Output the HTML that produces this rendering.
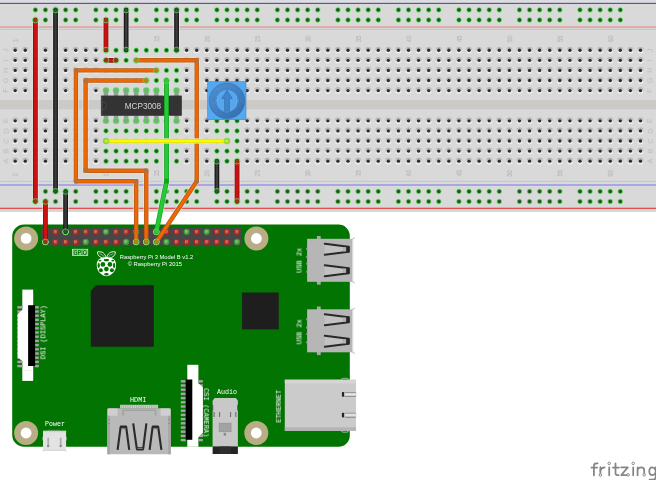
<!DOCTYPE html>
<html><head><meta charset="utf-8"><title>Fritzing - MCP3008 on Raspberry Pi 3</title>
<style>
html,body{margin:0;padding:0;background:#ffffff;overflow:hidden;}
body{width:656px;height:480px;font-family:"Liberation Sans",sans-serif;}
svg{display:block;}
</style></head><body>
<svg width="656" height="480" viewBox="0 0 656 480">
<rect x="0" y="0" width="656" height="480" fill="#ffffff"/>
<defs><filter id="gs" x="-20%" y="-20%" width="140%" height="140%"><feOffset dx="0" dy="0"/></filter></defs>
<rect x="-2" y="-2" width="660" height="213.6" fill="#d9d9d9"/>
<rect x="-2" y="-2" width="660" height="4.2" fill="#dcdcdc"/>
<rect x="-2" y="1.9" width="660" height="0.8" fill="#e6e4d2"/>
<rect x="-2" y="2.8" width="660" height="1.3" fill="#4e4ef0"/>
<rect x="-2" y="4.15" width="660" height="0.6" fill="#e2e1d8"/>
<rect x="-2" y="26.4" width="660" height="1.3" fill="#e89393"/>
<rect x="-2" y="28.9" width="660" height="0.9" fill="#c4c4c4"/>
<rect x="-2" y="100" width="660" height="9.4" fill="#cccac7"/>
<rect x="-2" y="180.9" width="660" height="0.9" fill="#c4c4c4"/>
<rect x="-2" y="184.2" width="660" height="1.6" fill="#9b9be6"/>
<rect x="-2" y="207.7" width="660" height="1.4" fill="#e45050"/>
<rect x="-2" y="209.4" width="660" height="0.9" fill="#d6dede"/>
<rect x="-2" y="210.6" width="660" height="1.0" fill="#d0d0d0"/>
<defs><linearGradient id="hh" x1="0" y1="0" x2="0" y2="1"><stop offset="0" stop-color="#aeaeae"/><stop offset="0.45" stop-color="#cecece"/><stop offset="0.7" stop-color="#e6e6e6"/><stop offset="1" stop-color="#f2f2f2"/></linearGradient><radialGradient id="gh" cx="0.5" cy="0.5" r="0.5"><stop offset="0" stop-color="#1e541e"/><stop offset="0.4" stop-color="#255e25"/><stop offset="0.52" stop-color="#3a8e3a"/><stop offset="0.66" stop-color="#6cc86c"/><stop offset="0.8" stop-color="#94e494"/><stop offset="0.9" stop-color="#b6eab6"/><stop offset="1" stop-color="#d9d9d9" stop-opacity="0"/></radialGradient><filter id="bl" x="-50%" y="-50%" width="200%" height="200%"><feGaussianBlur stdDeviation="0.5"/></filter><g id="dh"><circle r="3.3" fill="url(#hh)" filter="url(#bl)"/><circle r="1.68" fill="#2d2d2d"/></g><g id="gh0"><circle r="3.35" fill="url(#gh)"/></g></defs>
<circle cx="35.37" cy="9.88" r="3.35" fill="url(#gh)"/>
<circle cx="45.45" cy="9.88" r="3.35" fill="url(#gh)"/>
<circle cx="55.54" cy="9.88" r="3.35" fill="url(#gh)"/>
<circle cx="65.62" cy="9.88" r="3.35" fill="url(#gh)"/>
<circle cx="75.71" cy="9.88" r="3.35" fill="url(#gh)"/>
<circle cx="95.88" cy="9.88" r="3.35" fill="url(#gh)"/>
<circle cx="105.97" cy="9.88" r="3.35" fill="url(#gh)"/>
<circle cx="116.05" cy="9.88" r="3.35" fill="url(#gh)"/>
<circle cx="126.14" cy="9.88" r="3.35" fill="url(#gh)"/>
<circle cx="136.22" cy="9.88" r="3.35" fill="url(#gh)"/>
<circle cx="156.39" cy="9.88" r="3.35" fill="url(#gh)"/>
<circle cx="166.47" cy="9.88" r="3.35" fill="url(#gh)"/>
<circle cx="176.56" cy="9.88" r="3.35" fill="url(#gh)"/>
<circle cx="186.65" cy="9.88" r="3.35" fill="url(#gh)"/>
<circle cx="196.73" cy="9.88" r="3.35" fill="url(#gh)"/>
<circle cx="216.9" cy="9.88" r="3.35" fill="url(#gh)"/>
<circle cx="226.99" cy="9.88" r="3.35" fill="url(#gh)"/>
<circle cx="237.07" cy="9.88" r="3.35" fill="url(#gh)"/>
<circle cx="247.16" cy="9.88" r="3.35" fill="url(#gh)"/>
<circle cx="257.24" cy="9.88" r="3.35" fill="url(#gh)"/>
<circle cx="277.41" cy="9.88" r="3.35" fill="url(#gh)"/>
<circle cx="287.5" cy="9.88" r="3.35" fill="url(#gh)"/>
<circle cx="297.58" cy="9.88" r="3.35" fill="url(#gh)"/>
<circle cx="307.67" cy="9.88" r="3.35" fill="url(#gh)"/>
<circle cx="317.75" cy="9.88" r="3.35" fill="url(#gh)"/>
<circle cx="337.92" cy="9.88" r="3.35" fill="url(#gh)"/>
<circle cx="348" cy="9.88" r="3.35" fill="url(#gh)"/>
<circle cx="358.09" cy="9.88" r="3.35" fill="url(#gh)"/>
<circle cx="368.18" cy="9.88" r="3.35" fill="url(#gh)"/>
<circle cx="378.26" cy="9.88" r="3.35" fill="url(#gh)"/>
<circle cx="398.43" cy="9.88" r="3.35" fill="url(#gh)"/>
<circle cx="408.52" cy="9.88" r="3.35" fill="url(#gh)"/>
<circle cx="418.6" cy="9.88" r="3.35" fill="url(#gh)"/>
<circle cx="428.69" cy="9.88" r="3.35" fill="url(#gh)"/>
<circle cx="438.77" cy="9.88" r="3.35" fill="url(#gh)"/>
<circle cx="458.94" cy="9.88" r="3.35" fill="url(#gh)"/>
<circle cx="469.03" cy="9.88" r="3.35" fill="url(#gh)"/>
<circle cx="479.11" cy="9.88" r="3.35" fill="url(#gh)"/>
<circle cx="489.2" cy="9.88" r="3.35" fill="url(#gh)"/>
<circle cx="499.28" cy="9.88" r="3.35" fill="url(#gh)"/>
<circle cx="519.45" cy="9.88" r="3.35" fill="url(#gh)"/>
<circle cx="529.54" cy="9.88" r="3.35" fill="url(#gh)"/>
<circle cx="539.62" cy="9.88" r="3.35" fill="url(#gh)"/>
<circle cx="549.71" cy="9.88" r="3.35" fill="url(#gh)"/>
<circle cx="559.79" cy="9.88" r="3.35" fill="url(#gh)"/>
<circle cx="579.96" cy="9.88" r="3.35" fill="url(#gh)"/>
<circle cx="590.05" cy="9.88" r="3.35" fill="url(#gh)"/>
<circle cx="600.13" cy="9.88" r="3.35" fill="url(#gh)"/>
<circle cx="610.22" cy="9.88" r="3.35" fill="url(#gh)"/>
<circle cx="620.3" cy="9.88" r="3.35" fill="url(#gh)"/>
<circle cx="35.37" cy="19.97" r="3.35" fill="url(#gh)"/>
<circle cx="45.45" cy="19.97" r="3.35" fill="url(#gh)"/>
<circle cx="55.54" cy="19.97" r="3.35" fill="url(#gh)"/>
<circle cx="65.62" cy="19.97" r="3.35" fill="url(#gh)"/>
<circle cx="75.71" cy="19.97" r="3.35" fill="url(#gh)"/>
<circle cx="95.88" cy="19.97" r="3.35" fill="url(#gh)"/>
<circle cx="105.97" cy="19.97" r="3.35" fill="url(#gh)"/>
<circle cx="116.05" cy="19.97" r="3.35" fill="url(#gh)"/>
<circle cx="126.14" cy="19.97" r="3.35" fill="url(#gh)"/>
<circle cx="136.22" cy="19.97" r="3.35" fill="url(#gh)"/>
<circle cx="156.39" cy="19.97" r="3.35" fill="url(#gh)"/>
<circle cx="166.47" cy="19.97" r="3.35" fill="url(#gh)"/>
<circle cx="176.56" cy="19.97" r="3.35" fill="url(#gh)"/>
<circle cx="186.65" cy="19.97" r="3.35" fill="url(#gh)"/>
<circle cx="196.73" cy="19.97" r="3.35" fill="url(#gh)"/>
<circle cx="216.9" cy="19.97" r="3.35" fill="url(#gh)"/>
<circle cx="226.99" cy="19.97" r="3.35" fill="url(#gh)"/>
<circle cx="237.07" cy="19.97" r="3.35" fill="url(#gh)"/>
<circle cx="247.16" cy="19.97" r="3.35" fill="url(#gh)"/>
<circle cx="257.24" cy="19.97" r="3.35" fill="url(#gh)"/>
<circle cx="277.41" cy="19.97" r="3.35" fill="url(#gh)"/>
<circle cx="287.5" cy="19.97" r="3.35" fill="url(#gh)"/>
<circle cx="297.58" cy="19.97" r="3.35" fill="url(#gh)"/>
<circle cx="307.67" cy="19.97" r="3.35" fill="url(#gh)"/>
<circle cx="317.75" cy="19.97" r="3.35" fill="url(#gh)"/>
<circle cx="337.92" cy="19.97" r="3.35" fill="url(#gh)"/>
<circle cx="348" cy="19.97" r="3.35" fill="url(#gh)"/>
<circle cx="358.09" cy="19.97" r="3.35" fill="url(#gh)"/>
<circle cx="368.18" cy="19.97" r="3.35" fill="url(#gh)"/>
<circle cx="378.26" cy="19.97" r="3.35" fill="url(#gh)"/>
<circle cx="398.43" cy="19.97" r="3.35" fill="url(#gh)"/>
<circle cx="408.52" cy="19.97" r="3.35" fill="url(#gh)"/>
<circle cx="418.6" cy="19.97" r="3.35" fill="url(#gh)"/>
<circle cx="428.69" cy="19.97" r="3.35" fill="url(#gh)"/>
<circle cx="438.77" cy="19.97" r="3.35" fill="url(#gh)"/>
<circle cx="458.94" cy="19.97" r="3.35" fill="url(#gh)"/>
<circle cx="469.03" cy="19.97" r="3.35" fill="url(#gh)"/>
<circle cx="479.11" cy="19.97" r="3.35" fill="url(#gh)"/>
<circle cx="489.2" cy="19.97" r="3.35" fill="url(#gh)"/>
<circle cx="499.28" cy="19.97" r="3.35" fill="url(#gh)"/>
<circle cx="519.45" cy="19.97" r="3.35" fill="url(#gh)"/>
<circle cx="529.54" cy="19.97" r="3.35" fill="url(#gh)"/>
<circle cx="539.62" cy="19.97" r="3.35" fill="url(#gh)"/>
<circle cx="549.71" cy="19.97" r="3.35" fill="url(#gh)"/>
<circle cx="559.79" cy="19.97" r="3.35" fill="url(#gh)"/>
<circle cx="579.96" cy="19.97" r="3.35" fill="url(#gh)"/>
<circle cx="590.05" cy="19.97" r="3.35" fill="url(#gh)"/>
<circle cx="600.13" cy="19.97" r="3.35" fill="url(#gh)"/>
<circle cx="610.22" cy="19.97" r="3.35" fill="url(#gh)"/>
<circle cx="620.3" cy="19.97" r="3.35" fill="url(#gh)"/>
<circle cx="35.37" cy="191.41" r="3.35" fill="url(#gh)"/>
<circle cx="45.45" cy="191.41" r="3.35" fill="url(#gh)"/>
<circle cx="55.54" cy="191.41" r="3.35" fill="url(#gh)"/>
<circle cx="65.62" cy="191.41" r="3.35" fill="url(#gh)"/>
<circle cx="75.71" cy="191.41" r="3.35" fill="url(#gh)"/>
<circle cx="95.88" cy="191.41" r="3.35" fill="url(#gh)"/>
<circle cx="105.97" cy="191.41" r="3.35" fill="url(#gh)"/>
<circle cx="116.05" cy="191.41" r="3.35" fill="url(#gh)"/>
<circle cx="126.14" cy="191.41" r="3.35" fill="url(#gh)"/>
<circle cx="136.22" cy="191.41" r="3.35" fill="url(#gh)"/>
<circle cx="156.39" cy="191.41" r="3.35" fill="url(#gh)"/>
<circle cx="166.47" cy="191.41" r="3.35" fill="url(#gh)"/>
<circle cx="176.56" cy="191.41" r="3.35" fill="url(#gh)"/>
<circle cx="186.65" cy="191.41" r="3.35" fill="url(#gh)"/>
<circle cx="196.73" cy="191.41" r="3.35" fill="url(#gh)"/>
<circle cx="216.9" cy="191.41" r="3.35" fill="url(#gh)"/>
<circle cx="226.99" cy="191.41" r="3.35" fill="url(#gh)"/>
<circle cx="237.07" cy="191.41" r="3.35" fill="url(#gh)"/>
<circle cx="247.16" cy="191.41" r="3.35" fill="url(#gh)"/>
<circle cx="257.24" cy="191.41" r="3.35" fill="url(#gh)"/>
<circle cx="277.41" cy="191.41" r="3.35" fill="url(#gh)"/>
<circle cx="287.5" cy="191.41" r="3.35" fill="url(#gh)"/>
<circle cx="297.58" cy="191.41" r="3.35" fill="url(#gh)"/>
<circle cx="307.67" cy="191.41" r="3.35" fill="url(#gh)"/>
<circle cx="317.75" cy="191.41" r="3.35" fill="url(#gh)"/>
<circle cx="337.92" cy="191.41" r="3.35" fill="url(#gh)"/>
<circle cx="348" cy="191.41" r="3.35" fill="url(#gh)"/>
<circle cx="358.09" cy="191.41" r="3.35" fill="url(#gh)"/>
<circle cx="368.18" cy="191.41" r="3.35" fill="url(#gh)"/>
<circle cx="378.26" cy="191.41" r="3.35" fill="url(#gh)"/>
<circle cx="398.43" cy="191.41" r="3.35" fill="url(#gh)"/>
<circle cx="408.52" cy="191.41" r="3.35" fill="url(#gh)"/>
<circle cx="418.6" cy="191.41" r="3.35" fill="url(#gh)"/>
<circle cx="428.69" cy="191.41" r="3.35" fill="url(#gh)"/>
<circle cx="438.77" cy="191.41" r="3.35" fill="url(#gh)"/>
<circle cx="458.94" cy="191.41" r="3.35" fill="url(#gh)"/>
<circle cx="469.03" cy="191.41" r="3.35" fill="url(#gh)"/>
<circle cx="479.11" cy="191.41" r="3.35" fill="url(#gh)"/>
<circle cx="489.2" cy="191.41" r="3.35" fill="url(#gh)"/>
<circle cx="499.28" cy="191.41" r="3.35" fill="url(#gh)"/>
<circle cx="519.45" cy="191.41" r="3.35" fill="url(#gh)"/>
<circle cx="529.54" cy="191.41" r="3.35" fill="url(#gh)"/>
<circle cx="539.62" cy="191.41" r="3.35" fill="url(#gh)"/>
<circle cx="549.71" cy="191.41" r="3.35" fill="url(#gh)"/>
<circle cx="559.79" cy="191.41" r="3.35" fill="url(#gh)"/>
<circle cx="579.96" cy="191.41" r="3.35" fill="url(#gh)"/>
<circle cx="590.05" cy="191.41" r="3.35" fill="url(#gh)"/>
<circle cx="600.13" cy="191.41" r="3.35" fill="url(#gh)"/>
<circle cx="610.22" cy="191.41" r="3.35" fill="url(#gh)"/>
<circle cx="620.3" cy="191.41" r="3.35" fill="url(#gh)"/>
<circle cx="35.37" cy="201.5" r="3.35" fill="url(#gh)"/>
<circle cx="45.45" cy="201.5" r="3.35" fill="url(#gh)"/>
<circle cx="55.54" cy="201.5" r="3.35" fill="url(#gh)"/>
<circle cx="65.62" cy="201.5" r="3.35" fill="url(#gh)"/>
<circle cx="75.71" cy="201.5" r="3.35" fill="url(#gh)"/>
<circle cx="95.88" cy="201.5" r="3.35" fill="url(#gh)"/>
<circle cx="105.97" cy="201.5" r="3.35" fill="url(#gh)"/>
<circle cx="116.05" cy="201.5" r="3.35" fill="url(#gh)"/>
<circle cx="126.14" cy="201.5" r="3.35" fill="url(#gh)"/>
<circle cx="136.22" cy="201.5" r="3.35" fill="url(#gh)"/>
<circle cx="156.39" cy="201.5" r="3.35" fill="url(#gh)"/>
<circle cx="166.47" cy="201.5" r="3.35" fill="url(#gh)"/>
<circle cx="176.56" cy="201.5" r="3.35" fill="url(#gh)"/>
<circle cx="186.65" cy="201.5" r="3.35" fill="url(#gh)"/>
<circle cx="196.73" cy="201.5" r="3.35" fill="url(#gh)"/>
<circle cx="216.9" cy="201.5" r="3.35" fill="url(#gh)"/>
<circle cx="226.99" cy="201.5" r="3.35" fill="url(#gh)"/>
<circle cx="237.07" cy="201.5" r="3.35" fill="url(#gh)"/>
<circle cx="247.16" cy="201.5" r="3.35" fill="url(#gh)"/>
<circle cx="257.24" cy="201.5" r="3.35" fill="url(#gh)"/>
<circle cx="277.41" cy="201.5" r="3.35" fill="url(#gh)"/>
<circle cx="287.5" cy="201.5" r="3.35" fill="url(#gh)"/>
<circle cx="297.58" cy="201.5" r="3.35" fill="url(#gh)"/>
<circle cx="307.67" cy="201.5" r="3.35" fill="url(#gh)"/>
<circle cx="317.75" cy="201.5" r="3.35" fill="url(#gh)"/>
<circle cx="337.92" cy="201.5" r="3.35" fill="url(#gh)"/>
<circle cx="348" cy="201.5" r="3.35" fill="url(#gh)"/>
<circle cx="358.09" cy="201.5" r="3.35" fill="url(#gh)"/>
<circle cx="368.18" cy="201.5" r="3.35" fill="url(#gh)"/>
<circle cx="378.26" cy="201.5" r="3.35" fill="url(#gh)"/>
<circle cx="398.43" cy="201.5" r="3.35" fill="url(#gh)"/>
<circle cx="408.52" cy="201.5" r="3.35" fill="url(#gh)"/>
<circle cx="418.6" cy="201.5" r="3.35" fill="url(#gh)"/>
<circle cx="428.69" cy="201.5" r="3.35" fill="url(#gh)"/>
<circle cx="438.77" cy="201.5" r="3.35" fill="url(#gh)"/>
<circle cx="458.94" cy="201.5" r="3.35" fill="url(#gh)"/>
<circle cx="469.03" cy="201.5" r="3.35" fill="url(#gh)"/>
<circle cx="479.11" cy="201.5" r="3.35" fill="url(#gh)"/>
<circle cx="489.2" cy="201.5" r="3.35" fill="url(#gh)"/>
<circle cx="499.28" cy="201.5" r="3.35" fill="url(#gh)"/>
<circle cx="519.45" cy="201.5" r="3.35" fill="url(#gh)"/>
<circle cx="529.54" cy="201.5" r="3.35" fill="url(#gh)"/>
<circle cx="539.62" cy="201.5" r="3.35" fill="url(#gh)"/>
<circle cx="549.71" cy="201.5" r="3.35" fill="url(#gh)"/>
<circle cx="559.79" cy="201.5" r="3.35" fill="url(#gh)"/>
<circle cx="579.96" cy="201.5" r="3.35" fill="url(#gh)"/>
<circle cx="590.05" cy="201.5" r="3.35" fill="url(#gh)"/>
<circle cx="600.13" cy="201.5" r="3.35" fill="url(#gh)"/>
<circle cx="610.22" cy="201.5" r="3.35" fill="url(#gh)"/>
<circle cx="620.3" cy="201.5" r="3.35" fill="url(#gh)"/>
<circle cx="15.2" cy="50.22" r="3.3" fill="url(#hh)" filter="url(#bl)"/><circle cx="15.2" cy="50.22" r="1.68" fill="#2d2d2d"/>
<circle cx="15.2" cy="60.31" r="3.3" fill="url(#hh)" filter="url(#bl)"/><circle cx="15.2" cy="60.31" r="1.68" fill="#2d2d2d"/>
<circle cx="15.2" cy="70.39" r="3.3" fill="url(#hh)" filter="url(#bl)"/><circle cx="15.2" cy="70.39" r="1.68" fill="#2d2d2d"/>
<circle cx="15.2" cy="80.47" r="3.3" fill="url(#hh)" filter="url(#bl)"/><circle cx="15.2" cy="80.47" r="1.68" fill="#2d2d2d"/>
<circle cx="15.2" cy="90.56" r="3.3" fill="url(#hh)" filter="url(#bl)"/><circle cx="15.2" cy="90.56" r="1.68" fill="#2d2d2d"/>
<circle cx="15.2" cy="120.81" r="3.3" fill="url(#hh)" filter="url(#bl)"/><circle cx="15.2" cy="120.81" r="1.68" fill="#2d2d2d"/>
<circle cx="15.2" cy="130.9" r="3.3" fill="url(#hh)" filter="url(#bl)"/><circle cx="15.2" cy="130.9" r="1.68" fill="#2d2d2d"/>
<circle cx="15.2" cy="140.99" r="3.3" fill="url(#hh)" filter="url(#bl)"/><circle cx="15.2" cy="140.99" r="1.68" fill="#2d2d2d"/>
<circle cx="15.2" cy="151.07" r="3.3" fill="url(#hh)" filter="url(#bl)"/><circle cx="15.2" cy="151.07" r="1.68" fill="#2d2d2d"/>
<circle cx="15.2" cy="161.16" r="3.3" fill="url(#hh)" filter="url(#bl)"/><circle cx="15.2" cy="161.16" r="1.68" fill="#2d2d2d"/>
<circle cx="25.29" cy="50.22" r="3.3" fill="url(#hh)" filter="url(#bl)"/><circle cx="25.29" cy="50.22" r="1.68" fill="#2d2d2d"/>
<circle cx="25.29" cy="60.31" r="3.3" fill="url(#hh)" filter="url(#bl)"/><circle cx="25.29" cy="60.31" r="1.68" fill="#2d2d2d"/>
<circle cx="25.29" cy="70.39" r="3.3" fill="url(#hh)" filter="url(#bl)"/><circle cx="25.29" cy="70.39" r="1.68" fill="#2d2d2d"/>
<circle cx="25.29" cy="80.47" r="3.3" fill="url(#hh)" filter="url(#bl)"/><circle cx="25.29" cy="80.47" r="1.68" fill="#2d2d2d"/>
<circle cx="25.29" cy="90.56" r="3.3" fill="url(#hh)" filter="url(#bl)"/><circle cx="25.29" cy="90.56" r="1.68" fill="#2d2d2d"/>
<circle cx="25.29" cy="120.81" r="3.3" fill="url(#hh)" filter="url(#bl)"/><circle cx="25.29" cy="120.81" r="1.68" fill="#2d2d2d"/>
<circle cx="25.29" cy="130.9" r="3.3" fill="url(#hh)" filter="url(#bl)"/><circle cx="25.29" cy="130.9" r="1.68" fill="#2d2d2d"/>
<circle cx="25.29" cy="140.99" r="3.3" fill="url(#hh)" filter="url(#bl)"/><circle cx="25.29" cy="140.99" r="1.68" fill="#2d2d2d"/>
<circle cx="25.29" cy="151.07" r="3.3" fill="url(#hh)" filter="url(#bl)"/><circle cx="25.29" cy="151.07" r="1.68" fill="#2d2d2d"/>
<circle cx="25.29" cy="161.16" r="3.3" fill="url(#hh)" filter="url(#bl)"/><circle cx="25.29" cy="161.16" r="1.68" fill="#2d2d2d"/>
<circle cx="35.37" cy="50.22" r="3.3" fill="url(#hh)" filter="url(#bl)"/><circle cx="35.37" cy="50.22" r="1.68" fill="#2d2d2d"/>
<circle cx="35.37" cy="60.31" r="3.3" fill="url(#hh)" filter="url(#bl)"/><circle cx="35.37" cy="60.31" r="1.68" fill="#2d2d2d"/>
<circle cx="35.37" cy="70.39" r="3.3" fill="url(#hh)" filter="url(#bl)"/><circle cx="35.37" cy="70.39" r="1.68" fill="#2d2d2d"/>
<circle cx="35.37" cy="80.47" r="3.3" fill="url(#hh)" filter="url(#bl)"/><circle cx="35.37" cy="80.47" r="1.68" fill="#2d2d2d"/>
<circle cx="35.37" cy="90.56" r="3.3" fill="url(#hh)" filter="url(#bl)"/><circle cx="35.37" cy="90.56" r="1.68" fill="#2d2d2d"/>
<circle cx="35.37" cy="120.81" r="3.3" fill="url(#hh)" filter="url(#bl)"/><circle cx="35.37" cy="120.81" r="1.68" fill="#2d2d2d"/>
<circle cx="35.37" cy="130.9" r="3.3" fill="url(#hh)" filter="url(#bl)"/><circle cx="35.37" cy="130.9" r="1.68" fill="#2d2d2d"/>
<circle cx="35.37" cy="140.99" r="3.3" fill="url(#hh)" filter="url(#bl)"/><circle cx="35.37" cy="140.99" r="1.68" fill="#2d2d2d"/>
<circle cx="35.37" cy="151.07" r="3.3" fill="url(#hh)" filter="url(#bl)"/><circle cx="35.37" cy="151.07" r="1.68" fill="#2d2d2d"/>
<circle cx="35.37" cy="161.16" r="3.3" fill="url(#hh)" filter="url(#bl)"/><circle cx="35.37" cy="161.16" r="1.68" fill="#2d2d2d"/>
<circle cx="45.45" cy="50.22" r="3.3" fill="url(#hh)" filter="url(#bl)"/><circle cx="45.45" cy="50.22" r="1.68" fill="#2d2d2d"/>
<circle cx="45.45" cy="60.31" r="3.3" fill="url(#hh)" filter="url(#bl)"/><circle cx="45.45" cy="60.31" r="1.68" fill="#2d2d2d"/>
<circle cx="45.45" cy="70.39" r="3.3" fill="url(#hh)" filter="url(#bl)"/><circle cx="45.45" cy="70.39" r="1.68" fill="#2d2d2d"/>
<circle cx="45.45" cy="80.47" r="3.3" fill="url(#hh)" filter="url(#bl)"/><circle cx="45.45" cy="80.47" r="1.68" fill="#2d2d2d"/>
<circle cx="45.45" cy="90.56" r="3.3" fill="url(#hh)" filter="url(#bl)"/><circle cx="45.45" cy="90.56" r="1.68" fill="#2d2d2d"/>
<circle cx="45.45" cy="120.81" r="3.3" fill="url(#hh)" filter="url(#bl)"/><circle cx="45.45" cy="120.81" r="1.68" fill="#2d2d2d"/>
<circle cx="45.45" cy="130.9" r="3.3" fill="url(#hh)" filter="url(#bl)"/><circle cx="45.45" cy="130.9" r="1.68" fill="#2d2d2d"/>
<circle cx="45.45" cy="140.99" r="3.3" fill="url(#hh)" filter="url(#bl)"/><circle cx="45.45" cy="140.99" r="1.68" fill="#2d2d2d"/>
<circle cx="45.45" cy="151.07" r="3.3" fill="url(#hh)" filter="url(#bl)"/><circle cx="45.45" cy="151.07" r="1.68" fill="#2d2d2d"/>
<circle cx="45.45" cy="161.16" r="3.3" fill="url(#hh)" filter="url(#bl)"/><circle cx="45.45" cy="161.16" r="1.68" fill="#2d2d2d"/>
<circle cx="55.54" cy="50.22" r="3.3" fill="url(#hh)" filter="url(#bl)"/><circle cx="55.54" cy="50.22" r="1.68" fill="#2d2d2d"/>
<circle cx="55.54" cy="60.31" r="3.3" fill="url(#hh)" filter="url(#bl)"/><circle cx="55.54" cy="60.31" r="1.68" fill="#2d2d2d"/>
<circle cx="55.54" cy="70.39" r="3.3" fill="url(#hh)" filter="url(#bl)"/><circle cx="55.54" cy="70.39" r="1.68" fill="#2d2d2d"/>
<circle cx="55.54" cy="80.47" r="3.3" fill="url(#hh)" filter="url(#bl)"/><circle cx="55.54" cy="80.47" r="1.68" fill="#2d2d2d"/>
<circle cx="55.54" cy="90.56" r="3.3" fill="url(#hh)" filter="url(#bl)"/><circle cx="55.54" cy="90.56" r="1.68" fill="#2d2d2d"/>
<circle cx="55.54" cy="120.81" r="3.3" fill="url(#hh)" filter="url(#bl)"/><circle cx="55.54" cy="120.81" r="1.68" fill="#2d2d2d"/>
<circle cx="55.54" cy="130.9" r="3.3" fill="url(#hh)" filter="url(#bl)"/><circle cx="55.54" cy="130.9" r="1.68" fill="#2d2d2d"/>
<circle cx="55.54" cy="140.99" r="3.3" fill="url(#hh)" filter="url(#bl)"/><circle cx="55.54" cy="140.99" r="1.68" fill="#2d2d2d"/>
<circle cx="55.54" cy="151.07" r="3.3" fill="url(#hh)" filter="url(#bl)"/><circle cx="55.54" cy="151.07" r="1.68" fill="#2d2d2d"/>
<circle cx="55.54" cy="161.16" r="3.3" fill="url(#hh)" filter="url(#bl)"/><circle cx="55.54" cy="161.16" r="1.68" fill="#2d2d2d"/>
<circle cx="65.62" cy="50.22" r="3.3" fill="url(#hh)" filter="url(#bl)"/><circle cx="65.62" cy="50.22" r="1.68" fill="#2d2d2d"/>
<circle cx="65.62" cy="60.31" r="3.3" fill="url(#hh)" filter="url(#bl)"/><circle cx="65.62" cy="60.31" r="1.68" fill="#2d2d2d"/>
<circle cx="65.62" cy="70.39" r="3.3" fill="url(#hh)" filter="url(#bl)"/><circle cx="65.62" cy="70.39" r="1.68" fill="#2d2d2d"/>
<circle cx="65.62" cy="80.47" r="3.3" fill="url(#hh)" filter="url(#bl)"/><circle cx="65.62" cy="80.47" r="1.68" fill="#2d2d2d"/>
<circle cx="65.62" cy="90.56" r="3.3" fill="url(#hh)" filter="url(#bl)"/><circle cx="65.62" cy="90.56" r="1.68" fill="#2d2d2d"/>
<circle cx="65.62" cy="120.81" r="3.3" fill="url(#hh)" filter="url(#bl)"/><circle cx="65.62" cy="120.81" r="1.68" fill="#2d2d2d"/>
<circle cx="65.62" cy="130.9" r="3.3" fill="url(#hh)" filter="url(#bl)"/><circle cx="65.62" cy="130.9" r="1.68" fill="#2d2d2d"/>
<circle cx="65.62" cy="140.99" r="3.3" fill="url(#hh)" filter="url(#bl)"/><circle cx="65.62" cy="140.99" r="1.68" fill="#2d2d2d"/>
<circle cx="65.62" cy="151.07" r="3.3" fill="url(#hh)" filter="url(#bl)"/><circle cx="65.62" cy="151.07" r="1.68" fill="#2d2d2d"/>
<circle cx="65.62" cy="161.16" r="3.3" fill="url(#hh)" filter="url(#bl)"/><circle cx="65.62" cy="161.16" r="1.68" fill="#2d2d2d"/>
<circle cx="75.71" cy="50.22" r="3.3" fill="url(#hh)" filter="url(#bl)"/><circle cx="75.71" cy="50.22" r="1.68" fill="#2d2d2d"/>
<circle cx="75.71" cy="60.31" r="3.3" fill="url(#hh)" filter="url(#bl)"/><circle cx="75.71" cy="60.31" r="1.68" fill="#2d2d2d"/>
<circle cx="75.71" cy="70.39" r="3.3" fill="url(#hh)" filter="url(#bl)"/><circle cx="75.71" cy="70.39" r="1.68" fill="#2d2d2d"/>
<circle cx="75.71" cy="80.47" r="3.3" fill="url(#hh)" filter="url(#bl)"/><circle cx="75.71" cy="80.47" r="1.68" fill="#2d2d2d"/>
<circle cx="75.71" cy="90.56" r="3.3" fill="url(#hh)" filter="url(#bl)"/><circle cx="75.71" cy="90.56" r="1.68" fill="#2d2d2d"/>
<circle cx="75.71" cy="120.81" r="3.3" fill="url(#hh)" filter="url(#bl)"/><circle cx="75.71" cy="120.81" r="1.68" fill="#2d2d2d"/>
<circle cx="75.71" cy="130.9" r="3.3" fill="url(#hh)" filter="url(#bl)"/><circle cx="75.71" cy="130.9" r="1.68" fill="#2d2d2d"/>
<circle cx="75.71" cy="140.99" r="3.3" fill="url(#hh)" filter="url(#bl)"/><circle cx="75.71" cy="140.99" r="1.68" fill="#2d2d2d"/>
<circle cx="75.71" cy="151.07" r="3.3" fill="url(#hh)" filter="url(#bl)"/><circle cx="75.71" cy="151.07" r="1.68" fill="#2d2d2d"/>
<circle cx="75.71" cy="161.16" r="3.3" fill="url(#hh)" filter="url(#bl)"/><circle cx="75.71" cy="161.16" r="1.68" fill="#2d2d2d"/>
<circle cx="85.8" cy="50.22" r="3.3" fill="url(#hh)" filter="url(#bl)"/><circle cx="85.8" cy="50.22" r="1.68" fill="#2d2d2d"/>
<circle cx="85.8" cy="60.31" r="3.3" fill="url(#hh)" filter="url(#bl)"/><circle cx="85.8" cy="60.31" r="1.68" fill="#2d2d2d"/>
<circle cx="85.8" cy="70.39" r="3.3" fill="url(#hh)" filter="url(#bl)"/><circle cx="85.8" cy="70.39" r="1.68" fill="#2d2d2d"/>
<circle cx="85.8" cy="80.47" r="3.3" fill="url(#hh)" filter="url(#bl)"/><circle cx="85.8" cy="80.47" r="1.68" fill="#2d2d2d"/>
<circle cx="85.8" cy="90.56" r="3.3" fill="url(#hh)" filter="url(#bl)"/><circle cx="85.8" cy="90.56" r="1.68" fill="#2d2d2d"/>
<circle cx="85.8" cy="120.81" r="3.3" fill="url(#hh)" filter="url(#bl)"/><circle cx="85.8" cy="120.81" r="1.68" fill="#2d2d2d"/>
<circle cx="85.8" cy="130.9" r="3.3" fill="url(#hh)" filter="url(#bl)"/><circle cx="85.8" cy="130.9" r="1.68" fill="#2d2d2d"/>
<circle cx="85.8" cy="140.99" r="3.3" fill="url(#hh)" filter="url(#bl)"/><circle cx="85.8" cy="140.99" r="1.68" fill="#2d2d2d"/>
<circle cx="85.8" cy="151.07" r="3.3" fill="url(#hh)" filter="url(#bl)"/><circle cx="85.8" cy="151.07" r="1.68" fill="#2d2d2d"/>
<circle cx="85.8" cy="161.16" r="3.3" fill="url(#hh)" filter="url(#bl)"/><circle cx="85.8" cy="161.16" r="1.68" fill="#2d2d2d"/>
<circle cx="95.88" cy="50.22" r="3.3" fill="url(#hh)" filter="url(#bl)"/><circle cx="95.88" cy="50.22" r="1.68" fill="#2d2d2d"/>
<circle cx="95.88" cy="60.31" r="3.3" fill="url(#hh)" filter="url(#bl)"/><circle cx="95.88" cy="60.31" r="1.68" fill="#2d2d2d"/>
<circle cx="95.88" cy="70.39" r="3.3" fill="url(#hh)" filter="url(#bl)"/><circle cx="95.88" cy="70.39" r="1.68" fill="#2d2d2d"/>
<circle cx="95.88" cy="80.47" r="3.3" fill="url(#hh)" filter="url(#bl)"/><circle cx="95.88" cy="80.47" r="1.68" fill="#2d2d2d"/>
<circle cx="95.88" cy="90.56" r="3.3" fill="url(#hh)" filter="url(#bl)"/><circle cx="95.88" cy="90.56" r="1.68" fill="#2d2d2d"/>
<circle cx="95.88" cy="120.81" r="3.3" fill="url(#hh)" filter="url(#bl)"/><circle cx="95.88" cy="120.81" r="1.68" fill="#2d2d2d"/>
<circle cx="95.88" cy="130.9" r="3.3" fill="url(#hh)" filter="url(#bl)"/><circle cx="95.88" cy="130.9" r="1.68" fill="#2d2d2d"/>
<circle cx="95.88" cy="140.99" r="3.3" fill="url(#hh)" filter="url(#bl)"/><circle cx="95.88" cy="140.99" r="1.68" fill="#2d2d2d"/>
<circle cx="95.88" cy="151.07" r="3.3" fill="url(#hh)" filter="url(#bl)"/><circle cx="95.88" cy="151.07" r="1.68" fill="#2d2d2d"/>
<circle cx="95.88" cy="161.16" r="3.3" fill="url(#hh)" filter="url(#bl)"/><circle cx="95.88" cy="161.16" r="1.68" fill="#2d2d2d"/>
<circle cx="105.97" cy="50.22" r="3.35" fill="url(#gh)"/>
<circle cx="105.97" cy="60.31" r="3.35" fill="url(#gh)"/>
<circle cx="105.97" cy="70.39" r="3.35" fill="url(#gh)"/>
<circle cx="105.97" cy="80.47" r="3.35" fill="url(#gh)"/>
<circle cx="105.97" cy="90.56" r="3.35" fill="url(#gh)"/>
<circle cx="105.97" cy="120.81" r="3.35" fill="url(#gh)"/>
<circle cx="105.97" cy="130.9" r="3.35" fill="url(#gh)"/>
<circle cx="105.97" cy="140.99" r="3.35" fill="url(#gh)"/>
<circle cx="105.97" cy="151.07" r="3.35" fill="url(#gh)"/>
<circle cx="105.97" cy="161.16" r="3.35" fill="url(#gh)"/>
<circle cx="116.05" cy="50.22" r="3.35" fill="url(#gh)"/>
<circle cx="116.05" cy="60.31" r="3.35" fill="url(#gh)"/>
<circle cx="116.05" cy="70.39" r="3.35" fill="url(#gh)"/>
<circle cx="116.05" cy="80.47" r="3.35" fill="url(#gh)"/>
<circle cx="116.05" cy="90.56" r="3.35" fill="url(#gh)"/>
<circle cx="116.05" cy="120.81" r="3.35" fill="url(#gh)"/>
<circle cx="116.05" cy="130.9" r="3.35" fill="url(#gh)"/>
<circle cx="116.05" cy="140.99" r="3.35" fill="url(#gh)"/>
<circle cx="116.05" cy="151.07" r="3.35" fill="url(#gh)"/>
<circle cx="116.05" cy="161.16" r="3.35" fill="url(#gh)"/>
<circle cx="126.14" cy="50.22" r="3.35" fill="url(#gh)"/>
<circle cx="126.14" cy="60.31" r="3.35" fill="url(#gh)"/>
<circle cx="126.14" cy="70.39" r="3.35" fill="url(#gh)"/>
<circle cx="126.14" cy="80.47" r="3.35" fill="url(#gh)"/>
<circle cx="126.14" cy="90.56" r="3.35" fill="url(#gh)"/>
<circle cx="126.14" cy="120.81" r="3.35" fill="url(#gh)"/>
<circle cx="126.14" cy="130.9" r="3.35" fill="url(#gh)"/>
<circle cx="126.14" cy="140.99" r="3.35" fill="url(#gh)"/>
<circle cx="126.14" cy="151.07" r="3.35" fill="url(#gh)"/>
<circle cx="126.14" cy="161.16" r="3.35" fill="url(#gh)"/>
<circle cx="136.22" cy="50.22" r="3.35" fill="url(#gh)"/>
<circle cx="136.22" cy="60.31" r="3.35" fill="url(#gh)"/>
<circle cx="136.22" cy="70.39" r="3.35" fill="url(#gh)"/>
<circle cx="136.22" cy="80.47" r="3.35" fill="url(#gh)"/>
<circle cx="136.22" cy="90.56" r="3.35" fill="url(#gh)"/>
<circle cx="136.22" cy="120.81" r="3.35" fill="url(#gh)"/>
<circle cx="136.22" cy="130.9" r="3.35" fill="url(#gh)"/>
<circle cx="136.22" cy="140.99" r="3.35" fill="url(#gh)"/>
<circle cx="136.22" cy="151.07" r="3.35" fill="url(#gh)"/>
<circle cx="136.22" cy="161.16" r="3.35" fill="url(#gh)"/>
<circle cx="146.31" cy="50.22" r="3.35" fill="url(#gh)"/>
<circle cx="146.31" cy="60.31" r="3.35" fill="url(#gh)"/>
<circle cx="146.31" cy="70.39" r="3.35" fill="url(#gh)"/>
<circle cx="146.31" cy="80.47" r="3.35" fill="url(#gh)"/>
<circle cx="146.31" cy="90.56" r="3.35" fill="url(#gh)"/>
<circle cx="146.31" cy="120.81" r="3.35" fill="url(#gh)"/>
<circle cx="146.31" cy="130.9" r="3.35" fill="url(#gh)"/>
<circle cx="146.31" cy="140.99" r="3.35" fill="url(#gh)"/>
<circle cx="146.31" cy="151.07" r="3.35" fill="url(#gh)"/>
<circle cx="146.31" cy="161.16" r="3.35" fill="url(#gh)"/>
<circle cx="156.39" cy="50.22" r="3.35" fill="url(#gh)"/>
<circle cx="156.39" cy="60.31" r="3.35" fill="url(#gh)"/>
<circle cx="156.39" cy="70.39" r="3.35" fill="url(#gh)"/>
<circle cx="156.39" cy="80.47" r="3.35" fill="url(#gh)"/>
<circle cx="156.39" cy="90.56" r="3.35" fill="url(#gh)"/>
<circle cx="156.39" cy="120.81" r="3.35" fill="url(#gh)"/>
<circle cx="156.39" cy="130.9" r="3.35" fill="url(#gh)"/>
<circle cx="156.39" cy="140.99" r="3.35" fill="url(#gh)"/>
<circle cx="156.39" cy="151.07" r="3.35" fill="url(#gh)"/>
<circle cx="156.39" cy="161.16" r="3.35" fill="url(#gh)"/>
<circle cx="166.47" cy="50.22" r="3.35" fill="url(#gh)"/>
<circle cx="166.47" cy="60.31" r="3.35" fill="url(#gh)"/>
<circle cx="166.47" cy="70.39" r="3.35" fill="url(#gh)"/>
<circle cx="166.47" cy="80.47" r="3.35" fill="url(#gh)"/>
<circle cx="166.47" cy="90.56" r="3.35" fill="url(#gh)"/>
<circle cx="166.47" cy="120.81" r="3.35" fill="url(#gh)"/>
<circle cx="166.47" cy="130.9" r="3.35" fill="url(#gh)"/>
<circle cx="166.47" cy="140.99" r="3.35" fill="url(#gh)"/>
<circle cx="166.47" cy="151.07" r="3.35" fill="url(#gh)"/>
<circle cx="166.47" cy="161.16" r="3.35" fill="url(#gh)"/>
<circle cx="176.56" cy="50.22" r="3.35" fill="url(#gh)"/>
<circle cx="176.56" cy="60.31" r="3.35" fill="url(#gh)"/>
<circle cx="176.56" cy="70.39" r="3.35" fill="url(#gh)"/>
<circle cx="176.56" cy="80.47" r="3.35" fill="url(#gh)"/>
<circle cx="176.56" cy="90.56" r="3.35" fill="url(#gh)"/>
<circle cx="176.56" cy="120.81" r="3.35" fill="url(#gh)"/>
<circle cx="176.56" cy="130.9" r="3.35" fill="url(#gh)"/>
<circle cx="176.56" cy="140.99" r="3.35" fill="url(#gh)"/>
<circle cx="176.56" cy="151.07" r="3.35" fill="url(#gh)"/>
<circle cx="176.56" cy="161.16" r="3.35" fill="url(#gh)"/>
<circle cx="186.65" cy="50.22" r="3.3" fill="url(#hh)" filter="url(#bl)"/><circle cx="186.65" cy="50.22" r="1.68" fill="#2d2d2d"/>
<circle cx="186.65" cy="60.31" r="3.3" fill="url(#hh)" filter="url(#bl)"/><circle cx="186.65" cy="60.31" r="1.68" fill="#2d2d2d"/>
<circle cx="186.65" cy="70.39" r="3.3" fill="url(#hh)" filter="url(#bl)"/><circle cx="186.65" cy="70.39" r="1.68" fill="#2d2d2d"/>
<circle cx="186.65" cy="80.47" r="3.3" fill="url(#hh)" filter="url(#bl)"/><circle cx="186.65" cy="80.47" r="1.68" fill="#2d2d2d"/>
<circle cx="186.65" cy="90.56" r="3.3" fill="url(#hh)" filter="url(#bl)"/><circle cx="186.65" cy="90.56" r="1.68" fill="#2d2d2d"/>
<circle cx="186.65" cy="120.81" r="3.3" fill="url(#hh)" filter="url(#bl)"/><circle cx="186.65" cy="120.81" r="1.68" fill="#2d2d2d"/>
<circle cx="186.65" cy="130.9" r="3.3" fill="url(#hh)" filter="url(#bl)"/><circle cx="186.65" cy="130.9" r="1.68" fill="#2d2d2d"/>
<circle cx="186.65" cy="140.99" r="3.3" fill="url(#hh)" filter="url(#bl)"/><circle cx="186.65" cy="140.99" r="1.68" fill="#2d2d2d"/>
<circle cx="186.65" cy="151.07" r="3.3" fill="url(#hh)" filter="url(#bl)"/><circle cx="186.65" cy="151.07" r="1.68" fill="#2d2d2d"/>
<circle cx="186.65" cy="161.16" r="3.3" fill="url(#hh)" filter="url(#bl)"/><circle cx="186.65" cy="161.16" r="1.68" fill="#2d2d2d"/>
<circle cx="196.73" cy="50.22" r="3.3" fill="url(#hh)" filter="url(#bl)"/><circle cx="196.73" cy="50.22" r="1.68" fill="#2d2d2d"/>
<circle cx="196.73" cy="60.31" r="3.3" fill="url(#hh)" filter="url(#bl)"/><circle cx="196.73" cy="60.31" r="1.68" fill="#2d2d2d"/>
<circle cx="196.73" cy="70.39" r="3.3" fill="url(#hh)" filter="url(#bl)"/><circle cx="196.73" cy="70.39" r="1.68" fill="#2d2d2d"/>
<circle cx="196.73" cy="80.47" r="3.3" fill="url(#hh)" filter="url(#bl)"/><circle cx="196.73" cy="80.47" r="1.68" fill="#2d2d2d"/>
<circle cx="196.73" cy="90.56" r="3.3" fill="url(#hh)" filter="url(#bl)"/><circle cx="196.73" cy="90.56" r="1.68" fill="#2d2d2d"/>
<circle cx="196.73" cy="120.81" r="3.3" fill="url(#hh)" filter="url(#bl)"/><circle cx="196.73" cy="120.81" r="1.68" fill="#2d2d2d"/>
<circle cx="196.73" cy="130.9" r="3.3" fill="url(#hh)" filter="url(#bl)"/><circle cx="196.73" cy="130.9" r="1.68" fill="#2d2d2d"/>
<circle cx="196.73" cy="140.99" r="3.3" fill="url(#hh)" filter="url(#bl)"/><circle cx="196.73" cy="140.99" r="1.68" fill="#2d2d2d"/>
<circle cx="196.73" cy="151.07" r="3.3" fill="url(#hh)" filter="url(#bl)"/><circle cx="196.73" cy="151.07" r="1.68" fill="#2d2d2d"/>
<circle cx="196.73" cy="161.16" r="3.3" fill="url(#hh)" filter="url(#bl)"/><circle cx="196.73" cy="161.16" r="1.68" fill="#2d2d2d"/>
<circle cx="206.81" cy="50.22" r="3.3" fill="url(#hh)" filter="url(#bl)"/><circle cx="206.81" cy="50.22" r="1.68" fill="#2d2d2d"/>
<circle cx="206.81" cy="60.31" r="3.3" fill="url(#hh)" filter="url(#bl)"/><circle cx="206.81" cy="60.31" r="1.68" fill="#2d2d2d"/>
<circle cx="206.81" cy="70.39" r="3.3" fill="url(#hh)" filter="url(#bl)"/><circle cx="206.81" cy="70.39" r="1.68" fill="#2d2d2d"/>
<circle cx="206.81" cy="80.47" r="3.3" fill="url(#hh)" filter="url(#bl)"/><circle cx="206.81" cy="80.47" r="1.68" fill="#2d2d2d"/>
<circle cx="206.81" cy="90.56" r="3.3" fill="url(#hh)" filter="url(#bl)"/><circle cx="206.81" cy="90.56" r="1.68" fill="#2d2d2d"/>
<circle cx="206.81" cy="120.81" r="3.3" fill="url(#hh)" filter="url(#bl)"/><circle cx="206.81" cy="120.81" r="1.68" fill="#2d2d2d"/>
<circle cx="206.81" cy="130.9" r="3.3" fill="url(#hh)" filter="url(#bl)"/><circle cx="206.81" cy="130.9" r="1.68" fill="#2d2d2d"/>
<circle cx="206.81" cy="140.99" r="3.3" fill="url(#hh)" filter="url(#bl)"/><circle cx="206.81" cy="140.99" r="1.68" fill="#2d2d2d"/>
<circle cx="206.81" cy="151.07" r="3.3" fill="url(#hh)" filter="url(#bl)"/><circle cx="206.81" cy="151.07" r="1.68" fill="#2d2d2d"/>
<circle cx="206.81" cy="161.16" r="3.3" fill="url(#hh)" filter="url(#bl)"/><circle cx="206.81" cy="161.16" r="1.68" fill="#2d2d2d"/>
<circle cx="216.9" cy="50.22" r="3.3" fill="url(#hh)" filter="url(#bl)"/><circle cx="216.9" cy="50.22" r="1.68" fill="#2d2d2d"/>
<circle cx="216.9" cy="60.31" r="3.3" fill="url(#hh)" filter="url(#bl)"/><circle cx="216.9" cy="60.31" r="1.68" fill="#2d2d2d"/>
<circle cx="216.9" cy="70.39" r="3.3" fill="url(#hh)" filter="url(#bl)"/><circle cx="216.9" cy="70.39" r="1.68" fill="#2d2d2d"/>
<circle cx="216.9" cy="80.47" r="3.3" fill="url(#hh)" filter="url(#bl)"/><circle cx="216.9" cy="80.47" r="1.68" fill="#2d2d2d"/>
<circle cx="216.9" cy="90.56" r="3.3" fill="url(#hh)" filter="url(#bl)"/><circle cx="216.9" cy="90.56" r="1.68" fill="#2d2d2d"/>
<circle cx="216.9" cy="120.81" r="3.35" fill="url(#gh)"/>
<circle cx="216.9" cy="130.9" r="3.35" fill="url(#gh)"/>
<circle cx="216.9" cy="140.99" r="3.35" fill="url(#gh)"/>
<circle cx="216.9" cy="151.07" r="3.35" fill="url(#gh)"/>
<circle cx="216.9" cy="161.16" r="3.35" fill="url(#gh)"/>
<circle cx="226.99" cy="50.22" r="3.3" fill="url(#hh)" filter="url(#bl)"/><circle cx="226.99" cy="50.22" r="1.68" fill="#2d2d2d"/>
<circle cx="226.99" cy="60.31" r="3.3" fill="url(#hh)" filter="url(#bl)"/><circle cx="226.99" cy="60.31" r="1.68" fill="#2d2d2d"/>
<circle cx="226.99" cy="70.39" r="3.3" fill="url(#hh)" filter="url(#bl)"/><circle cx="226.99" cy="70.39" r="1.68" fill="#2d2d2d"/>
<circle cx="226.99" cy="80.47" r="3.3" fill="url(#hh)" filter="url(#bl)"/><circle cx="226.99" cy="80.47" r="1.68" fill="#2d2d2d"/>
<circle cx="226.99" cy="90.56" r="3.3" fill="url(#hh)" filter="url(#bl)"/><circle cx="226.99" cy="90.56" r="1.68" fill="#2d2d2d"/>
<circle cx="226.99" cy="120.81" r="3.35" fill="url(#gh)"/>
<circle cx="226.99" cy="130.9" r="3.35" fill="url(#gh)"/>
<circle cx="226.99" cy="140.99" r="3.35" fill="url(#gh)"/>
<circle cx="226.99" cy="151.07" r="3.35" fill="url(#gh)"/>
<circle cx="226.99" cy="161.16" r="3.35" fill="url(#gh)"/>
<circle cx="237.07" cy="50.22" r="3.3" fill="url(#hh)" filter="url(#bl)"/><circle cx="237.07" cy="50.22" r="1.68" fill="#2d2d2d"/>
<circle cx="237.07" cy="60.31" r="3.3" fill="url(#hh)" filter="url(#bl)"/><circle cx="237.07" cy="60.31" r="1.68" fill="#2d2d2d"/>
<circle cx="237.07" cy="70.39" r="3.3" fill="url(#hh)" filter="url(#bl)"/><circle cx="237.07" cy="70.39" r="1.68" fill="#2d2d2d"/>
<circle cx="237.07" cy="80.47" r="3.3" fill="url(#hh)" filter="url(#bl)"/><circle cx="237.07" cy="80.47" r="1.68" fill="#2d2d2d"/>
<circle cx="237.07" cy="90.56" r="3.3" fill="url(#hh)" filter="url(#bl)"/><circle cx="237.07" cy="90.56" r="1.68" fill="#2d2d2d"/>
<circle cx="237.07" cy="120.81" r="3.35" fill="url(#gh)"/>
<circle cx="237.07" cy="130.9" r="3.35" fill="url(#gh)"/>
<circle cx="237.07" cy="140.99" r="3.35" fill="url(#gh)"/>
<circle cx="237.07" cy="151.07" r="3.35" fill="url(#gh)"/>
<circle cx="237.07" cy="161.16" r="3.35" fill="url(#gh)"/>
<circle cx="247.16" cy="50.22" r="3.3" fill="url(#hh)" filter="url(#bl)"/><circle cx="247.16" cy="50.22" r="1.68" fill="#2d2d2d"/>
<circle cx="247.16" cy="60.31" r="3.3" fill="url(#hh)" filter="url(#bl)"/><circle cx="247.16" cy="60.31" r="1.68" fill="#2d2d2d"/>
<circle cx="247.16" cy="70.39" r="3.3" fill="url(#hh)" filter="url(#bl)"/><circle cx="247.16" cy="70.39" r="1.68" fill="#2d2d2d"/>
<circle cx="247.16" cy="80.47" r="3.3" fill="url(#hh)" filter="url(#bl)"/><circle cx="247.16" cy="80.47" r="1.68" fill="#2d2d2d"/>
<circle cx="247.16" cy="90.56" r="3.3" fill="url(#hh)" filter="url(#bl)"/><circle cx="247.16" cy="90.56" r="1.68" fill="#2d2d2d"/>
<circle cx="247.16" cy="120.81" r="3.3" fill="url(#hh)" filter="url(#bl)"/><circle cx="247.16" cy="120.81" r="1.68" fill="#2d2d2d"/>
<circle cx="247.16" cy="130.9" r="3.3" fill="url(#hh)" filter="url(#bl)"/><circle cx="247.16" cy="130.9" r="1.68" fill="#2d2d2d"/>
<circle cx="247.16" cy="140.99" r="3.3" fill="url(#hh)" filter="url(#bl)"/><circle cx="247.16" cy="140.99" r="1.68" fill="#2d2d2d"/>
<circle cx="247.16" cy="151.07" r="3.3" fill="url(#hh)" filter="url(#bl)"/><circle cx="247.16" cy="151.07" r="1.68" fill="#2d2d2d"/>
<circle cx="247.16" cy="161.16" r="3.3" fill="url(#hh)" filter="url(#bl)"/><circle cx="247.16" cy="161.16" r="1.68" fill="#2d2d2d"/>
<circle cx="257.24" cy="50.22" r="3.3" fill="url(#hh)" filter="url(#bl)"/><circle cx="257.24" cy="50.22" r="1.68" fill="#2d2d2d"/>
<circle cx="257.24" cy="60.31" r="3.3" fill="url(#hh)" filter="url(#bl)"/><circle cx="257.24" cy="60.31" r="1.68" fill="#2d2d2d"/>
<circle cx="257.24" cy="70.39" r="3.3" fill="url(#hh)" filter="url(#bl)"/><circle cx="257.24" cy="70.39" r="1.68" fill="#2d2d2d"/>
<circle cx="257.24" cy="80.47" r="3.3" fill="url(#hh)" filter="url(#bl)"/><circle cx="257.24" cy="80.47" r="1.68" fill="#2d2d2d"/>
<circle cx="257.24" cy="90.56" r="3.3" fill="url(#hh)" filter="url(#bl)"/><circle cx="257.24" cy="90.56" r="1.68" fill="#2d2d2d"/>
<circle cx="257.24" cy="120.81" r="3.3" fill="url(#hh)" filter="url(#bl)"/><circle cx="257.24" cy="120.81" r="1.68" fill="#2d2d2d"/>
<circle cx="257.24" cy="130.9" r="3.3" fill="url(#hh)" filter="url(#bl)"/><circle cx="257.24" cy="130.9" r="1.68" fill="#2d2d2d"/>
<circle cx="257.24" cy="140.99" r="3.3" fill="url(#hh)" filter="url(#bl)"/><circle cx="257.24" cy="140.99" r="1.68" fill="#2d2d2d"/>
<circle cx="257.24" cy="151.07" r="3.3" fill="url(#hh)" filter="url(#bl)"/><circle cx="257.24" cy="151.07" r="1.68" fill="#2d2d2d"/>
<circle cx="257.24" cy="161.16" r="3.3" fill="url(#hh)" filter="url(#bl)"/><circle cx="257.24" cy="161.16" r="1.68" fill="#2d2d2d"/>
<circle cx="267.33" cy="50.22" r="3.3" fill="url(#hh)" filter="url(#bl)"/><circle cx="267.33" cy="50.22" r="1.68" fill="#2d2d2d"/>
<circle cx="267.33" cy="60.31" r="3.3" fill="url(#hh)" filter="url(#bl)"/><circle cx="267.33" cy="60.31" r="1.68" fill="#2d2d2d"/>
<circle cx="267.33" cy="70.39" r="3.3" fill="url(#hh)" filter="url(#bl)"/><circle cx="267.33" cy="70.39" r="1.68" fill="#2d2d2d"/>
<circle cx="267.33" cy="80.47" r="3.3" fill="url(#hh)" filter="url(#bl)"/><circle cx="267.33" cy="80.47" r="1.68" fill="#2d2d2d"/>
<circle cx="267.33" cy="90.56" r="3.3" fill="url(#hh)" filter="url(#bl)"/><circle cx="267.33" cy="90.56" r="1.68" fill="#2d2d2d"/>
<circle cx="267.33" cy="120.81" r="3.3" fill="url(#hh)" filter="url(#bl)"/><circle cx="267.33" cy="120.81" r="1.68" fill="#2d2d2d"/>
<circle cx="267.33" cy="130.9" r="3.3" fill="url(#hh)" filter="url(#bl)"/><circle cx="267.33" cy="130.9" r="1.68" fill="#2d2d2d"/>
<circle cx="267.33" cy="140.99" r="3.3" fill="url(#hh)" filter="url(#bl)"/><circle cx="267.33" cy="140.99" r="1.68" fill="#2d2d2d"/>
<circle cx="267.33" cy="151.07" r="3.3" fill="url(#hh)" filter="url(#bl)"/><circle cx="267.33" cy="151.07" r="1.68" fill="#2d2d2d"/>
<circle cx="267.33" cy="161.16" r="3.3" fill="url(#hh)" filter="url(#bl)"/><circle cx="267.33" cy="161.16" r="1.68" fill="#2d2d2d"/>
<circle cx="277.41" cy="50.22" r="3.3" fill="url(#hh)" filter="url(#bl)"/><circle cx="277.41" cy="50.22" r="1.68" fill="#2d2d2d"/>
<circle cx="277.41" cy="60.31" r="3.3" fill="url(#hh)" filter="url(#bl)"/><circle cx="277.41" cy="60.31" r="1.68" fill="#2d2d2d"/>
<circle cx="277.41" cy="70.39" r="3.3" fill="url(#hh)" filter="url(#bl)"/><circle cx="277.41" cy="70.39" r="1.68" fill="#2d2d2d"/>
<circle cx="277.41" cy="80.47" r="3.3" fill="url(#hh)" filter="url(#bl)"/><circle cx="277.41" cy="80.47" r="1.68" fill="#2d2d2d"/>
<circle cx="277.41" cy="90.56" r="3.3" fill="url(#hh)" filter="url(#bl)"/><circle cx="277.41" cy="90.56" r="1.68" fill="#2d2d2d"/>
<circle cx="277.41" cy="120.81" r="3.3" fill="url(#hh)" filter="url(#bl)"/><circle cx="277.41" cy="120.81" r="1.68" fill="#2d2d2d"/>
<circle cx="277.41" cy="130.9" r="3.3" fill="url(#hh)" filter="url(#bl)"/><circle cx="277.41" cy="130.9" r="1.68" fill="#2d2d2d"/>
<circle cx="277.41" cy="140.99" r="3.3" fill="url(#hh)" filter="url(#bl)"/><circle cx="277.41" cy="140.99" r="1.68" fill="#2d2d2d"/>
<circle cx="277.41" cy="151.07" r="3.3" fill="url(#hh)" filter="url(#bl)"/><circle cx="277.41" cy="151.07" r="1.68" fill="#2d2d2d"/>
<circle cx="277.41" cy="161.16" r="3.3" fill="url(#hh)" filter="url(#bl)"/><circle cx="277.41" cy="161.16" r="1.68" fill="#2d2d2d"/>
<circle cx="287.5" cy="50.22" r="3.3" fill="url(#hh)" filter="url(#bl)"/><circle cx="287.5" cy="50.22" r="1.68" fill="#2d2d2d"/>
<circle cx="287.5" cy="60.31" r="3.3" fill="url(#hh)" filter="url(#bl)"/><circle cx="287.5" cy="60.31" r="1.68" fill="#2d2d2d"/>
<circle cx="287.5" cy="70.39" r="3.3" fill="url(#hh)" filter="url(#bl)"/><circle cx="287.5" cy="70.39" r="1.68" fill="#2d2d2d"/>
<circle cx="287.5" cy="80.47" r="3.3" fill="url(#hh)" filter="url(#bl)"/><circle cx="287.5" cy="80.47" r="1.68" fill="#2d2d2d"/>
<circle cx="287.5" cy="90.56" r="3.3" fill="url(#hh)" filter="url(#bl)"/><circle cx="287.5" cy="90.56" r="1.68" fill="#2d2d2d"/>
<circle cx="287.5" cy="120.81" r="3.3" fill="url(#hh)" filter="url(#bl)"/><circle cx="287.5" cy="120.81" r="1.68" fill="#2d2d2d"/>
<circle cx="287.5" cy="130.9" r="3.3" fill="url(#hh)" filter="url(#bl)"/><circle cx="287.5" cy="130.9" r="1.68" fill="#2d2d2d"/>
<circle cx="287.5" cy="140.99" r="3.3" fill="url(#hh)" filter="url(#bl)"/><circle cx="287.5" cy="140.99" r="1.68" fill="#2d2d2d"/>
<circle cx="287.5" cy="151.07" r="3.3" fill="url(#hh)" filter="url(#bl)"/><circle cx="287.5" cy="151.07" r="1.68" fill="#2d2d2d"/>
<circle cx="287.5" cy="161.16" r="3.3" fill="url(#hh)" filter="url(#bl)"/><circle cx="287.5" cy="161.16" r="1.68" fill="#2d2d2d"/>
<circle cx="297.58" cy="50.22" r="3.3" fill="url(#hh)" filter="url(#bl)"/><circle cx="297.58" cy="50.22" r="1.68" fill="#2d2d2d"/>
<circle cx="297.58" cy="60.31" r="3.3" fill="url(#hh)" filter="url(#bl)"/><circle cx="297.58" cy="60.31" r="1.68" fill="#2d2d2d"/>
<circle cx="297.58" cy="70.39" r="3.3" fill="url(#hh)" filter="url(#bl)"/><circle cx="297.58" cy="70.39" r="1.68" fill="#2d2d2d"/>
<circle cx="297.58" cy="80.47" r="3.3" fill="url(#hh)" filter="url(#bl)"/><circle cx="297.58" cy="80.47" r="1.68" fill="#2d2d2d"/>
<circle cx="297.58" cy="90.56" r="3.3" fill="url(#hh)" filter="url(#bl)"/><circle cx="297.58" cy="90.56" r="1.68" fill="#2d2d2d"/>
<circle cx="297.58" cy="120.81" r="3.3" fill="url(#hh)" filter="url(#bl)"/><circle cx="297.58" cy="120.81" r="1.68" fill="#2d2d2d"/>
<circle cx="297.58" cy="130.9" r="3.3" fill="url(#hh)" filter="url(#bl)"/><circle cx="297.58" cy="130.9" r="1.68" fill="#2d2d2d"/>
<circle cx="297.58" cy="140.99" r="3.3" fill="url(#hh)" filter="url(#bl)"/><circle cx="297.58" cy="140.99" r="1.68" fill="#2d2d2d"/>
<circle cx="297.58" cy="151.07" r="3.3" fill="url(#hh)" filter="url(#bl)"/><circle cx="297.58" cy="151.07" r="1.68" fill="#2d2d2d"/>
<circle cx="297.58" cy="161.16" r="3.3" fill="url(#hh)" filter="url(#bl)"/><circle cx="297.58" cy="161.16" r="1.68" fill="#2d2d2d"/>
<circle cx="307.67" cy="50.22" r="3.3" fill="url(#hh)" filter="url(#bl)"/><circle cx="307.67" cy="50.22" r="1.68" fill="#2d2d2d"/>
<circle cx="307.67" cy="60.31" r="3.3" fill="url(#hh)" filter="url(#bl)"/><circle cx="307.67" cy="60.31" r="1.68" fill="#2d2d2d"/>
<circle cx="307.67" cy="70.39" r="3.3" fill="url(#hh)" filter="url(#bl)"/><circle cx="307.67" cy="70.39" r="1.68" fill="#2d2d2d"/>
<circle cx="307.67" cy="80.47" r="3.3" fill="url(#hh)" filter="url(#bl)"/><circle cx="307.67" cy="80.47" r="1.68" fill="#2d2d2d"/>
<circle cx="307.67" cy="90.56" r="3.3" fill="url(#hh)" filter="url(#bl)"/><circle cx="307.67" cy="90.56" r="1.68" fill="#2d2d2d"/>
<circle cx="307.67" cy="120.81" r="3.3" fill="url(#hh)" filter="url(#bl)"/><circle cx="307.67" cy="120.81" r="1.68" fill="#2d2d2d"/>
<circle cx="307.67" cy="130.9" r="3.3" fill="url(#hh)" filter="url(#bl)"/><circle cx="307.67" cy="130.9" r="1.68" fill="#2d2d2d"/>
<circle cx="307.67" cy="140.99" r="3.3" fill="url(#hh)" filter="url(#bl)"/><circle cx="307.67" cy="140.99" r="1.68" fill="#2d2d2d"/>
<circle cx="307.67" cy="151.07" r="3.3" fill="url(#hh)" filter="url(#bl)"/><circle cx="307.67" cy="151.07" r="1.68" fill="#2d2d2d"/>
<circle cx="307.67" cy="161.16" r="3.3" fill="url(#hh)" filter="url(#bl)"/><circle cx="307.67" cy="161.16" r="1.68" fill="#2d2d2d"/>
<circle cx="317.75" cy="50.22" r="3.3" fill="url(#hh)" filter="url(#bl)"/><circle cx="317.75" cy="50.22" r="1.68" fill="#2d2d2d"/>
<circle cx="317.75" cy="60.31" r="3.3" fill="url(#hh)" filter="url(#bl)"/><circle cx="317.75" cy="60.31" r="1.68" fill="#2d2d2d"/>
<circle cx="317.75" cy="70.39" r="3.3" fill="url(#hh)" filter="url(#bl)"/><circle cx="317.75" cy="70.39" r="1.68" fill="#2d2d2d"/>
<circle cx="317.75" cy="80.47" r="3.3" fill="url(#hh)" filter="url(#bl)"/><circle cx="317.75" cy="80.47" r="1.68" fill="#2d2d2d"/>
<circle cx="317.75" cy="90.56" r="3.3" fill="url(#hh)" filter="url(#bl)"/><circle cx="317.75" cy="90.56" r="1.68" fill="#2d2d2d"/>
<circle cx="317.75" cy="120.81" r="3.3" fill="url(#hh)" filter="url(#bl)"/><circle cx="317.75" cy="120.81" r="1.68" fill="#2d2d2d"/>
<circle cx="317.75" cy="130.9" r="3.3" fill="url(#hh)" filter="url(#bl)"/><circle cx="317.75" cy="130.9" r="1.68" fill="#2d2d2d"/>
<circle cx="317.75" cy="140.99" r="3.3" fill="url(#hh)" filter="url(#bl)"/><circle cx="317.75" cy="140.99" r="1.68" fill="#2d2d2d"/>
<circle cx="317.75" cy="151.07" r="3.3" fill="url(#hh)" filter="url(#bl)"/><circle cx="317.75" cy="151.07" r="1.68" fill="#2d2d2d"/>
<circle cx="317.75" cy="161.16" r="3.3" fill="url(#hh)" filter="url(#bl)"/><circle cx="317.75" cy="161.16" r="1.68" fill="#2d2d2d"/>
<circle cx="327.84" cy="50.22" r="3.3" fill="url(#hh)" filter="url(#bl)"/><circle cx="327.84" cy="50.22" r="1.68" fill="#2d2d2d"/>
<circle cx="327.84" cy="60.31" r="3.3" fill="url(#hh)" filter="url(#bl)"/><circle cx="327.84" cy="60.31" r="1.68" fill="#2d2d2d"/>
<circle cx="327.84" cy="70.39" r="3.3" fill="url(#hh)" filter="url(#bl)"/><circle cx="327.84" cy="70.39" r="1.68" fill="#2d2d2d"/>
<circle cx="327.84" cy="80.47" r="3.3" fill="url(#hh)" filter="url(#bl)"/><circle cx="327.84" cy="80.47" r="1.68" fill="#2d2d2d"/>
<circle cx="327.84" cy="90.56" r="3.3" fill="url(#hh)" filter="url(#bl)"/><circle cx="327.84" cy="90.56" r="1.68" fill="#2d2d2d"/>
<circle cx="327.84" cy="120.81" r="3.3" fill="url(#hh)" filter="url(#bl)"/><circle cx="327.84" cy="120.81" r="1.68" fill="#2d2d2d"/>
<circle cx="327.84" cy="130.9" r="3.3" fill="url(#hh)" filter="url(#bl)"/><circle cx="327.84" cy="130.9" r="1.68" fill="#2d2d2d"/>
<circle cx="327.84" cy="140.99" r="3.3" fill="url(#hh)" filter="url(#bl)"/><circle cx="327.84" cy="140.99" r="1.68" fill="#2d2d2d"/>
<circle cx="327.84" cy="151.07" r="3.3" fill="url(#hh)" filter="url(#bl)"/><circle cx="327.84" cy="151.07" r="1.68" fill="#2d2d2d"/>
<circle cx="327.84" cy="161.16" r="3.3" fill="url(#hh)" filter="url(#bl)"/><circle cx="327.84" cy="161.16" r="1.68" fill="#2d2d2d"/>
<circle cx="337.92" cy="50.22" r="3.3" fill="url(#hh)" filter="url(#bl)"/><circle cx="337.92" cy="50.22" r="1.68" fill="#2d2d2d"/>
<circle cx="337.92" cy="60.31" r="3.3" fill="url(#hh)" filter="url(#bl)"/><circle cx="337.92" cy="60.31" r="1.68" fill="#2d2d2d"/>
<circle cx="337.92" cy="70.39" r="3.3" fill="url(#hh)" filter="url(#bl)"/><circle cx="337.92" cy="70.39" r="1.68" fill="#2d2d2d"/>
<circle cx="337.92" cy="80.47" r="3.3" fill="url(#hh)" filter="url(#bl)"/><circle cx="337.92" cy="80.47" r="1.68" fill="#2d2d2d"/>
<circle cx="337.92" cy="90.56" r="3.3" fill="url(#hh)" filter="url(#bl)"/><circle cx="337.92" cy="90.56" r="1.68" fill="#2d2d2d"/>
<circle cx="337.92" cy="120.81" r="3.3" fill="url(#hh)" filter="url(#bl)"/><circle cx="337.92" cy="120.81" r="1.68" fill="#2d2d2d"/>
<circle cx="337.92" cy="130.9" r="3.3" fill="url(#hh)" filter="url(#bl)"/><circle cx="337.92" cy="130.9" r="1.68" fill="#2d2d2d"/>
<circle cx="337.92" cy="140.99" r="3.3" fill="url(#hh)" filter="url(#bl)"/><circle cx="337.92" cy="140.99" r="1.68" fill="#2d2d2d"/>
<circle cx="337.92" cy="151.07" r="3.3" fill="url(#hh)" filter="url(#bl)"/><circle cx="337.92" cy="151.07" r="1.68" fill="#2d2d2d"/>
<circle cx="337.92" cy="161.16" r="3.3" fill="url(#hh)" filter="url(#bl)"/><circle cx="337.92" cy="161.16" r="1.68" fill="#2d2d2d"/>
<circle cx="348" cy="50.22" r="3.3" fill="url(#hh)" filter="url(#bl)"/><circle cx="348" cy="50.22" r="1.68" fill="#2d2d2d"/>
<circle cx="348" cy="60.31" r="3.3" fill="url(#hh)" filter="url(#bl)"/><circle cx="348" cy="60.31" r="1.68" fill="#2d2d2d"/>
<circle cx="348" cy="70.39" r="3.3" fill="url(#hh)" filter="url(#bl)"/><circle cx="348" cy="70.39" r="1.68" fill="#2d2d2d"/>
<circle cx="348" cy="80.47" r="3.3" fill="url(#hh)" filter="url(#bl)"/><circle cx="348" cy="80.47" r="1.68" fill="#2d2d2d"/>
<circle cx="348" cy="90.56" r="3.3" fill="url(#hh)" filter="url(#bl)"/><circle cx="348" cy="90.56" r="1.68" fill="#2d2d2d"/>
<circle cx="348" cy="120.81" r="3.3" fill="url(#hh)" filter="url(#bl)"/><circle cx="348" cy="120.81" r="1.68" fill="#2d2d2d"/>
<circle cx="348" cy="130.9" r="3.3" fill="url(#hh)" filter="url(#bl)"/><circle cx="348" cy="130.9" r="1.68" fill="#2d2d2d"/>
<circle cx="348" cy="140.99" r="3.3" fill="url(#hh)" filter="url(#bl)"/><circle cx="348" cy="140.99" r="1.68" fill="#2d2d2d"/>
<circle cx="348" cy="151.07" r="3.3" fill="url(#hh)" filter="url(#bl)"/><circle cx="348" cy="151.07" r="1.68" fill="#2d2d2d"/>
<circle cx="348" cy="161.16" r="3.3" fill="url(#hh)" filter="url(#bl)"/><circle cx="348" cy="161.16" r="1.68" fill="#2d2d2d"/>
<circle cx="358.09" cy="50.22" r="3.3" fill="url(#hh)" filter="url(#bl)"/><circle cx="358.09" cy="50.22" r="1.68" fill="#2d2d2d"/>
<circle cx="358.09" cy="60.31" r="3.3" fill="url(#hh)" filter="url(#bl)"/><circle cx="358.09" cy="60.31" r="1.68" fill="#2d2d2d"/>
<circle cx="358.09" cy="70.39" r="3.3" fill="url(#hh)" filter="url(#bl)"/><circle cx="358.09" cy="70.39" r="1.68" fill="#2d2d2d"/>
<circle cx="358.09" cy="80.47" r="3.3" fill="url(#hh)" filter="url(#bl)"/><circle cx="358.09" cy="80.47" r="1.68" fill="#2d2d2d"/>
<circle cx="358.09" cy="90.56" r="3.3" fill="url(#hh)" filter="url(#bl)"/><circle cx="358.09" cy="90.56" r="1.68" fill="#2d2d2d"/>
<circle cx="358.09" cy="120.81" r="3.3" fill="url(#hh)" filter="url(#bl)"/><circle cx="358.09" cy="120.81" r="1.68" fill="#2d2d2d"/>
<circle cx="358.09" cy="130.9" r="3.3" fill="url(#hh)" filter="url(#bl)"/><circle cx="358.09" cy="130.9" r="1.68" fill="#2d2d2d"/>
<circle cx="358.09" cy="140.99" r="3.3" fill="url(#hh)" filter="url(#bl)"/><circle cx="358.09" cy="140.99" r="1.68" fill="#2d2d2d"/>
<circle cx="358.09" cy="151.07" r="3.3" fill="url(#hh)" filter="url(#bl)"/><circle cx="358.09" cy="151.07" r="1.68" fill="#2d2d2d"/>
<circle cx="358.09" cy="161.16" r="3.3" fill="url(#hh)" filter="url(#bl)"/><circle cx="358.09" cy="161.16" r="1.68" fill="#2d2d2d"/>
<circle cx="368.18" cy="50.22" r="3.3" fill="url(#hh)" filter="url(#bl)"/><circle cx="368.18" cy="50.22" r="1.68" fill="#2d2d2d"/>
<circle cx="368.18" cy="60.31" r="3.3" fill="url(#hh)" filter="url(#bl)"/><circle cx="368.18" cy="60.31" r="1.68" fill="#2d2d2d"/>
<circle cx="368.18" cy="70.39" r="3.3" fill="url(#hh)" filter="url(#bl)"/><circle cx="368.18" cy="70.39" r="1.68" fill="#2d2d2d"/>
<circle cx="368.18" cy="80.47" r="3.3" fill="url(#hh)" filter="url(#bl)"/><circle cx="368.18" cy="80.47" r="1.68" fill="#2d2d2d"/>
<circle cx="368.18" cy="90.56" r="3.3" fill="url(#hh)" filter="url(#bl)"/><circle cx="368.18" cy="90.56" r="1.68" fill="#2d2d2d"/>
<circle cx="368.18" cy="120.81" r="3.3" fill="url(#hh)" filter="url(#bl)"/><circle cx="368.18" cy="120.81" r="1.68" fill="#2d2d2d"/>
<circle cx="368.18" cy="130.9" r="3.3" fill="url(#hh)" filter="url(#bl)"/><circle cx="368.18" cy="130.9" r="1.68" fill="#2d2d2d"/>
<circle cx="368.18" cy="140.99" r="3.3" fill="url(#hh)" filter="url(#bl)"/><circle cx="368.18" cy="140.99" r="1.68" fill="#2d2d2d"/>
<circle cx="368.18" cy="151.07" r="3.3" fill="url(#hh)" filter="url(#bl)"/><circle cx="368.18" cy="151.07" r="1.68" fill="#2d2d2d"/>
<circle cx="368.18" cy="161.16" r="3.3" fill="url(#hh)" filter="url(#bl)"/><circle cx="368.18" cy="161.16" r="1.68" fill="#2d2d2d"/>
<circle cx="378.26" cy="50.22" r="3.3" fill="url(#hh)" filter="url(#bl)"/><circle cx="378.26" cy="50.22" r="1.68" fill="#2d2d2d"/>
<circle cx="378.26" cy="60.31" r="3.3" fill="url(#hh)" filter="url(#bl)"/><circle cx="378.26" cy="60.31" r="1.68" fill="#2d2d2d"/>
<circle cx="378.26" cy="70.39" r="3.3" fill="url(#hh)" filter="url(#bl)"/><circle cx="378.26" cy="70.39" r="1.68" fill="#2d2d2d"/>
<circle cx="378.26" cy="80.47" r="3.3" fill="url(#hh)" filter="url(#bl)"/><circle cx="378.26" cy="80.47" r="1.68" fill="#2d2d2d"/>
<circle cx="378.26" cy="90.56" r="3.3" fill="url(#hh)" filter="url(#bl)"/><circle cx="378.26" cy="90.56" r="1.68" fill="#2d2d2d"/>
<circle cx="378.26" cy="120.81" r="3.3" fill="url(#hh)" filter="url(#bl)"/><circle cx="378.26" cy="120.81" r="1.68" fill="#2d2d2d"/>
<circle cx="378.26" cy="130.9" r="3.3" fill="url(#hh)" filter="url(#bl)"/><circle cx="378.26" cy="130.9" r="1.68" fill="#2d2d2d"/>
<circle cx="378.26" cy="140.99" r="3.3" fill="url(#hh)" filter="url(#bl)"/><circle cx="378.26" cy="140.99" r="1.68" fill="#2d2d2d"/>
<circle cx="378.26" cy="151.07" r="3.3" fill="url(#hh)" filter="url(#bl)"/><circle cx="378.26" cy="151.07" r="1.68" fill="#2d2d2d"/>
<circle cx="378.26" cy="161.16" r="3.3" fill="url(#hh)" filter="url(#bl)"/><circle cx="378.26" cy="161.16" r="1.68" fill="#2d2d2d"/>
<circle cx="388.35" cy="50.22" r="3.3" fill="url(#hh)" filter="url(#bl)"/><circle cx="388.35" cy="50.22" r="1.68" fill="#2d2d2d"/>
<circle cx="388.35" cy="60.31" r="3.3" fill="url(#hh)" filter="url(#bl)"/><circle cx="388.35" cy="60.31" r="1.68" fill="#2d2d2d"/>
<circle cx="388.35" cy="70.39" r="3.3" fill="url(#hh)" filter="url(#bl)"/><circle cx="388.35" cy="70.39" r="1.68" fill="#2d2d2d"/>
<circle cx="388.35" cy="80.47" r="3.3" fill="url(#hh)" filter="url(#bl)"/><circle cx="388.35" cy="80.47" r="1.68" fill="#2d2d2d"/>
<circle cx="388.35" cy="90.56" r="3.3" fill="url(#hh)" filter="url(#bl)"/><circle cx="388.35" cy="90.56" r="1.68" fill="#2d2d2d"/>
<circle cx="388.35" cy="120.81" r="3.3" fill="url(#hh)" filter="url(#bl)"/><circle cx="388.35" cy="120.81" r="1.68" fill="#2d2d2d"/>
<circle cx="388.35" cy="130.9" r="3.3" fill="url(#hh)" filter="url(#bl)"/><circle cx="388.35" cy="130.9" r="1.68" fill="#2d2d2d"/>
<circle cx="388.35" cy="140.99" r="3.3" fill="url(#hh)" filter="url(#bl)"/><circle cx="388.35" cy="140.99" r="1.68" fill="#2d2d2d"/>
<circle cx="388.35" cy="151.07" r="3.3" fill="url(#hh)" filter="url(#bl)"/><circle cx="388.35" cy="151.07" r="1.68" fill="#2d2d2d"/>
<circle cx="388.35" cy="161.16" r="3.3" fill="url(#hh)" filter="url(#bl)"/><circle cx="388.35" cy="161.16" r="1.68" fill="#2d2d2d"/>
<circle cx="398.43" cy="50.22" r="3.3" fill="url(#hh)" filter="url(#bl)"/><circle cx="398.43" cy="50.22" r="1.68" fill="#2d2d2d"/>
<circle cx="398.43" cy="60.31" r="3.3" fill="url(#hh)" filter="url(#bl)"/><circle cx="398.43" cy="60.31" r="1.68" fill="#2d2d2d"/>
<circle cx="398.43" cy="70.39" r="3.3" fill="url(#hh)" filter="url(#bl)"/><circle cx="398.43" cy="70.39" r="1.68" fill="#2d2d2d"/>
<circle cx="398.43" cy="80.47" r="3.3" fill="url(#hh)" filter="url(#bl)"/><circle cx="398.43" cy="80.47" r="1.68" fill="#2d2d2d"/>
<circle cx="398.43" cy="90.56" r="3.3" fill="url(#hh)" filter="url(#bl)"/><circle cx="398.43" cy="90.56" r="1.68" fill="#2d2d2d"/>
<circle cx="398.43" cy="120.81" r="3.3" fill="url(#hh)" filter="url(#bl)"/><circle cx="398.43" cy="120.81" r="1.68" fill="#2d2d2d"/>
<circle cx="398.43" cy="130.9" r="3.3" fill="url(#hh)" filter="url(#bl)"/><circle cx="398.43" cy="130.9" r="1.68" fill="#2d2d2d"/>
<circle cx="398.43" cy="140.99" r="3.3" fill="url(#hh)" filter="url(#bl)"/><circle cx="398.43" cy="140.99" r="1.68" fill="#2d2d2d"/>
<circle cx="398.43" cy="151.07" r="3.3" fill="url(#hh)" filter="url(#bl)"/><circle cx="398.43" cy="151.07" r="1.68" fill="#2d2d2d"/>
<circle cx="398.43" cy="161.16" r="3.3" fill="url(#hh)" filter="url(#bl)"/><circle cx="398.43" cy="161.16" r="1.68" fill="#2d2d2d"/>
<circle cx="408.52" cy="50.22" r="3.3" fill="url(#hh)" filter="url(#bl)"/><circle cx="408.52" cy="50.22" r="1.68" fill="#2d2d2d"/>
<circle cx="408.52" cy="60.31" r="3.3" fill="url(#hh)" filter="url(#bl)"/><circle cx="408.52" cy="60.31" r="1.68" fill="#2d2d2d"/>
<circle cx="408.52" cy="70.39" r="3.3" fill="url(#hh)" filter="url(#bl)"/><circle cx="408.52" cy="70.39" r="1.68" fill="#2d2d2d"/>
<circle cx="408.52" cy="80.47" r="3.3" fill="url(#hh)" filter="url(#bl)"/><circle cx="408.52" cy="80.47" r="1.68" fill="#2d2d2d"/>
<circle cx="408.52" cy="90.56" r="3.3" fill="url(#hh)" filter="url(#bl)"/><circle cx="408.52" cy="90.56" r="1.68" fill="#2d2d2d"/>
<circle cx="408.52" cy="120.81" r="3.3" fill="url(#hh)" filter="url(#bl)"/><circle cx="408.52" cy="120.81" r="1.68" fill="#2d2d2d"/>
<circle cx="408.52" cy="130.9" r="3.3" fill="url(#hh)" filter="url(#bl)"/><circle cx="408.52" cy="130.9" r="1.68" fill="#2d2d2d"/>
<circle cx="408.52" cy="140.99" r="3.3" fill="url(#hh)" filter="url(#bl)"/><circle cx="408.52" cy="140.99" r="1.68" fill="#2d2d2d"/>
<circle cx="408.52" cy="151.07" r="3.3" fill="url(#hh)" filter="url(#bl)"/><circle cx="408.52" cy="151.07" r="1.68" fill="#2d2d2d"/>
<circle cx="408.52" cy="161.16" r="3.3" fill="url(#hh)" filter="url(#bl)"/><circle cx="408.52" cy="161.16" r="1.68" fill="#2d2d2d"/>
<circle cx="418.6" cy="50.22" r="3.3" fill="url(#hh)" filter="url(#bl)"/><circle cx="418.6" cy="50.22" r="1.68" fill="#2d2d2d"/>
<circle cx="418.6" cy="60.31" r="3.3" fill="url(#hh)" filter="url(#bl)"/><circle cx="418.6" cy="60.31" r="1.68" fill="#2d2d2d"/>
<circle cx="418.6" cy="70.39" r="3.3" fill="url(#hh)" filter="url(#bl)"/><circle cx="418.6" cy="70.39" r="1.68" fill="#2d2d2d"/>
<circle cx="418.6" cy="80.47" r="3.3" fill="url(#hh)" filter="url(#bl)"/><circle cx="418.6" cy="80.47" r="1.68" fill="#2d2d2d"/>
<circle cx="418.6" cy="90.56" r="3.3" fill="url(#hh)" filter="url(#bl)"/><circle cx="418.6" cy="90.56" r="1.68" fill="#2d2d2d"/>
<circle cx="418.6" cy="120.81" r="3.3" fill="url(#hh)" filter="url(#bl)"/><circle cx="418.6" cy="120.81" r="1.68" fill="#2d2d2d"/>
<circle cx="418.6" cy="130.9" r="3.3" fill="url(#hh)" filter="url(#bl)"/><circle cx="418.6" cy="130.9" r="1.68" fill="#2d2d2d"/>
<circle cx="418.6" cy="140.99" r="3.3" fill="url(#hh)" filter="url(#bl)"/><circle cx="418.6" cy="140.99" r="1.68" fill="#2d2d2d"/>
<circle cx="418.6" cy="151.07" r="3.3" fill="url(#hh)" filter="url(#bl)"/><circle cx="418.6" cy="151.07" r="1.68" fill="#2d2d2d"/>
<circle cx="418.6" cy="161.16" r="3.3" fill="url(#hh)" filter="url(#bl)"/><circle cx="418.6" cy="161.16" r="1.68" fill="#2d2d2d"/>
<circle cx="428.69" cy="50.22" r="3.3" fill="url(#hh)" filter="url(#bl)"/><circle cx="428.69" cy="50.22" r="1.68" fill="#2d2d2d"/>
<circle cx="428.69" cy="60.31" r="3.3" fill="url(#hh)" filter="url(#bl)"/><circle cx="428.69" cy="60.31" r="1.68" fill="#2d2d2d"/>
<circle cx="428.69" cy="70.39" r="3.3" fill="url(#hh)" filter="url(#bl)"/><circle cx="428.69" cy="70.39" r="1.68" fill="#2d2d2d"/>
<circle cx="428.69" cy="80.47" r="3.3" fill="url(#hh)" filter="url(#bl)"/><circle cx="428.69" cy="80.47" r="1.68" fill="#2d2d2d"/>
<circle cx="428.69" cy="90.56" r="3.3" fill="url(#hh)" filter="url(#bl)"/><circle cx="428.69" cy="90.56" r="1.68" fill="#2d2d2d"/>
<circle cx="428.69" cy="120.81" r="3.3" fill="url(#hh)" filter="url(#bl)"/><circle cx="428.69" cy="120.81" r="1.68" fill="#2d2d2d"/>
<circle cx="428.69" cy="130.9" r="3.3" fill="url(#hh)" filter="url(#bl)"/><circle cx="428.69" cy="130.9" r="1.68" fill="#2d2d2d"/>
<circle cx="428.69" cy="140.99" r="3.3" fill="url(#hh)" filter="url(#bl)"/><circle cx="428.69" cy="140.99" r="1.68" fill="#2d2d2d"/>
<circle cx="428.69" cy="151.07" r="3.3" fill="url(#hh)" filter="url(#bl)"/><circle cx="428.69" cy="151.07" r="1.68" fill="#2d2d2d"/>
<circle cx="428.69" cy="161.16" r="3.3" fill="url(#hh)" filter="url(#bl)"/><circle cx="428.69" cy="161.16" r="1.68" fill="#2d2d2d"/>
<circle cx="438.77" cy="50.22" r="3.3" fill="url(#hh)" filter="url(#bl)"/><circle cx="438.77" cy="50.22" r="1.68" fill="#2d2d2d"/>
<circle cx="438.77" cy="60.31" r="3.3" fill="url(#hh)" filter="url(#bl)"/><circle cx="438.77" cy="60.31" r="1.68" fill="#2d2d2d"/>
<circle cx="438.77" cy="70.39" r="3.3" fill="url(#hh)" filter="url(#bl)"/><circle cx="438.77" cy="70.39" r="1.68" fill="#2d2d2d"/>
<circle cx="438.77" cy="80.47" r="3.3" fill="url(#hh)" filter="url(#bl)"/><circle cx="438.77" cy="80.47" r="1.68" fill="#2d2d2d"/>
<circle cx="438.77" cy="90.56" r="3.3" fill="url(#hh)" filter="url(#bl)"/><circle cx="438.77" cy="90.56" r="1.68" fill="#2d2d2d"/>
<circle cx="438.77" cy="120.81" r="3.3" fill="url(#hh)" filter="url(#bl)"/><circle cx="438.77" cy="120.81" r="1.68" fill="#2d2d2d"/>
<circle cx="438.77" cy="130.9" r="3.3" fill="url(#hh)" filter="url(#bl)"/><circle cx="438.77" cy="130.9" r="1.68" fill="#2d2d2d"/>
<circle cx="438.77" cy="140.99" r="3.3" fill="url(#hh)" filter="url(#bl)"/><circle cx="438.77" cy="140.99" r="1.68" fill="#2d2d2d"/>
<circle cx="438.77" cy="151.07" r="3.3" fill="url(#hh)" filter="url(#bl)"/><circle cx="438.77" cy="151.07" r="1.68" fill="#2d2d2d"/>
<circle cx="438.77" cy="161.16" r="3.3" fill="url(#hh)" filter="url(#bl)"/><circle cx="438.77" cy="161.16" r="1.68" fill="#2d2d2d"/>
<circle cx="448.86" cy="50.22" r="3.3" fill="url(#hh)" filter="url(#bl)"/><circle cx="448.86" cy="50.22" r="1.68" fill="#2d2d2d"/>
<circle cx="448.86" cy="60.31" r="3.3" fill="url(#hh)" filter="url(#bl)"/><circle cx="448.86" cy="60.31" r="1.68" fill="#2d2d2d"/>
<circle cx="448.86" cy="70.39" r="3.3" fill="url(#hh)" filter="url(#bl)"/><circle cx="448.86" cy="70.39" r="1.68" fill="#2d2d2d"/>
<circle cx="448.86" cy="80.47" r="3.3" fill="url(#hh)" filter="url(#bl)"/><circle cx="448.86" cy="80.47" r="1.68" fill="#2d2d2d"/>
<circle cx="448.86" cy="90.56" r="3.3" fill="url(#hh)" filter="url(#bl)"/><circle cx="448.86" cy="90.56" r="1.68" fill="#2d2d2d"/>
<circle cx="448.86" cy="120.81" r="3.3" fill="url(#hh)" filter="url(#bl)"/><circle cx="448.86" cy="120.81" r="1.68" fill="#2d2d2d"/>
<circle cx="448.86" cy="130.9" r="3.3" fill="url(#hh)" filter="url(#bl)"/><circle cx="448.86" cy="130.9" r="1.68" fill="#2d2d2d"/>
<circle cx="448.86" cy="140.99" r="3.3" fill="url(#hh)" filter="url(#bl)"/><circle cx="448.86" cy="140.99" r="1.68" fill="#2d2d2d"/>
<circle cx="448.86" cy="151.07" r="3.3" fill="url(#hh)" filter="url(#bl)"/><circle cx="448.86" cy="151.07" r="1.68" fill="#2d2d2d"/>
<circle cx="448.86" cy="161.16" r="3.3" fill="url(#hh)" filter="url(#bl)"/><circle cx="448.86" cy="161.16" r="1.68" fill="#2d2d2d"/>
<circle cx="458.94" cy="50.22" r="3.3" fill="url(#hh)" filter="url(#bl)"/><circle cx="458.94" cy="50.22" r="1.68" fill="#2d2d2d"/>
<circle cx="458.94" cy="60.31" r="3.3" fill="url(#hh)" filter="url(#bl)"/><circle cx="458.94" cy="60.31" r="1.68" fill="#2d2d2d"/>
<circle cx="458.94" cy="70.39" r="3.3" fill="url(#hh)" filter="url(#bl)"/><circle cx="458.94" cy="70.39" r="1.68" fill="#2d2d2d"/>
<circle cx="458.94" cy="80.47" r="3.3" fill="url(#hh)" filter="url(#bl)"/><circle cx="458.94" cy="80.47" r="1.68" fill="#2d2d2d"/>
<circle cx="458.94" cy="90.56" r="3.3" fill="url(#hh)" filter="url(#bl)"/><circle cx="458.94" cy="90.56" r="1.68" fill="#2d2d2d"/>
<circle cx="458.94" cy="120.81" r="3.3" fill="url(#hh)" filter="url(#bl)"/><circle cx="458.94" cy="120.81" r="1.68" fill="#2d2d2d"/>
<circle cx="458.94" cy="130.9" r="3.3" fill="url(#hh)" filter="url(#bl)"/><circle cx="458.94" cy="130.9" r="1.68" fill="#2d2d2d"/>
<circle cx="458.94" cy="140.99" r="3.3" fill="url(#hh)" filter="url(#bl)"/><circle cx="458.94" cy="140.99" r="1.68" fill="#2d2d2d"/>
<circle cx="458.94" cy="151.07" r="3.3" fill="url(#hh)" filter="url(#bl)"/><circle cx="458.94" cy="151.07" r="1.68" fill="#2d2d2d"/>
<circle cx="458.94" cy="161.16" r="3.3" fill="url(#hh)" filter="url(#bl)"/><circle cx="458.94" cy="161.16" r="1.68" fill="#2d2d2d"/>
<circle cx="469.03" cy="50.22" r="3.3" fill="url(#hh)" filter="url(#bl)"/><circle cx="469.03" cy="50.22" r="1.68" fill="#2d2d2d"/>
<circle cx="469.03" cy="60.31" r="3.3" fill="url(#hh)" filter="url(#bl)"/><circle cx="469.03" cy="60.31" r="1.68" fill="#2d2d2d"/>
<circle cx="469.03" cy="70.39" r="3.3" fill="url(#hh)" filter="url(#bl)"/><circle cx="469.03" cy="70.39" r="1.68" fill="#2d2d2d"/>
<circle cx="469.03" cy="80.47" r="3.3" fill="url(#hh)" filter="url(#bl)"/><circle cx="469.03" cy="80.47" r="1.68" fill="#2d2d2d"/>
<circle cx="469.03" cy="90.56" r="3.3" fill="url(#hh)" filter="url(#bl)"/><circle cx="469.03" cy="90.56" r="1.68" fill="#2d2d2d"/>
<circle cx="469.03" cy="120.81" r="3.3" fill="url(#hh)" filter="url(#bl)"/><circle cx="469.03" cy="120.81" r="1.68" fill="#2d2d2d"/>
<circle cx="469.03" cy="130.9" r="3.3" fill="url(#hh)" filter="url(#bl)"/><circle cx="469.03" cy="130.9" r="1.68" fill="#2d2d2d"/>
<circle cx="469.03" cy="140.99" r="3.3" fill="url(#hh)" filter="url(#bl)"/><circle cx="469.03" cy="140.99" r="1.68" fill="#2d2d2d"/>
<circle cx="469.03" cy="151.07" r="3.3" fill="url(#hh)" filter="url(#bl)"/><circle cx="469.03" cy="151.07" r="1.68" fill="#2d2d2d"/>
<circle cx="469.03" cy="161.16" r="3.3" fill="url(#hh)" filter="url(#bl)"/><circle cx="469.03" cy="161.16" r="1.68" fill="#2d2d2d"/>
<circle cx="479.11" cy="50.22" r="3.3" fill="url(#hh)" filter="url(#bl)"/><circle cx="479.11" cy="50.22" r="1.68" fill="#2d2d2d"/>
<circle cx="479.11" cy="60.31" r="3.3" fill="url(#hh)" filter="url(#bl)"/><circle cx="479.11" cy="60.31" r="1.68" fill="#2d2d2d"/>
<circle cx="479.11" cy="70.39" r="3.3" fill="url(#hh)" filter="url(#bl)"/><circle cx="479.11" cy="70.39" r="1.68" fill="#2d2d2d"/>
<circle cx="479.11" cy="80.47" r="3.3" fill="url(#hh)" filter="url(#bl)"/><circle cx="479.11" cy="80.47" r="1.68" fill="#2d2d2d"/>
<circle cx="479.11" cy="90.56" r="3.3" fill="url(#hh)" filter="url(#bl)"/><circle cx="479.11" cy="90.56" r="1.68" fill="#2d2d2d"/>
<circle cx="479.11" cy="120.81" r="3.3" fill="url(#hh)" filter="url(#bl)"/><circle cx="479.11" cy="120.81" r="1.68" fill="#2d2d2d"/>
<circle cx="479.11" cy="130.9" r="3.3" fill="url(#hh)" filter="url(#bl)"/><circle cx="479.11" cy="130.9" r="1.68" fill="#2d2d2d"/>
<circle cx="479.11" cy="140.99" r="3.3" fill="url(#hh)" filter="url(#bl)"/><circle cx="479.11" cy="140.99" r="1.68" fill="#2d2d2d"/>
<circle cx="479.11" cy="151.07" r="3.3" fill="url(#hh)" filter="url(#bl)"/><circle cx="479.11" cy="151.07" r="1.68" fill="#2d2d2d"/>
<circle cx="479.11" cy="161.16" r="3.3" fill="url(#hh)" filter="url(#bl)"/><circle cx="479.11" cy="161.16" r="1.68" fill="#2d2d2d"/>
<circle cx="489.2" cy="50.22" r="3.3" fill="url(#hh)" filter="url(#bl)"/><circle cx="489.2" cy="50.22" r="1.68" fill="#2d2d2d"/>
<circle cx="489.2" cy="60.31" r="3.3" fill="url(#hh)" filter="url(#bl)"/><circle cx="489.2" cy="60.31" r="1.68" fill="#2d2d2d"/>
<circle cx="489.2" cy="70.39" r="3.3" fill="url(#hh)" filter="url(#bl)"/><circle cx="489.2" cy="70.39" r="1.68" fill="#2d2d2d"/>
<circle cx="489.2" cy="80.47" r="3.3" fill="url(#hh)" filter="url(#bl)"/><circle cx="489.2" cy="80.47" r="1.68" fill="#2d2d2d"/>
<circle cx="489.2" cy="90.56" r="3.3" fill="url(#hh)" filter="url(#bl)"/><circle cx="489.2" cy="90.56" r="1.68" fill="#2d2d2d"/>
<circle cx="489.2" cy="120.81" r="3.3" fill="url(#hh)" filter="url(#bl)"/><circle cx="489.2" cy="120.81" r="1.68" fill="#2d2d2d"/>
<circle cx="489.2" cy="130.9" r="3.3" fill="url(#hh)" filter="url(#bl)"/><circle cx="489.2" cy="130.9" r="1.68" fill="#2d2d2d"/>
<circle cx="489.2" cy="140.99" r="3.3" fill="url(#hh)" filter="url(#bl)"/><circle cx="489.2" cy="140.99" r="1.68" fill="#2d2d2d"/>
<circle cx="489.2" cy="151.07" r="3.3" fill="url(#hh)" filter="url(#bl)"/><circle cx="489.2" cy="151.07" r="1.68" fill="#2d2d2d"/>
<circle cx="489.2" cy="161.16" r="3.3" fill="url(#hh)" filter="url(#bl)"/><circle cx="489.2" cy="161.16" r="1.68" fill="#2d2d2d"/>
<circle cx="499.28" cy="50.22" r="3.3" fill="url(#hh)" filter="url(#bl)"/><circle cx="499.28" cy="50.22" r="1.68" fill="#2d2d2d"/>
<circle cx="499.28" cy="60.31" r="3.3" fill="url(#hh)" filter="url(#bl)"/><circle cx="499.28" cy="60.31" r="1.68" fill="#2d2d2d"/>
<circle cx="499.28" cy="70.39" r="3.3" fill="url(#hh)" filter="url(#bl)"/><circle cx="499.28" cy="70.39" r="1.68" fill="#2d2d2d"/>
<circle cx="499.28" cy="80.47" r="3.3" fill="url(#hh)" filter="url(#bl)"/><circle cx="499.28" cy="80.47" r="1.68" fill="#2d2d2d"/>
<circle cx="499.28" cy="90.56" r="3.3" fill="url(#hh)" filter="url(#bl)"/><circle cx="499.28" cy="90.56" r="1.68" fill="#2d2d2d"/>
<circle cx="499.28" cy="120.81" r="3.3" fill="url(#hh)" filter="url(#bl)"/><circle cx="499.28" cy="120.81" r="1.68" fill="#2d2d2d"/>
<circle cx="499.28" cy="130.9" r="3.3" fill="url(#hh)" filter="url(#bl)"/><circle cx="499.28" cy="130.9" r="1.68" fill="#2d2d2d"/>
<circle cx="499.28" cy="140.99" r="3.3" fill="url(#hh)" filter="url(#bl)"/><circle cx="499.28" cy="140.99" r="1.68" fill="#2d2d2d"/>
<circle cx="499.28" cy="151.07" r="3.3" fill="url(#hh)" filter="url(#bl)"/><circle cx="499.28" cy="151.07" r="1.68" fill="#2d2d2d"/>
<circle cx="499.28" cy="161.16" r="3.3" fill="url(#hh)" filter="url(#bl)"/><circle cx="499.28" cy="161.16" r="1.68" fill="#2d2d2d"/>
<circle cx="509.37" cy="50.22" r="3.3" fill="url(#hh)" filter="url(#bl)"/><circle cx="509.37" cy="50.22" r="1.68" fill="#2d2d2d"/>
<circle cx="509.37" cy="60.31" r="3.3" fill="url(#hh)" filter="url(#bl)"/><circle cx="509.37" cy="60.31" r="1.68" fill="#2d2d2d"/>
<circle cx="509.37" cy="70.39" r="3.3" fill="url(#hh)" filter="url(#bl)"/><circle cx="509.37" cy="70.39" r="1.68" fill="#2d2d2d"/>
<circle cx="509.37" cy="80.47" r="3.3" fill="url(#hh)" filter="url(#bl)"/><circle cx="509.37" cy="80.47" r="1.68" fill="#2d2d2d"/>
<circle cx="509.37" cy="90.56" r="3.3" fill="url(#hh)" filter="url(#bl)"/><circle cx="509.37" cy="90.56" r="1.68" fill="#2d2d2d"/>
<circle cx="509.37" cy="120.81" r="3.3" fill="url(#hh)" filter="url(#bl)"/><circle cx="509.37" cy="120.81" r="1.68" fill="#2d2d2d"/>
<circle cx="509.37" cy="130.9" r="3.3" fill="url(#hh)" filter="url(#bl)"/><circle cx="509.37" cy="130.9" r="1.68" fill="#2d2d2d"/>
<circle cx="509.37" cy="140.99" r="3.3" fill="url(#hh)" filter="url(#bl)"/><circle cx="509.37" cy="140.99" r="1.68" fill="#2d2d2d"/>
<circle cx="509.37" cy="151.07" r="3.3" fill="url(#hh)" filter="url(#bl)"/><circle cx="509.37" cy="151.07" r="1.68" fill="#2d2d2d"/>
<circle cx="509.37" cy="161.16" r="3.3" fill="url(#hh)" filter="url(#bl)"/><circle cx="509.37" cy="161.16" r="1.68" fill="#2d2d2d"/>
<circle cx="519.45" cy="50.22" r="3.3" fill="url(#hh)" filter="url(#bl)"/><circle cx="519.45" cy="50.22" r="1.68" fill="#2d2d2d"/>
<circle cx="519.45" cy="60.31" r="3.3" fill="url(#hh)" filter="url(#bl)"/><circle cx="519.45" cy="60.31" r="1.68" fill="#2d2d2d"/>
<circle cx="519.45" cy="70.39" r="3.3" fill="url(#hh)" filter="url(#bl)"/><circle cx="519.45" cy="70.39" r="1.68" fill="#2d2d2d"/>
<circle cx="519.45" cy="80.47" r="3.3" fill="url(#hh)" filter="url(#bl)"/><circle cx="519.45" cy="80.47" r="1.68" fill="#2d2d2d"/>
<circle cx="519.45" cy="90.56" r="3.3" fill="url(#hh)" filter="url(#bl)"/><circle cx="519.45" cy="90.56" r="1.68" fill="#2d2d2d"/>
<circle cx="519.45" cy="120.81" r="3.3" fill="url(#hh)" filter="url(#bl)"/><circle cx="519.45" cy="120.81" r="1.68" fill="#2d2d2d"/>
<circle cx="519.45" cy="130.9" r="3.3" fill="url(#hh)" filter="url(#bl)"/><circle cx="519.45" cy="130.9" r="1.68" fill="#2d2d2d"/>
<circle cx="519.45" cy="140.99" r="3.3" fill="url(#hh)" filter="url(#bl)"/><circle cx="519.45" cy="140.99" r="1.68" fill="#2d2d2d"/>
<circle cx="519.45" cy="151.07" r="3.3" fill="url(#hh)" filter="url(#bl)"/><circle cx="519.45" cy="151.07" r="1.68" fill="#2d2d2d"/>
<circle cx="519.45" cy="161.16" r="3.3" fill="url(#hh)" filter="url(#bl)"/><circle cx="519.45" cy="161.16" r="1.68" fill="#2d2d2d"/>
<circle cx="529.54" cy="50.22" r="3.3" fill="url(#hh)" filter="url(#bl)"/><circle cx="529.54" cy="50.22" r="1.68" fill="#2d2d2d"/>
<circle cx="529.54" cy="60.31" r="3.3" fill="url(#hh)" filter="url(#bl)"/><circle cx="529.54" cy="60.31" r="1.68" fill="#2d2d2d"/>
<circle cx="529.54" cy="70.39" r="3.3" fill="url(#hh)" filter="url(#bl)"/><circle cx="529.54" cy="70.39" r="1.68" fill="#2d2d2d"/>
<circle cx="529.54" cy="80.47" r="3.3" fill="url(#hh)" filter="url(#bl)"/><circle cx="529.54" cy="80.47" r="1.68" fill="#2d2d2d"/>
<circle cx="529.54" cy="90.56" r="3.3" fill="url(#hh)" filter="url(#bl)"/><circle cx="529.54" cy="90.56" r="1.68" fill="#2d2d2d"/>
<circle cx="529.54" cy="120.81" r="3.3" fill="url(#hh)" filter="url(#bl)"/><circle cx="529.54" cy="120.81" r="1.68" fill="#2d2d2d"/>
<circle cx="529.54" cy="130.9" r="3.3" fill="url(#hh)" filter="url(#bl)"/><circle cx="529.54" cy="130.9" r="1.68" fill="#2d2d2d"/>
<circle cx="529.54" cy="140.99" r="3.3" fill="url(#hh)" filter="url(#bl)"/><circle cx="529.54" cy="140.99" r="1.68" fill="#2d2d2d"/>
<circle cx="529.54" cy="151.07" r="3.3" fill="url(#hh)" filter="url(#bl)"/><circle cx="529.54" cy="151.07" r="1.68" fill="#2d2d2d"/>
<circle cx="529.54" cy="161.16" r="3.3" fill="url(#hh)" filter="url(#bl)"/><circle cx="529.54" cy="161.16" r="1.68" fill="#2d2d2d"/>
<circle cx="539.62" cy="50.22" r="3.3" fill="url(#hh)" filter="url(#bl)"/><circle cx="539.62" cy="50.22" r="1.68" fill="#2d2d2d"/>
<circle cx="539.62" cy="60.31" r="3.3" fill="url(#hh)" filter="url(#bl)"/><circle cx="539.62" cy="60.31" r="1.68" fill="#2d2d2d"/>
<circle cx="539.62" cy="70.39" r="3.3" fill="url(#hh)" filter="url(#bl)"/><circle cx="539.62" cy="70.39" r="1.68" fill="#2d2d2d"/>
<circle cx="539.62" cy="80.47" r="3.3" fill="url(#hh)" filter="url(#bl)"/><circle cx="539.62" cy="80.47" r="1.68" fill="#2d2d2d"/>
<circle cx="539.62" cy="90.56" r="3.3" fill="url(#hh)" filter="url(#bl)"/><circle cx="539.62" cy="90.56" r="1.68" fill="#2d2d2d"/>
<circle cx="539.62" cy="120.81" r="3.3" fill="url(#hh)" filter="url(#bl)"/><circle cx="539.62" cy="120.81" r="1.68" fill="#2d2d2d"/>
<circle cx="539.62" cy="130.9" r="3.3" fill="url(#hh)" filter="url(#bl)"/><circle cx="539.62" cy="130.9" r="1.68" fill="#2d2d2d"/>
<circle cx="539.62" cy="140.99" r="3.3" fill="url(#hh)" filter="url(#bl)"/><circle cx="539.62" cy="140.99" r="1.68" fill="#2d2d2d"/>
<circle cx="539.62" cy="151.07" r="3.3" fill="url(#hh)" filter="url(#bl)"/><circle cx="539.62" cy="151.07" r="1.68" fill="#2d2d2d"/>
<circle cx="539.62" cy="161.16" r="3.3" fill="url(#hh)" filter="url(#bl)"/><circle cx="539.62" cy="161.16" r="1.68" fill="#2d2d2d"/>
<circle cx="549.71" cy="50.22" r="3.3" fill="url(#hh)" filter="url(#bl)"/><circle cx="549.71" cy="50.22" r="1.68" fill="#2d2d2d"/>
<circle cx="549.71" cy="60.31" r="3.3" fill="url(#hh)" filter="url(#bl)"/><circle cx="549.71" cy="60.31" r="1.68" fill="#2d2d2d"/>
<circle cx="549.71" cy="70.39" r="3.3" fill="url(#hh)" filter="url(#bl)"/><circle cx="549.71" cy="70.39" r="1.68" fill="#2d2d2d"/>
<circle cx="549.71" cy="80.47" r="3.3" fill="url(#hh)" filter="url(#bl)"/><circle cx="549.71" cy="80.47" r="1.68" fill="#2d2d2d"/>
<circle cx="549.71" cy="90.56" r="3.3" fill="url(#hh)" filter="url(#bl)"/><circle cx="549.71" cy="90.56" r="1.68" fill="#2d2d2d"/>
<circle cx="549.71" cy="120.81" r="3.3" fill="url(#hh)" filter="url(#bl)"/><circle cx="549.71" cy="120.81" r="1.68" fill="#2d2d2d"/>
<circle cx="549.71" cy="130.9" r="3.3" fill="url(#hh)" filter="url(#bl)"/><circle cx="549.71" cy="130.9" r="1.68" fill="#2d2d2d"/>
<circle cx="549.71" cy="140.99" r="3.3" fill="url(#hh)" filter="url(#bl)"/><circle cx="549.71" cy="140.99" r="1.68" fill="#2d2d2d"/>
<circle cx="549.71" cy="151.07" r="3.3" fill="url(#hh)" filter="url(#bl)"/><circle cx="549.71" cy="151.07" r="1.68" fill="#2d2d2d"/>
<circle cx="549.71" cy="161.16" r="3.3" fill="url(#hh)" filter="url(#bl)"/><circle cx="549.71" cy="161.16" r="1.68" fill="#2d2d2d"/>
<circle cx="559.79" cy="50.22" r="3.3" fill="url(#hh)" filter="url(#bl)"/><circle cx="559.79" cy="50.22" r="1.68" fill="#2d2d2d"/>
<circle cx="559.79" cy="60.31" r="3.3" fill="url(#hh)" filter="url(#bl)"/><circle cx="559.79" cy="60.31" r="1.68" fill="#2d2d2d"/>
<circle cx="559.79" cy="70.39" r="3.3" fill="url(#hh)" filter="url(#bl)"/><circle cx="559.79" cy="70.39" r="1.68" fill="#2d2d2d"/>
<circle cx="559.79" cy="80.47" r="3.3" fill="url(#hh)" filter="url(#bl)"/><circle cx="559.79" cy="80.47" r="1.68" fill="#2d2d2d"/>
<circle cx="559.79" cy="90.56" r="3.3" fill="url(#hh)" filter="url(#bl)"/><circle cx="559.79" cy="90.56" r="1.68" fill="#2d2d2d"/>
<circle cx="559.79" cy="120.81" r="3.3" fill="url(#hh)" filter="url(#bl)"/><circle cx="559.79" cy="120.81" r="1.68" fill="#2d2d2d"/>
<circle cx="559.79" cy="130.9" r="3.3" fill="url(#hh)" filter="url(#bl)"/><circle cx="559.79" cy="130.9" r="1.68" fill="#2d2d2d"/>
<circle cx="559.79" cy="140.99" r="3.3" fill="url(#hh)" filter="url(#bl)"/><circle cx="559.79" cy="140.99" r="1.68" fill="#2d2d2d"/>
<circle cx="559.79" cy="151.07" r="3.3" fill="url(#hh)" filter="url(#bl)"/><circle cx="559.79" cy="151.07" r="1.68" fill="#2d2d2d"/>
<circle cx="559.79" cy="161.16" r="3.3" fill="url(#hh)" filter="url(#bl)"/><circle cx="559.79" cy="161.16" r="1.68" fill="#2d2d2d"/>
<circle cx="569.88" cy="50.22" r="3.3" fill="url(#hh)" filter="url(#bl)"/><circle cx="569.88" cy="50.22" r="1.68" fill="#2d2d2d"/>
<circle cx="569.88" cy="60.31" r="3.3" fill="url(#hh)" filter="url(#bl)"/><circle cx="569.88" cy="60.31" r="1.68" fill="#2d2d2d"/>
<circle cx="569.88" cy="70.39" r="3.3" fill="url(#hh)" filter="url(#bl)"/><circle cx="569.88" cy="70.39" r="1.68" fill="#2d2d2d"/>
<circle cx="569.88" cy="80.47" r="3.3" fill="url(#hh)" filter="url(#bl)"/><circle cx="569.88" cy="80.47" r="1.68" fill="#2d2d2d"/>
<circle cx="569.88" cy="90.56" r="3.3" fill="url(#hh)" filter="url(#bl)"/><circle cx="569.88" cy="90.56" r="1.68" fill="#2d2d2d"/>
<circle cx="569.88" cy="120.81" r="3.3" fill="url(#hh)" filter="url(#bl)"/><circle cx="569.88" cy="120.81" r="1.68" fill="#2d2d2d"/>
<circle cx="569.88" cy="130.9" r="3.3" fill="url(#hh)" filter="url(#bl)"/><circle cx="569.88" cy="130.9" r="1.68" fill="#2d2d2d"/>
<circle cx="569.88" cy="140.99" r="3.3" fill="url(#hh)" filter="url(#bl)"/><circle cx="569.88" cy="140.99" r="1.68" fill="#2d2d2d"/>
<circle cx="569.88" cy="151.07" r="3.3" fill="url(#hh)" filter="url(#bl)"/><circle cx="569.88" cy="151.07" r="1.68" fill="#2d2d2d"/>
<circle cx="569.88" cy="161.16" r="3.3" fill="url(#hh)" filter="url(#bl)"/><circle cx="569.88" cy="161.16" r="1.68" fill="#2d2d2d"/>
<circle cx="579.96" cy="50.22" r="3.3" fill="url(#hh)" filter="url(#bl)"/><circle cx="579.96" cy="50.22" r="1.68" fill="#2d2d2d"/>
<circle cx="579.96" cy="60.31" r="3.3" fill="url(#hh)" filter="url(#bl)"/><circle cx="579.96" cy="60.31" r="1.68" fill="#2d2d2d"/>
<circle cx="579.96" cy="70.39" r="3.3" fill="url(#hh)" filter="url(#bl)"/><circle cx="579.96" cy="70.39" r="1.68" fill="#2d2d2d"/>
<circle cx="579.96" cy="80.47" r="3.3" fill="url(#hh)" filter="url(#bl)"/><circle cx="579.96" cy="80.47" r="1.68" fill="#2d2d2d"/>
<circle cx="579.96" cy="90.56" r="3.3" fill="url(#hh)" filter="url(#bl)"/><circle cx="579.96" cy="90.56" r="1.68" fill="#2d2d2d"/>
<circle cx="579.96" cy="120.81" r="3.3" fill="url(#hh)" filter="url(#bl)"/><circle cx="579.96" cy="120.81" r="1.68" fill="#2d2d2d"/>
<circle cx="579.96" cy="130.9" r="3.3" fill="url(#hh)" filter="url(#bl)"/><circle cx="579.96" cy="130.9" r="1.68" fill="#2d2d2d"/>
<circle cx="579.96" cy="140.99" r="3.3" fill="url(#hh)" filter="url(#bl)"/><circle cx="579.96" cy="140.99" r="1.68" fill="#2d2d2d"/>
<circle cx="579.96" cy="151.07" r="3.3" fill="url(#hh)" filter="url(#bl)"/><circle cx="579.96" cy="151.07" r="1.68" fill="#2d2d2d"/>
<circle cx="579.96" cy="161.16" r="3.3" fill="url(#hh)" filter="url(#bl)"/><circle cx="579.96" cy="161.16" r="1.68" fill="#2d2d2d"/>
<circle cx="590.05" cy="50.22" r="3.3" fill="url(#hh)" filter="url(#bl)"/><circle cx="590.05" cy="50.22" r="1.68" fill="#2d2d2d"/>
<circle cx="590.05" cy="60.31" r="3.3" fill="url(#hh)" filter="url(#bl)"/><circle cx="590.05" cy="60.31" r="1.68" fill="#2d2d2d"/>
<circle cx="590.05" cy="70.39" r="3.3" fill="url(#hh)" filter="url(#bl)"/><circle cx="590.05" cy="70.39" r="1.68" fill="#2d2d2d"/>
<circle cx="590.05" cy="80.47" r="3.3" fill="url(#hh)" filter="url(#bl)"/><circle cx="590.05" cy="80.47" r="1.68" fill="#2d2d2d"/>
<circle cx="590.05" cy="90.56" r="3.3" fill="url(#hh)" filter="url(#bl)"/><circle cx="590.05" cy="90.56" r="1.68" fill="#2d2d2d"/>
<circle cx="590.05" cy="120.81" r="3.3" fill="url(#hh)" filter="url(#bl)"/><circle cx="590.05" cy="120.81" r="1.68" fill="#2d2d2d"/>
<circle cx="590.05" cy="130.9" r="3.3" fill="url(#hh)" filter="url(#bl)"/><circle cx="590.05" cy="130.9" r="1.68" fill="#2d2d2d"/>
<circle cx="590.05" cy="140.99" r="3.3" fill="url(#hh)" filter="url(#bl)"/><circle cx="590.05" cy="140.99" r="1.68" fill="#2d2d2d"/>
<circle cx="590.05" cy="151.07" r="3.3" fill="url(#hh)" filter="url(#bl)"/><circle cx="590.05" cy="151.07" r="1.68" fill="#2d2d2d"/>
<circle cx="590.05" cy="161.16" r="3.3" fill="url(#hh)" filter="url(#bl)"/><circle cx="590.05" cy="161.16" r="1.68" fill="#2d2d2d"/>
<circle cx="600.13" cy="50.22" r="3.3" fill="url(#hh)" filter="url(#bl)"/><circle cx="600.13" cy="50.22" r="1.68" fill="#2d2d2d"/>
<circle cx="600.13" cy="60.31" r="3.3" fill="url(#hh)" filter="url(#bl)"/><circle cx="600.13" cy="60.31" r="1.68" fill="#2d2d2d"/>
<circle cx="600.13" cy="70.39" r="3.3" fill="url(#hh)" filter="url(#bl)"/><circle cx="600.13" cy="70.39" r="1.68" fill="#2d2d2d"/>
<circle cx="600.13" cy="80.47" r="3.3" fill="url(#hh)" filter="url(#bl)"/><circle cx="600.13" cy="80.47" r="1.68" fill="#2d2d2d"/>
<circle cx="600.13" cy="90.56" r="3.3" fill="url(#hh)" filter="url(#bl)"/><circle cx="600.13" cy="90.56" r="1.68" fill="#2d2d2d"/>
<circle cx="600.13" cy="120.81" r="3.3" fill="url(#hh)" filter="url(#bl)"/><circle cx="600.13" cy="120.81" r="1.68" fill="#2d2d2d"/>
<circle cx="600.13" cy="130.9" r="3.3" fill="url(#hh)" filter="url(#bl)"/><circle cx="600.13" cy="130.9" r="1.68" fill="#2d2d2d"/>
<circle cx="600.13" cy="140.99" r="3.3" fill="url(#hh)" filter="url(#bl)"/><circle cx="600.13" cy="140.99" r="1.68" fill="#2d2d2d"/>
<circle cx="600.13" cy="151.07" r="3.3" fill="url(#hh)" filter="url(#bl)"/><circle cx="600.13" cy="151.07" r="1.68" fill="#2d2d2d"/>
<circle cx="600.13" cy="161.16" r="3.3" fill="url(#hh)" filter="url(#bl)"/><circle cx="600.13" cy="161.16" r="1.68" fill="#2d2d2d"/>
<circle cx="610.22" cy="50.22" r="3.3" fill="url(#hh)" filter="url(#bl)"/><circle cx="610.22" cy="50.22" r="1.68" fill="#2d2d2d"/>
<circle cx="610.22" cy="60.31" r="3.3" fill="url(#hh)" filter="url(#bl)"/><circle cx="610.22" cy="60.31" r="1.68" fill="#2d2d2d"/>
<circle cx="610.22" cy="70.39" r="3.3" fill="url(#hh)" filter="url(#bl)"/><circle cx="610.22" cy="70.39" r="1.68" fill="#2d2d2d"/>
<circle cx="610.22" cy="80.47" r="3.3" fill="url(#hh)" filter="url(#bl)"/><circle cx="610.22" cy="80.47" r="1.68" fill="#2d2d2d"/>
<circle cx="610.22" cy="90.56" r="3.3" fill="url(#hh)" filter="url(#bl)"/><circle cx="610.22" cy="90.56" r="1.68" fill="#2d2d2d"/>
<circle cx="610.22" cy="120.81" r="3.3" fill="url(#hh)" filter="url(#bl)"/><circle cx="610.22" cy="120.81" r="1.68" fill="#2d2d2d"/>
<circle cx="610.22" cy="130.9" r="3.3" fill="url(#hh)" filter="url(#bl)"/><circle cx="610.22" cy="130.9" r="1.68" fill="#2d2d2d"/>
<circle cx="610.22" cy="140.99" r="3.3" fill="url(#hh)" filter="url(#bl)"/><circle cx="610.22" cy="140.99" r="1.68" fill="#2d2d2d"/>
<circle cx="610.22" cy="151.07" r="3.3" fill="url(#hh)" filter="url(#bl)"/><circle cx="610.22" cy="151.07" r="1.68" fill="#2d2d2d"/>
<circle cx="610.22" cy="161.16" r="3.3" fill="url(#hh)" filter="url(#bl)"/><circle cx="610.22" cy="161.16" r="1.68" fill="#2d2d2d"/>
<circle cx="620.3" cy="50.22" r="3.3" fill="url(#hh)" filter="url(#bl)"/><circle cx="620.3" cy="50.22" r="1.68" fill="#2d2d2d"/>
<circle cx="620.3" cy="60.31" r="3.3" fill="url(#hh)" filter="url(#bl)"/><circle cx="620.3" cy="60.31" r="1.68" fill="#2d2d2d"/>
<circle cx="620.3" cy="70.39" r="3.3" fill="url(#hh)" filter="url(#bl)"/><circle cx="620.3" cy="70.39" r="1.68" fill="#2d2d2d"/>
<circle cx="620.3" cy="80.47" r="3.3" fill="url(#hh)" filter="url(#bl)"/><circle cx="620.3" cy="80.47" r="1.68" fill="#2d2d2d"/>
<circle cx="620.3" cy="90.56" r="3.3" fill="url(#hh)" filter="url(#bl)"/><circle cx="620.3" cy="90.56" r="1.68" fill="#2d2d2d"/>
<circle cx="620.3" cy="120.81" r="3.3" fill="url(#hh)" filter="url(#bl)"/><circle cx="620.3" cy="120.81" r="1.68" fill="#2d2d2d"/>
<circle cx="620.3" cy="130.9" r="3.3" fill="url(#hh)" filter="url(#bl)"/><circle cx="620.3" cy="130.9" r="1.68" fill="#2d2d2d"/>
<circle cx="620.3" cy="140.99" r="3.3" fill="url(#hh)" filter="url(#bl)"/><circle cx="620.3" cy="140.99" r="1.68" fill="#2d2d2d"/>
<circle cx="620.3" cy="151.07" r="3.3" fill="url(#hh)" filter="url(#bl)"/><circle cx="620.3" cy="151.07" r="1.68" fill="#2d2d2d"/>
<circle cx="620.3" cy="161.16" r="3.3" fill="url(#hh)" filter="url(#bl)"/><circle cx="620.3" cy="161.16" r="1.68" fill="#2d2d2d"/>
<circle cx="630.39" cy="50.22" r="3.3" fill="url(#hh)" filter="url(#bl)"/><circle cx="630.39" cy="50.22" r="1.68" fill="#2d2d2d"/>
<circle cx="630.39" cy="60.31" r="3.3" fill="url(#hh)" filter="url(#bl)"/><circle cx="630.39" cy="60.31" r="1.68" fill="#2d2d2d"/>
<circle cx="630.39" cy="70.39" r="3.3" fill="url(#hh)" filter="url(#bl)"/><circle cx="630.39" cy="70.39" r="1.68" fill="#2d2d2d"/>
<circle cx="630.39" cy="80.47" r="3.3" fill="url(#hh)" filter="url(#bl)"/><circle cx="630.39" cy="80.47" r="1.68" fill="#2d2d2d"/>
<circle cx="630.39" cy="90.56" r="3.3" fill="url(#hh)" filter="url(#bl)"/><circle cx="630.39" cy="90.56" r="1.68" fill="#2d2d2d"/>
<circle cx="630.39" cy="120.81" r="3.3" fill="url(#hh)" filter="url(#bl)"/><circle cx="630.39" cy="120.81" r="1.68" fill="#2d2d2d"/>
<circle cx="630.39" cy="130.9" r="3.3" fill="url(#hh)" filter="url(#bl)"/><circle cx="630.39" cy="130.9" r="1.68" fill="#2d2d2d"/>
<circle cx="630.39" cy="140.99" r="3.3" fill="url(#hh)" filter="url(#bl)"/><circle cx="630.39" cy="140.99" r="1.68" fill="#2d2d2d"/>
<circle cx="630.39" cy="151.07" r="3.3" fill="url(#hh)" filter="url(#bl)"/><circle cx="630.39" cy="151.07" r="1.68" fill="#2d2d2d"/>
<circle cx="630.39" cy="161.16" r="3.3" fill="url(#hh)" filter="url(#bl)"/><circle cx="630.39" cy="161.16" r="1.68" fill="#2d2d2d"/>
<circle cx="640.47" cy="50.22" r="3.3" fill="url(#hh)" filter="url(#bl)"/><circle cx="640.47" cy="50.22" r="1.68" fill="#2d2d2d"/>
<circle cx="640.47" cy="60.31" r="3.3" fill="url(#hh)" filter="url(#bl)"/><circle cx="640.47" cy="60.31" r="1.68" fill="#2d2d2d"/>
<circle cx="640.47" cy="70.39" r="3.3" fill="url(#hh)" filter="url(#bl)"/><circle cx="640.47" cy="70.39" r="1.68" fill="#2d2d2d"/>
<circle cx="640.47" cy="80.47" r="3.3" fill="url(#hh)" filter="url(#bl)"/><circle cx="640.47" cy="80.47" r="1.68" fill="#2d2d2d"/>
<circle cx="640.47" cy="90.56" r="3.3" fill="url(#hh)" filter="url(#bl)"/><circle cx="640.47" cy="90.56" r="1.68" fill="#2d2d2d"/>
<circle cx="640.47" cy="120.81" r="3.3" fill="url(#hh)" filter="url(#bl)"/><circle cx="640.47" cy="120.81" r="1.68" fill="#2d2d2d"/>
<circle cx="640.47" cy="130.9" r="3.3" fill="url(#hh)" filter="url(#bl)"/><circle cx="640.47" cy="130.9" r="1.68" fill="#2d2d2d"/>
<circle cx="640.47" cy="140.99" r="3.3" fill="url(#hh)" filter="url(#bl)"/><circle cx="640.47" cy="140.99" r="1.68" fill="#2d2d2d"/>
<circle cx="640.47" cy="151.07" r="3.3" fill="url(#hh)" filter="url(#bl)"/><circle cx="640.47" cy="151.07" r="1.68" fill="#2d2d2d"/>
<circle cx="640.47" cy="161.16" r="3.3" fill="url(#hh)" filter="url(#bl)"/><circle cx="640.47" cy="161.16" r="1.68" fill="#2d2d2d"/>
<text filter="url(#gs)" x="15.2" y="42.1" font-family="Liberation Sans, sans-serif" font-size="7.2" fill="#acacac" transform="rotate(-90 15.2 42.1)" dy="2.6" textLength="3.2" lengthAdjust="spacingAndGlyphs">1</text>
<text filter="url(#gs)" x="15.2" y="176.4" font-family="Liberation Sans, sans-serif" font-size="7.2" fill="#acacac" transform="rotate(-90 15.2 176.4)" dy="2.6" textLength="3.2" lengthAdjust="spacingAndGlyphs">1</text>
<text filter="url(#gs)" x="55.54" y="42.1" font-family="Liberation Sans, sans-serif" font-size="7.2" fill="#acacac" transform="rotate(-90 55.54 42.1)" dy="2.6" textLength="3.2" lengthAdjust="spacingAndGlyphs">5</text>
<text filter="url(#gs)" x="55.54" y="176.4" font-family="Liberation Sans, sans-serif" font-size="7.2" fill="#acacac" transform="rotate(-90 55.54 176.4)" dy="2.6" textLength="3.2" lengthAdjust="spacingAndGlyphs">5</text>
<text filter="url(#gs)" x="105.97" y="42.1" font-family="Liberation Sans, sans-serif" font-size="7.2" fill="#acacac" transform="rotate(-90 105.97 42.1)" dy="2.6" textLength="6.4" lengthAdjust="spacingAndGlyphs">10</text>
<text filter="url(#gs)" x="105.97" y="176.4" font-family="Liberation Sans, sans-serif" font-size="7.2" fill="#acacac" transform="rotate(-90 105.97 176.4)" dy="2.6" textLength="6.4" lengthAdjust="spacingAndGlyphs">10</text>
<text filter="url(#gs)" x="156.39" y="42.1" font-family="Liberation Sans, sans-serif" font-size="7.2" fill="#acacac" transform="rotate(-90 156.39 42.1)" dy="2.6" textLength="6.4" lengthAdjust="spacingAndGlyphs">15</text>
<text filter="url(#gs)" x="156.39" y="176.4" font-family="Liberation Sans, sans-serif" font-size="7.2" fill="#acacac" transform="rotate(-90 156.39 176.4)" dy="2.6" textLength="6.4" lengthAdjust="spacingAndGlyphs">15</text>
<text filter="url(#gs)" x="206.81" y="42.1" font-family="Liberation Sans, sans-serif" font-size="7.2" fill="#acacac" transform="rotate(-90 206.81 42.1)" dy="2.6" textLength="6.4" lengthAdjust="spacingAndGlyphs">20</text>
<text filter="url(#gs)" x="206.81" y="176.4" font-family="Liberation Sans, sans-serif" font-size="7.2" fill="#acacac" transform="rotate(-90 206.81 176.4)" dy="2.6" textLength="6.4" lengthAdjust="spacingAndGlyphs">20</text>
<text filter="url(#gs)" x="257.24" y="42.1" font-family="Liberation Sans, sans-serif" font-size="7.2" fill="#acacac" transform="rotate(-90 257.24 42.1)" dy="2.6" textLength="6.4" lengthAdjust="spacingAndGlyphs">25</text>
<text filter="url(#gs)" x="257.24" y="176.4" font-family="Liberation Sans, sans-serif" font-size="7.2" fill="#acacac" transform="rotate(-90 257.24 176.4)" dy="2.6" textLength="6.4" lengthAdjust="spacingAndGlyphs">25</text>
<text filter="url(#gs)" x="307.67" y="42.1" font-family="Liberation Sans, sans-serif" font-size="7.2" fill="#acacac" transform="rotate(-90 307.67 42.1)" dy="2.6" textLength="6.4" lengthAdjust="spacingAndGlyphs">30</text>
<text filter="url(#gs)" x="307.67" y="176.4" font-family="Liberation Sans, sans-serif" font-size="7.2" fill="#acacac" transform="rotate(-90 307.67 176.4)" dy="2.6" textLength="6.4" lengthAdjust="spacingAndGlyphs">30</text>
<text filter="url(#gs)" x="358.09" y="42.1" font-family="Liberation Sans, sans-serif" font-size="7.2" fill="#acacac" transform="rotate(-90 358.09 42.1)" dy="2.6" textLength="6.4" lengthAdjust="spacingAndGlyphs">35</text>
<text filter="url(#gs)" x="358.09" y="176.4" font-family="Liberation Sans, sans-serif" font-size="7.2" fill="#acacac" transform="rotate(-90 358.09 176.4)" dy="2.6" textLength="6.4" lengthAdjust="spacingAndGlyphs">35</text>
<text filter="url(#gs)" x="408.52" y="42.1" font-family="Liberation Sans, sans-serif" font-size="7.2" fill="#acacac" transform="rotate(-90 408.52 42.1)" dy="2.6" textLength="6.4" lengthAdjust="spacingAndGlyphs">40</text>
<text filter="url(#gs)" x="408.52" y="176.4" font-family="Liberation Sans, sans-serif" font-size="7.2" fill="#acacac" transform="rotate(-90 408.52 176.4)" dy="2.6" textLength="6.4" lengthAdjust="spacingAndGlyphs">40</text>
<text filter="url(#gs)" x="458.94" y="42.1" font-family="Liberation Sans, sans-serif" font-size="7.2" fill="#acacac" transform="rotate(-90 458.94 42.1)" dy="2.6" textLength="6.4" lengthAdjust="spacingAndGlyphs">45</text>
<text filter="url(#gs)" x="458.94" y="176.4" font-family="Liberation Sans, sans-serif" font-size="7.2" fill="#acacac" transform="rotate(-90 458.94 176.4)" dy="2.6" textLength="6.4" lengthAdjust="spacingAndGlyphs">45</text>
<text filter="url(#gs)" x="509.37" y="42.1" font-family="Liberation Sans, sans-serif" font-size="7.2" fill="#acacac" transform="rotate(-90 509.37 42.1)" dy="2.6" textLength="6.4" lengthAdjust="spacingAndGlyphs">50</text>
<text filter="url(#gs)" x="509.37" y="176.4" font-family="Liberation Sans, sans-serif" font-size="7.2" fill="#acacac" transform="rotate(-90 509.37 176.4)" dy="2.6" textLength="6.4" lengthAdjust="spacingAndGlyphs">50</text>
<text filter="url(#gs)" x="559.79" y="42.1" font-family="Liberation Sans, sans-serif" font-size="7.2" fill="#acacac" transform="rotate(-90 559.79 42.1)" dy="2.6" textLength="6.4" lengthAdjust="spacingAndGlyphs">55</text>
<text filter="url(#gs)" x="559.79" y="176.4" font-family="Liberation Sans, sans-serif" font-size="7.2" fill="#acacac" transform="rotate(-90 559.79 176.4)" dy="2.6" textLength="6.4" lengthAdjust="spacingAndGlyphs">55</text>
<text filter="url(#gs)" x="610.22" y="42.1" font-family="Liberation Sans, sans-serif" font-size="7.2" fill="#acacac" transform="rotate(-90 610.22 42.1)" dy="2.6" textLength="6.4" lengthAdjust="spacingAndGlyphs">60</text>
<text filter="url(#gs)" x="610.22" y="176.4" font-family="Liberation Sans, sans-serif" font-size="7.2" fill="#acacac" transform="rotate(-90 610.22 176.4)" dy="2.6" textLength="6.4" lengthAdjust="spacingAndGlyphs">60</text>
<text filter="url(#gs)" x="5.6" y="50.22" font-family="Liberation Sans, sans-serif" font-size="7.2" fill="#bababa" text-anchor="middle" transform="rotate(-90 5.6 50.22)" dy="2.6">J</text>
<text filter="url(#gs)" x="649.8" y="50.22" font-family="Liberation Sans, sans-serif" font-size="7.2" fill="#bababa" text-anchor="middle" transform="rotate(-90 649.8 50.22)" dy="2.6">J</text>
<text filter="url(#gs)" x="5.6" y="60.31" font-family="Liberation Sans, sans-serif" font-size="7.2" fill="#bababa" text-anchor="middle" transform="rotate(-90 5.6 60.31)" dy="2.6">I</text>
<text filter="url(#gs)" x="649.8" y="60.31" font-family="Liberation Sans, sans-serif" font-size="7.2" fill="#bababa" text-anchor="middle" transform="rotate(-90 649.8 60.31)" dy="2.6">I</text>
<text filter="url(#gs)" x="5.6" y="70.39" font-family="Liberation Sans, sans-serif" font-size="7.2" fill="#bababa" text-anchor="middle" transform="rotate(-90 5.6 70.39)" dy="2.6">H</text>
<text filter="url(#gs)" x="649.8" y="70.39" font-family="Liberation Sans, sans-serif" font-size="7.2" fill="#bababa" text-anchor="middle" transform="rotate(-90 649.8 70.39)" dy="2.6">H</text>
<text filter="url(#gs)" x="5.6" y="80.47" font-family="Liberation Sans, sans-serif" font-size="7.2" fill="#bababa" text-anchor="middle" transform="rotate(-90 5.6 80.47)" dy="2.6">G</text>
<text filter="url(#gs)" x="649.8" y="80.47" font-family="Liberation Sans, sans-serif" font-size="7.2" fill="#bababa" text-anchor="middle" transform="rotate(-90 649.8 80.47)" dy="2.6">G</text>
<text filter="url(#gs)" x="5.6" y="90.56" font-family="Liberation Sans, sans-serif" font-size="7.2" fill="#bababa" text-anchor="middle" transform="rotate(-90 5.6 90.56)" dy="2.6">F</text>
<text filter="url(#gs)" x="649.8" y="90.56" font-family="Liberation Sans, sans-serif" font-size="7.2" fill="#bababa" text-anchor="middle" transform="rotate(-90 649.8 90.56)" dy="2.6">F</text>
<text filter="url(#gs)" x="5.6" y="120.81" font-family="Liberation Sans, sans-serif" font-size="7.2" fill="#bababa" text-anchor="middle" transform="rotate(-90 5.6 120.81)" dy="2.6">E</text>
<text filter="url(#gs)" x="649.8" y="120.81" font-family="Liberation Sans, sans-serif" font-size="7.2" fill="#bababa" text-anchor="middle" transform="rotate(-90 649.8 120.81)" dy="2.6">E</text>
<text filter="url(#gs)" x="5.6" y="130.9" font-family="Liberation Sans, sans-serif" font-size="7.2" fill="#bababa" text-anchor="middle" transform="rotate(-90 5.6 130.9)" dy="2.6">D</text>
<text filter="url(#gs)" x="649.8" y="130.9" font-family="Liberation Sans, sans-serif" font-size="7.2" fill="#bababa" text-anchor="middle" transform="rotate(-90 649.8 130.9)" dy="2.6">D</text>
<text filter="url(#gs)" x="5.6" y="140.99" font-family="Liberation Sans, sans-serif" font-size="7.2" fill="#bababa" text-anchor="middle" transform="rotate(-90 5.6 140.99)" dy="2.6">C</text>
<text filter="url(#gs)" x="649.8" y="140.99" font-family="Liberation Sans, sans-serif" font-size="7.2" fill="#bababa" text-anchor="middle" transform="rotate(-90 649.8 140.99)" dy="2.6">C</text>
<text filter="url(#gs)" x="5.6" y="151.07" font-family="Liberation Sans, sans-serif" font-size="7.2" fill="#bababa" text-anchor="middle" transform="rotate(-90 5.6 151.07)" dy="2.6">B</text>
<text filter="url(#gs)" x="649.8" y="151.07" font-family="Liberation Sans, sans-serif" font-size="7.2" fill="#bababa" text-anchor="middle" transform="rotate(-90 649.8 151.07)" dy="2.6">B</text>
<text filter="url(#gs)" x="5.6" y="161.16" font-family="Liberation Sans, sans-serif" font-size="7.2" fill="#bababa" text-anchor="middle" transform="rotate(-90 5.6 161.16)" dy="2.6">A</text>
<text filter="url(#gs)" x="649.8" y="161.16" font-family="Liberation Sans, sans-serif" font-size="7.2" fill="#bababa" text-anchor="middle" transform="rotate(-90 649.8 161.16)" dy="2.6">A</text>
<rect x="103.77" y="92.9" width="4.4" height="3.2" fill="#999999"/>
<rect x="102.97" y="87.6" width="6" height="5.6" rx="2.2" fill="#58cc58" stroke="#7ee07e" stroke-width="0.5"/>
<rect x="104.47" y="88.9" width="3" height="4.3" fill="#86a686"/>
<rect x="103.77" y="115.4" width="4.4" height="2.8" fill="#999999"/>
<rect x="102.97" y="118.1" width="6" height="5.6" rx="2.2" fill="#58cc58" stroke="#7ee07e" stroke-width="0.5"/>
<rect x="104.47" y="118.3" width="3" height="4.3" fill="#86a686"/>
<rect x="113.85" y="92.9" width="4.4" height="3.2" fill="#999999"/>
<rect x="113.05" y="87.6" width="6" height="5.6" rx="2.2" fill="#58cc58" stroke="#7ee07e" stroke-width="0.5"/>
<rect x="114.55" y="88.9" width="3" height="4.3" fill="#86a686"/>
<rect x="113.85" y="115.4" width="4.4" height="2.8" fill="#999999"/>
<rect x="113.05" y="118.1" width="6" height="5.6" rx="2.2" fill="#58cc58" stroke="#7ee07e" stroke-width="0.5"/>
<rect x="114.55" y="118.3" width="3" height="4.3" fill="#86a686"/>
<rect x="123.94" y="92.9" width="4.4" height="3.2" fill="#999999"/>
<rect x="123.14" y="87.6" width="6" height="5.6" rx="2.2" fill="#58cc58" stroke="#7ee07e" stroke-width="0.5"/>
<rect x="124.64" y="88.9" width="3" height="4.3" fill="#86a686"/>
<rect x="123.94" y="115.4" width="4.4" height="2.8" fill="#999999"/>
<rect x="123.14" y="118.1" width="6" height="5.6" rx="2.2" fill="#58cc58" stroke="#7ee07e" stroke-width="0.5"/>
<rect x="124.64" y="118.3" width="3" height="4.3" fill="#86a686"/>
<rect x="134.02" y="92.9" width="4.4" height="3.2" fill="#999999"/>
<rect x="133.22" y="87.6" width="6" height="5.6" rx="2.2" fill="#58cc58" stroke="#7ee07e" stroke-width="0.5"/>
<rect x="134.72" y="88.9" width="3" height="4.3" fill="#86a686"/>
<rect x="134.02" y="115.4" width="4.4" height="2.8" fill="#999999"/>
<rect x="133.22" y="118.1" width="6" height="5.6" rx="2.2" fill="#58cc58" stroke="#7ee07e" stroke-width="0.5"/>
<rect x="134.72" y="118.3" width="3" height="4.3" fill="#86a686"/>
<rect x="144.11" y="92.9" width="4.4" height="3.2" fill="#999999"/>
<rect x="143.31" y="87.6" width="6" height="5.6" rx="2.2" fill="#58cc58" stroke="#7ee07e" stroke-width="0.5"/>
<rect x="144.81" y="88.9" width="3" height="4.3" fill="#86a686"/>
<rect x="144.11" y="115.4" width="4.4" height="2.8" fill="#999999"/>
<rect x="143.31" y="118.1" width="6" height="5.6" rx="2.2" fill="#58cc58" stroke="#7ee07e" stroke-width="0.5"/>
<rect x="144.81" y="118.3" width="3" height="4.3" fill="#86a686"/>
<rect x="154.19" y="92.9" width="4.4" height="3.2" fill="#999999"/>
<rect x="153.39" y="87.6" width="6" height="5.6" rx="2.2" fill="#58cc58" stroke="#7ee07e" stroke-width="0.5"/>
<rect x="154.89" y="88.9" width="3" height="4.3" fill="#86a686"/>
<rect x="154.19" y="115.4" width="4.4" height="2.8" fill="#999999"/>
<rect x="153.39" y="118.1" width="6" height="5.6" rx="2.2" fill="#58cc58" stroke="#7ee07e" stroke-width="0.5"/>
<rect x="154.89" y="118.3" width="3" height="4.3" fill="#86a686"/>
<rect x="164.28" y="92.9" width="4.4" height="3.2" fill="#999999"/>
<rect x="163.47" y="87.6" width="6" height="5.6" rx="2.2" fill="#58cc58" stroke="#7ee07e" stroke-width="0.5"/>
<rect x="164.97" y="88.9" width="3" height="4.3" fill="#86a686"/>
<rect x="164.28" y="115.4" width="4.4" height="2.8" fill="#999999"/>
<rect x="163.47" y="118.1" width="6" height="5.6" rx="2.2" fill="#58cc58" stroke="#7ee07e" stroke-width="0.5"/>
<rect x="164.97" y="118.3" width="3" height="4.3" fill="#86a686"/>
<rect x="174.36" y="92.9" width="4.4" height="3.2" fill="#999999"/>
<rect x="173.56" y="87.6" width="6" height="5.6" rx="2.2" fill="#58cc58" stroke="#7ee07e" stroke-width="0.5"/>
<rect x="175.06" y="88.9" width="3" height="4.3" fill="#86a686"/>
<rect x="174.36" y="115.4" width="4.4" height="2.8" fill="#999999"/>
<rect x="173.56" y="118.1" width="6" height="5.6" rx="2.2" fill="#58cc58" stroke="#7ee07e" stroke-width="0.5"/>
<rect x="175.06" y="118.3" width="3" height="4.3" fill="#86a686"/>
<rect x="101.2" y="95.9" width="80.4" height="19.7" fill="#333333" stroke="#3d3d3d" stroke-width="0.6"/>
<path d="M102.4 96.4 V115.2" stroke="#454545" stroke-width="0.6"/>
<path d="M102.4 101.9 A3.8 3.8 0 0 1 102.4 109.5 Z" fill="#2b2b2b" stroke="#555555" stroke-width="0.7"/>
<text filter="url(#gs)" x="142.95" y="109.1" font-family="Liberation Sans, sans-serif" font-size="8.8" fill="#d2d2d2" text-anchor="middle" textLength="36.5" lengthAdjust="spacingAndGlyphs">MCP3008</text>
<defs><linearGradient id="pr" x1="0.15" y1="0.1" x2="0.85" y2="0.9"><stop offset="0" stop-color="#5296da"/><stop offset="0.5" stop-color="#4283c8"/><stop offset="1" stop-color="#336eae"/></linearGradient></defs>
<rect x="207.7" y="81.7" width="38.3" height="38" fill="#54a8f0" stroke="#3f84ca" stroke-width="0.6"/>
<circle cx="227" cy="100.8" r="17.9" fill="url(#pr)"/>
<circle cx="227" cy="100.8" r="14.75" fill="none" stroke="#2a5e9c" stroke-opacity="0.55" stroke-width="6.2" stroke-dasharray="0.45 0.5"/>
<circle cx="227" cy="100.8" r="14.75" fill="none" stroke="#8cc2f0" stroke-opacity="0.3" stroke-width="4.6" stroke-dasharray="0.3 0.65"/>
<circle cx="227" cy="100.8" r="17.9" fill="none" stroke="#3a78bc" stroke-width="0.6"/>
<circle cx="227" cy="100.8" r="11.6" fill="#56a6ee"/>
<circle cx="227" cy="100.8" r="11.1" fill="none" stroke="#3b7bc0" stroke-width="0.8"/>
<circle cx="227" cy="100.8" r="9.9" fill="none" stroke="#6cb4f2" stroke-width="0.5"/>
<path d="M227 90.3 L232.2 98.5 L229.4 98.5 L229.4 110.6 L224.6 110.6 L224.6 98.5 L221.8 98.5 Z" fill="#3f85ca" stroke="#2e6aa8" stroke-width="0.6" stroke-linejoin="round"/>
<path d="M24 224.6 H338.5 A11.3 11.3 0 0 1 349.8 235.9 V435.4 A11.3 11.3 0 0 1 338.5 446.7 H24 A11.8 11.8 0 0 1 12.2 434.9 V236.4 A11.8 11.8 0 0 1 24 224.6 Z" fill="#027402"/>
<circle cx="26.1" cy="238.4" r="12" fill="#b9ad85"/>
<circle cx="26.1" cy="238.4" r="5.4" fill="#ffffff"/>
<circle cx="256.4" cy="238.5" r="12" fill="#b9ad85"/>
<circle cx="256.4" cy="238.5" r="5.4" fill="#ffffff"/>
<circle cx="26.1" cy="433" r="12" fill="#b9ad85"/>
<circle cx="26.1" cy="433" r="5.4" fill="#ffffff"/>
<circle cx="256.3" cy="433" r="12" fill="#b9ad85"/>
<circle cx="256.3" cy="433" r="5.4" fill="#ffffff"/>
<path d="M 40.9 229 Q 40.9 227.35 42.9 227.35 L 48.84 227.35 L 50.44 229.1 L 52.04 227.35 L 58.93 227.35 L 60.53 229.1 L 62.13 227.35 L 69.01 227.35 L 70.61 229.1 L 72.21 227.35 L 79.1 227.35 L 80.7 229.1 L 82.3 227.35 L 89.18 227.35 L 90.78 229.1 L 92.38 227.35 L 99.27 227.35 L 100.87 229.1 L 102.47 227.35 L 109.35 227.35 L 110.95 229.1 L 112.55 227.35 L 119.44 227.35 L 121.04 229.1 L 122.64 227.35 L 129.52 227.35 L 131.12 229.1 L 132.72 227.35 L 139.61 227.35 L 141.21 229.1 L 142.81 227.35 L 149.69 227.35 L 151.29 229.1 L 152.89 227.35 L 159.78 227.35 L 161.38 229.1 L 162.98 227.35 L 169.86 227.35 L 171.46 229.1 L 173.06 227.35 L 179.95 227.35 L 181.55 229.1 L 183.15 227.35 L 190.03 227.35 L 191.63 229.1 L 193.23 227.35 L 200.12 227.35 L 201.72 229.1 L 203.32 227.35 L 210.2 227.35 L 211.8 229.1 L 213.4 227.35 L 220.29 227.35 L 221.89 229.1 L 223.49 227.35 L 230.37 227.35 L 231.97 229.1 L 233.57 227.35 L 239.8 227.35 Q 241.8 227.35 241.8 229 L 241.8 244.25 Q 241.8 246.25 239.8 246.25 L 233.57 246.25 L 231.97 244.45 L 230.37 246.25 L 223.49 246.25 L 221.89 244.45 L 220.29 246.25 L 213.4 246.25 L 211.8 244.45 L 210.2 246.25 L 203.32 246.25 L 201.72 244.45 L 200.12 246.25 L 193.23 246.25 L 191.63 244.45 L 190.03 246.25 L 183.15 246.25 L 181.55 244.45 L 179.95 246.25 L 173.06 246.25 L 171.46 244.45 L 169.86 246.25 L 162.98 246.25 L 161.38 244.45 L 159.78 246.25 L 152.89 246.25 L 151.29 244.45 L 149.69 246.25 L 142.81 246.25 L 141.21 244.45 L 139.61 246.25 L 132.72 246.25 L 131.12 244.45 L 129.52 246.25 L 122.64 246.25 L 121.04 244.45 L 119.44 246.25 L 112.55 246.25 L 110.95 244.45 L 109.35 246.25 L 102.47 246.25 L 100.87 244.45 L 99.27 246.25 L 92.38 246.25 L 90.78 244.45 L 89.18 246.25 L 82.3 246.25 L 80.7 244.45 L 79.1 246.25 L 72.21 246.25 L 70.61 244.45 L 69.01 246.25 L 62.13 246.25 L 60.53 244.45 L 58.93 246.25 L 52.04 246.25 L 50.44 244.45 L 48.84 246.25 L 42.9 246.25 Q 40.9 246.25 40.9 244.25 Z" fill="#474747"/>
<defs><linearGradient id="pr1" x1="0" y1="0" x2="1" y2="1"><stop offset="0" stop-color="#dc8e6c"/><stop offset="1" stop-color="#a84432"/></linearGradient><linearGradient id="pg1" x1="0" y1="0" x2="1" y2="1"><stop offset="0" stop-color="#a4d486"/><stop offset="1" stop-color="#4c9a4a"/></linearGradient><filter id="pb" x="-50%" y="-50%" width="200%" height="200%"><feGaussianBlur stdDeviation="0.35"/></filter></defs>
<circle cx="45.4" cy="231.85" r="3.1" fill="#ae2424" filter="url(#pb)"/>
<rect x="43.8" y="230.25" width="3.2" height="3.2" fill="url(#pr1)"/>
<circle cx="45.4" cy="241.95" r="3.1" fill="#3a9a3a" filter="url(#pb)"/>
<rect x="43.8" y="240.35" width="3.2" height="3.2" fill="url(#pg1)"/>
<circle cx="55.48" cy="231.85" r="3.1" fill="#ae2424" filter="url(#pb)"/>
<rect x="53.88" y="230.25" width="3.2" height="3.2" fill="url(#pr1)"/>
<circle cx="55.48" cy="241.95" r="3.1" fill="#ae2424" filter="url(#pb)"/>
<rect x="53.88" y="240.35" width="3.2" height="3.2" fill="url(#pr1)"/>
<circle cx="65.57" cy="231.85" r="3.1" fill="#3a9a3a" filter="url(#pb)"/>
<rect x="63.97" y="230.25" width="3.2" height="3.2" fill="url(#pg1)"/>
<circle cx="65.57" cy="241.95" r="3.1" fill="#ae2424" filter="url(#pb)"/>
<rect x="63.97" y="240.35" width="3.2" height="3.2" fill="url(#pr1)"/>
<circle cx="75.66" cy="231.85" r="3.1" fill="#ae2424" filter="url(#pb)"/>
<rect x="74.06" y="230.25" width="3.2" height="3.2" fill="url(#pr1)"/>
<circle cx="75.66" cy="241.95" r="3.1" fill="#ae2424" filter="url(#pb)"/>
<rect x="74.06" y="240.35" width="3.2" height="3.2" fill="url(#pr1)"/>
<circle cx="85.74" cy="231.85" r="3.1" fill="#ae2424" filter="url(#pb)"/>
<rect x="84.14" y="230.25" width="3.2" height="3.2" fill="url(#pr1)"/>
<circle cx="85.74" cy="241.95" r="3.1" fill="#3a9a3a" filter="url(#pb)"/>
<rect x="84.14" y="240.35" width="3.2" height="3.2" fill="url(#pg1)"/>
<circle cx="95.83" cy="231.85" r="3.1" fill="#ae2424" filter="url(#pb)"/>
<rect x="94.23" y="230.25" width="3.2" height="3.2" fill="url(#pr1)"/>
<circle cx="95.83" cy="241.95" r="3.1" fill="#ae2424" filter="url(#pb)"/>
<rect x="94.23" y="240.35" width="3.2" height="3.2" fill="url(#pr1)"/>
<circle cx="105.91" cy="231.85" r="3.1" fill="#3a9a3a" filter="url(#pb)"/>
<rect x="104.31" y="230.25" width="3.2" height="3.2" fill="url(#pg1)"/>
<circle cx="105.91" cy="241.95" r="3.1" fill="#ae2424" filter="url(#pb)"/>
<rect x="104.31" y="240.35" width="3.2" height="3.2" fill="url(#pr1)"/>
<circle cx="116" cy="231.85" r="3.1" fill="#ae2424" filter="url(#pb)"/>
<rect x="114.4" y="230.25" width="3.2" height="3.2" fill="url(#pr1)"/>
<circle cx="116" cy="241.95" r="3.1" fill="#ae2424" filter="url(#pb)"/>
<rect x="114.4" y="240.35" width="3.2" height="3.2" fill="url(#pr1)"/>
<circle cx="126.08" cy="231.85" r="3.1" fill="#ae2424" filter="url(#pb)"/>
<rect x="124.48" y="230.25" width="3.2" height="3.2" fill="url(#pr1)"/>
<circle cx="126.08" cy="241.95" r="3.1" fill="#3a9a3a" filter="url(#pb)"/>
<rect x="124.48" y="240.35" width="3.2" height="3.2" fill="url(#pg1)"/>
<circle cx="136.17" cy="231.85" r="3.1" fill="#3a9a3a" filter="url(#pb)"/>
<rect x="134.57" y="230.25" width="3.2" height="3.2" fill="url(#pg1)"/>
<circle cx="136.17" cy="241.95" r="3.1" fill="#3a9a3a" filter="url(#pb)"/>
<rect x="134.57" y="240.35" width="3.2" height="3.2" fill="url(#pg1)"/>
<circle cx="146.25" cy="231.85" r="3.1" fill="#ae2424" filter="url(#pb)"/>
<rect x="144.65" y="230.25" width="3.2" height="3.2" fill="url(#pr1)"/>
<circle cx="146.25" cy="241.95" r="3.1" fill="#3a9a3a" filter="url(#pb)"/>
<rect x="144.65" y="240.35" width="3.2" height="3.2" fill="url(#pg1)"/>
<circle cx="156.34" cy="231.85" r="3.1" fill="#3a9a3a" filter="url(#pb)"/>
<rect x="154.74" y="230.25" width="3.2" height="3.2" fill="url(#pg1)"/>
<circle cx="156.34" cy="241.95" r="3.1" fill="#3a9a3a" filter="url(#pb)"/>
<rect x="154.74" y="240.35" width="3.2" height="3.2" fill="url(#pg1)"/>
<circle cx="166.42" cy="231.85" r="3.1" fill="#ae2424" filter="url(#pb)"/>
<rect x="164.82" y="230.25" width="3.2" height="3.2" fill="url(#pr1)"/>
<circle cx="166.42" cy="241.95" r="3.1" fill="#3a9a3a" filter="url(#pb)"/>
<rect x="164.82" y="240.35" width="3.2" height="3.2" fill="url(#pg1)"/>
<circle cx="176.51" cy="231.85" r="3.1" fill="#ae2424" filter="url(#pb)"/>
<rect x="174.91" y="230.25" width="3.2" height="3.2" fill="url(#pr1)"/>
<circle cx="176.51" cy="241.95" r="3.1" fill="#ae2424" filter="url(#pb)"/>
<rect x="174.91" y="240.35" width="3.2" height="3.2" fill="url(#pr1)"/>
<circle cx="186.59" cy="231.85" r="3.1" fill="#3a9a3a" filter="url(#pb)"/>
<rect x="184.99" y="230.25" width="3.2" height="3.2" fill="url(#pg1)"/>
<circle cx="186.59" cy="241.95" r="3.1" fill="#ae2424" filter="url(#pb)"/>
<rect x="184.99" y="240.35" width="3.2" height="3.2" fill="url(#pr1)"/>
<circle cx="196.68" cy="231.85" r="3.1" fill="#ae2424" filter="url(#pb)"/>
<rect x="195.08" y="230.25" width="3.2" height="3.2" fill="url(#pr1)"/>
<circle cx="196.68" cy="241.95" r="3.1" fill="#ae2424" filter="url(#pb)"/>
<rect x="195.08" y="240.35" width="3.2" height="3.2" fill="url(#pr1)"/>
<circle cx="206.76" cy="231.85" r="3.1" fill="#3a9a3a" filter="url(#pb)"/>
<rect x="205.16" y="230.25" width="3.2" height="3.2" fill="url(#pg1)"/>
<circle cx="206.76" cy="241.95" r="3.1" fill="#ae2424" filter="url(#pb)"/>
<rect x="205.16" y="240.35" width="3.2" height="3.2" fill="url(#pr1)"/>
<circle cx="216.85" cy="231.85" r="3.1" fill="#ae2424" filter="url(#pb)"/>
<rect x="215.25" y="230.25" width="3.2" height="3.2" fill="url(#pr1)"/>
<circle cx="216.85" cy="241.95" r="3.1" fill="#ae2424" filter="url(#pb)"/>
<rect x="215.25" y="240.35" width="3.2" height="3.2" fill="url(#pr1)"/>
<circle cx="226.93" cy="231.85" r="3.1" fill="#ae2424" filter="url(#pb)"/>
<rect x="225.33" y="230.25" width="3.2" height="3.2" fill="url(#pr1)"/>
<circle cx="226.93" cy="241.95" r="3.1" fill="#ae2424" filter="url(#pb)"/>
<rect x="225.33" y="240.35" width="3.2" height="3.2" fill="url(#pr1)"/>
<circle cx="237.02" cy="231.85" r="3.1" fill="#ae2424" filter="url(#pb)"/>
<rect x="235.42" y="230.25" width="3.2" height="3.2" fill="url(#pr1)"/>
<circle cx="237.02" cy="241.95" r="3.1" fill="#3a9a3a" filter="url(#pb)"/>
<rect x="235.42" y="240.35" width="3.2" height="3.2" fill="url(#pg1)"/>
<rect x="72.5" y="249.2" width="15.3" height="6.2" fill="#a6d2a6" stroke="#f4fbf4" stroke-width="0.6"/>
<rect x="73.2" y="249.9" width="13.9" height="4.8" fill="none" stroke="#3a9a3a" stroke-width="0.4"/>
<text filter="url(#gs)" x="80.25" y="254.85" font-family="Liberation Sans, sans-serif" font-weight="bold" font-size="6.7" fill="#027402" text-anchor="middle" textLength="13.4" lengthAdjust="spacingAndGlyphs">GPIO</text>
<path d="M100.2 258.5 C103.2 257.3 109.6 257.3 112.6 258.5 C115.5 259.9 116.4 263 116 266.2 C115.7 269.2 114.6 271.6 112.6 273.3 C110.6 275.1 108.5 276.2 106.4 276.2 C104.3 276.2 102.2 275.1 100.2 273.3 C98.2 271.6 97.1 269.2 96.8 266.2 C96.4 263 97.3 259.9 100.2 258.5 Z" fill="#ffffff"/>
<g fill="#027402">
<ellipse cx="106.4" cy="260.1" rx="2.7" ry="1.45"/>
<circle cx="102.9" cy="264.4" r="2.35"/>
<circle cx="109.9" cy="264.4" r="2.35"/>
<ellipse cx="98.7" cy="265.4" rx="1.15" ry="2.6"/>
<ellipse cx="114.1" cy="265.4" rx="1.15" ry="2.6"/>
<ellipse cx="100.0" cy="260.6" rx="1.4" ry="0.9"/>
<ellipse cx="112.8" cy="260.6" rx="1.4" ry="0.9"/>
<circle cx="106.4" cy="269.1" r="2.35"/>
<circle cx="100.9" cy="270.3" r="2.0"/>
<circle cx="111.9" cy="270.3" r="2.0"/>
<ellipse cx="106.4" cy="274.2" rx="2.3" ry="1.2"/>
</g>
<g fill="none" stroke="#ffffff" stroke-width="0.9" stroke-linejoin="round"><path d="M106.1 258.2 C105.6 253.8 102.4 251 97.5 251.9 C97.1 256 101.2 258.4 106.1 258.2 Z"/><path d="M106.7 258.2 C107.2 253.8 110.4 251 115.3 251.9 C115.7 256 111.6 258.4 106.7 258.2 Z"/><path d="M99.4 253.6 Q102.5 254.6 104.6 257 M113.4 253.6 Q110.3 254.6 108.2 257" stroke-width="0.5"/></g>
<ellipse cx="106.4" cy="257.9" rx="1.8" ry="1.0" fill="#ffffff"/>
<text filter="url(#gs)" x="156.5" y="259.3" font-family="Liberation Sans, sans-serif" fill="#ffffff" font-size="6.0" text-anchor="middle" textLength="73.5" lengthAdjust="spacingAndGlyphs">Raspberry Pi 3 Model B v1.2</text>
<text filter="url(#gs)" x="154.8" y="265.9" font-family="Liberation Sans, sans-serif" fill="#ffffff" font-size="6.0" text-anchor="middle" textLength="54.2" lengthAdjust="spacingAndGlyphs">© Raspberry Pi 2015</text>
<path d="M95.5 285.2 H153.8 V346.8 H90.8 V291.2 Z" fill="#1e1e1e"/>
<rect x="242.1" y="292.5" width="36.7" height="36.9" fill="#1e1e1e"/>
<rect x="22.3" y="289.6" width="10.9" height="91.3" fill="#ffffff"/>
<rect x="17.3" y="306.1" width="5.2" height="2.4" fill="#a8a3a8"/>
<rect x="34.8" y="306.1" width="4.0" height="2.4" fill="#a8a3a8"/>
<rect x="17.3" y="310.3" width="5.2" height="2.4" fill="#a8a3a8"/>
<rect x="34.8" y="310.3" width="4.0" height="2.4" fill="#a8a3a8"/>
<rect x="17.3" y="314.5" width="5.2" height="2.4" fill="#a8a3a8"/>
<rect x="34.8" y="314.5" width="4.0" height="2.4" fill="#a8a3a8"/>
<rect x="17.3" y="318.7" width="5.2" height="2.4" fill="#a8a3a8"/>
<rect x="34.8" y="318.7" width="4.0" height="2.4" fill="#a8a3a8"/>
<rect x="17.3" y="322.9" width="5.2" height="2.4" fill="#a8a3a8"/>
<rect x="34.8" y="322.9" width="4.0" height="2.4" fill="#a8a3a8"/>
<rect x="17.3" y="327.1" width="5.2" height="2.4" fill="#a8a3a8"/>
<rect x="34.8" y="327.1" width="4.0" height="2.4" fill="#a8a3a8"/>
<rect x="17.3" y="331.3" width="5.2" height="2.4" fill="#a8a3a8"/>
<rect x="34.8" y="331.3" width="4.0" height="2.4" fill="#a8a3a8"/>
<rect x="17.3" y="335.5" width="5.2" height="2.4" fill="#a8a3a8"/>
<rect x="34.8" y="335.5" width="4.0" height="2.4" fill="#a8a3a8"/>
<rect x="17.3" y="339.7" width="5.2" height="2.4" fill="#a8a3a8"/>
<rect x="34.8" y="339.7" width="4.0" height="2.4" fill="#a8a3a8"/>
<rect x="17.3" y="343.9" width="5.2" height="2.4" fill="#a8a3a8"/>
<rect x="34.8" y="343.9" width="4.0" height="2.4" fill="#a8a3a8"/>
<rect x="17.3" y="348.1" width="5.2" height="2.4" fill="#a8a3a8"/>
<rect x="34.8" y="348.1" width="4.0" height="2.4" fill="#a8a3a8"/>
<rect x="17.3" y="352.3" width="5.2" height="2.4" fill="#a8a3a8"/>
<rect x="34.8" y="352.3" width="4.0" height="2.4" fill="#a8a3a8"/>
<rect x="17.3" y="356.5" width="5.2" height="2.4" fill="#a8a3a8"/>
<rect x="34.8" y="356.5" width="4.0" height="2.4" fill="#a8a3a8"/>
<rect x="17.3" y="360.7" width="5.2" height="2.4" fill="#a8a3a8"/>
<rect x="34.8" y="360.7" width="4.0" height="2.4" fill="#a8a3a8"/>
<rect x="17.3" y="364.9" width="5.2" height="2.4" fill="#a8a3a8"/>
<rect x="34.8" y="364.9" width="4.0" height="2.4" fill="#a8a3a8"/>
<path d="M22.4 309.9 L17.6 314 V357.2 L22.4 361.3 H28.1 V309.9 Z" fill="#ffffff"/>
<rect x="28.1" y="305.2" width="7" height="60.8" fill="#000000"/>
<rect x="22.3" y="369.9" width="10.9" height="0.5" fill="#d4dcd4"/>
<text filter="url(#gs)" x="0" y="0" font-family="Liberation Mono, monospace" fill="#ffffff" font-size="6.8" textLength="54" lengthAdjust="spacingAndGlyphs" transform="translate(45.4 359.2) rotate(-90)">DSI (DISPLAY)</text>
<rect x="187.3" y="364.8" width="11.1" height="82" fill="#ffffff"/>
<rect x="180.8" y="380.1" width="5" height="2.4" fill="#a8a3a8"/>
<rect x="198.3" y="380.1" width="4.6" height="2.4" fill="#a8a3a8"/>
<rect x="180.8" y="384.3" width="5" height="2.4" fill="#a8a3a8"/>
<rect x="198.3" y="384.3" width="4.6" height="2.4" fill="#a8a3a8"/>
<rect x="180.8" y="388.5" width="5" height="2.4" fill="#a8a3a8"/>
<rect x="198.3" y="388.5" width="4.6" height="2.4" fill="#a8a3a8"/>
<rect x="180.8" y="392.7" width="5" height="2.4" fill="#a8a3a8"/>
<rect x="198.3" y="392.7" width="4.6" height="2.4" fill="#a8a3a8"/>
<rect x="180.8" y="396.9" width="5" height="2.4" fill="#a8a3a8"/>
<rect x="198.3" y="396.9" width="4.6" height="2.4" fill="#a8a3a8"/>
<rect x="180.8" y="401.1" width="5" height="2.4" fill="#a8a3a8"/>
<rect x="198.3" y="401.1" width="4.6" height="2.4" fill="#a8a3a8"/>
<rect x="180.8" y="405.3" width="5" height="2.4" fill="#a8a3a8"/>
<rect x="198.3" y="405.3" width="4.6" height="2.4" fill="#a8a3a8"/>
<rect x="180.8" y="409.5" width="5" height="2.4" fill="#a8a3a8"/>
<rect x="198.3" y="409.5" width="4.6" height="2.4" fill="#a8a3a8"/>
<rect x="180.8" y="413.7" width="5" height="2.4" fill="#a8a3a8"/>
<rect x="198.3" y="413.7" width="4.6" height="2.4" fill="#a8a3a8"/>
<rect x="180.8" y="417.9" width="5" height="2.4" fill="#a8a3a8"/>
<rect x="198.3" y="417.9" width="4.6" height="2.4" fill="#a8a3a8"/>
<rect x="180.8" y="422.1" width="5" height="2.4" fill="#a8a3a8"/>
<rect x="198.3" y="422.1" width="4.6" height="2.4" fill="#a8a3a8"/>
<rect x="180.8" y="426.3" width="5" height="2.4" fill="#a8a3a8"/>
<rect x="198.3" y="426.3" width="4.6" height="2.4" fill="#a8a3a8"/>
<rect x="180.8" y="430.5" width="5" height="2.4" fill="#a8a3a8"/>
<rect x="198.3" y="430.5" width="4.6" height="2.4" fill="#a8a3a8"/>
<rect x="180.8" y="434.7" width="5" height="2.4" fill="#a8a3a8"/>
<rect x="198.3" y="434.7" width="4.6" height="2.4" fill="#a8a3a8"/>
<rect x="180.8" y="438.9" width="5" height="2.4" fill="#a8a3a8"/>
<rect x="198.3" y="438.9" width="4.6" height="2.4" fill="#a8a3a8"/>
<path d="M192.2 383.2 H198.4 L202.9 387.2 V433 L198.4 437 H192.2 Z" fill="#ffffff"/>
<rect x="185.7" y="379.5" width="6.6" height="60.3" fill="#000000"/>
<text filter="url(#gs)" x="0" y="0" font-family="Liberation Mono, monospace" fill="#ffffff" font-size="6.8" textLength="48.9" lengthAdjust="spacingAndGlyphs" transform="translate(203.9 388.3) rotate(90)">CSI (CAMERA)</text>
<rect x="316.9" y="236" width="3.8" height="48.6" fill="#a9a9a9"/>
<rect x="307.1" y="238.8" width="45.2" height="43" fill="#b6b6b6"/>
<path d="M352.8 238.8 V281.8" stroke="#d4d4d4" stroke-width="0.9"/>
<path d="M352.4 239.1 L354.6 237.6 M352.4 281.5 L354.6 283" stroke="#9a9a9a" stroke-width="0.8"/>
<path d="M307.1 247.6 a1.2 1.2 0 0 0 0 2.4" fill="#8a8a8a"/>
<path d="M307.1 255.8 a1.2 1.2 0 0 0 0 2.4" fill="#8a8a8a"/>
<path d="M307.1 262.4 a1.2 1.2 0 0 0 0 2.4" fill="#8a8a8a"/>
<path d="M307.1 270.6 a1.2 1.2 0 0 0 0 2.4" fill="#8a8a8a"/>
<path d="M324.8 243.8 L348.6 246.7 L348.6 251.8 L324.8 254.7 Z" fill="#c2c2c2"/>
<path d="M324.8 243.8 L348.6 246.7 L348.6 251.8 L324.8 254.7" fill="none" stroke="#292929" stroke-width="2.0" stroke-linejoin="round" stroke-linecap="round"/>
<rect x="346.1" y="246.1" width="3.6" height="6.3" rx="0.6" fill="#262626"/>
<rect x="343.4" y="247.3" width="2.5" height="3.9" fill="#b4b4b4" stroke="#9a9a9a" stroke-width="0.4"/>
<path d="M324.8 265.3 L348.6 268.2 L348.6 273.3 L324.8 276.2 Z" fill="#c2c2c2"/>
<path d="M324.8 265.3 L348.6 268.2 L348.6 273.3 L324.8 276.2" fill="none" stroke="#292929" stroke-width="2.0" stroke-linejoin="round" stroke-linecap="round"/>
<rect x="346.1" y="267.6" width="3.6" height="6.3" rx="0.6" fill="#262626"/>
<rect x="343.4" y="268.8" width="2.5" height="3.9" fill="#b4b4b4" stroke="#9a9a9a" stroke-width="0.4"/>
<text filter="url(#gs)" x="0" y="0" font-family="Liberation Mono, monospace" fill="#ffffff" font-size="6.8" textLength="25" lengthAdjust="spacingAndGlyphs" transform="translate(301.5 272.8) rotate(-90)">USB 2x</text>
<rect x="316.9" y="306.5" width="3.8" height="48.6" fill="#a9a9a9"/>
<rect x="307.1" y="309.3" width="45.2" height="43" fill="#b6b6b6"/>
<path d="M352.8 309.3 V352.3" stroke="#d4d4d4" stroke-width="0.9"/>
<path d="M352.4 309.6 L354.6 308.1 M352.4 352 L354.6 353.5" stroke="#9a9a9a" stroke-width="0.8"/>
<path d="M307.1 318.1 a1.2 1.2 0 0 0 0 2.4" fill="#8a8a8a"/>
<path d="M307.1 326.3 a1.2 1.2 0 0 0 0 2.4" fill="#8a8a8a"/>
<path d="M307.1 332.9 a1.2 1.2 0 0 0 0 2.4" fill="#8a8a8a"/>
<path d="M307.1 341.1 a1.2 1.2 0 0 0 0 2.4" fill="#8a8a8a"/>
<path d="M324.8 314.3 L348.6 317.2 L348.6 322.3 L324.8 325.2 Z" fill="#c2c2c2"/>
<path d="M324.8 314.3 L348.6 317.2 L348.6 322.3 L324.8 325.2" fill="none" stroke="#292929" stroke-width="2.0" stroke-linejoin="round" stroke-linecap="round"/>
<rect x="346.1" y="316.6" width="3.6" height="6.3" rx="0.6" fill="#262626"/>
<rect x="343.4" y="317.8" width="2.5" height="3.9" fill="#b4b4b4" stroke="#9a9a9a" stroke-width="0.4"/>
<path d="M324.8 335.8 L348.6 338.7 L348.6 343.8 L324.8 346.7 Z" fill="#c2c2c2"/>
<path d="M324.8 335.8 L348.6 338.7 L348.6 343.8 L324.8 346.7" fill="none" stroke="#292929" stroke-width="2.0" stroke-linejoin="round" stroke-linecap="round"/>
<rect x="346.1" y="338.1" width="3.6" height="6.3" rx="0.6" fill="#262626"/>
<rect x="343.4" y="339.3" width="2.5" height="3.9" fill="#b4b4b4" stroke="#9a9a9a" stroke-width="0.4"/>
<text filter="url(#gs)" x="0" y="0" font-family="Liberation Mono, monospace" fill="#ffffff" font-size="6.8" textLength="25" lengthAdjust="spacingAndGlyphs" transform="translate(301.5 344.3) rotate(-90)">USB 2x</text>
<defs><linearGradient id="lt" x1="0" y1="0" x2="0" y2="1"><stop offset="0" stop-color="#7e7e7e"/><stop offset="0.3" stop-color="#d8d8d8"/><stop offset="0.55" stop-color="#e8e8e8"/><stop offset="0.8" stop-color="#c4c4c4"/><stop offset="1" stop-color="#5e5e5e"/></linearGradient></defs>
<path d="M341.2 379.8 Q341.6 378.3 343.4 378.3 H346.6 Q348.4 378.3 348.8 379.8" fill="none" stroke="#d6d6d6" stroke-width="0.7"/>
<path d="M341.2 430.7 Q341.6 432.2 343.4 432.2 H346.6 Q348.4 432.2 348.8 430.7" fill="none" stroke="#d6d6d6" stroke-width="0.7"/>
<rect x="284.8" y="379.7" width="71.2" height="51.1" fill="#cbcbcb"/>
<rect x="284.8" y="379.7" width="71.2" height="3.7" fill="#d5d5d5"/>
<rect x="284.8" y="427.3" width="71.2" height="3.5" fill="#b4b4b4"/>
<rect x="344" y="392.1" width="12.6" height="4.7" rx="1.6" fill="url(#lt)"/>
<rect x="341.9" y="392.1" width="2.3" height="4.7" rx="0.8" fill="#222222"/>
<rect x="344" y="412.7" width="12.6" height="4.7" rx="1.6" fill="url(#lt)"/>
<rect x="341.9" y="412.7" width="2.3" height="4.7" rx="0.8" fill="#222222"/>
<text filter="url(#gs)" x="0" y="0" font-family="Liberation Mono, monospace" fill="#ffffff" font-size="6.8" textLength="32.5" lengthAdjust="spacingAndGlyphs" transform="translate(280.9 422.5) rotate(-90)">ETHERNET</text>
<text filter="url(#gs)" x="216.9" y="394" font-family="Liberation Mono, monospace" fill="#ffffff" font-size="6.8" textLength="20.1" lengthAdjust="spacingAndGlyphs">Audio</text>
<path d="M214.6 397.9 H235.9 L237.9 400.8 V446.7 H212.6 V400.8 Z" fill="#c8c8c8"/>
<rect x="212.6" y="446.5" width="25.3" height="7.5" fill="#242424"/>
<rect x="219.5" y="446.5" width="11.5" height="7.5" fill="#2e2e2e"/>
<rect x="212.3" y="404.8" width="0.9" height="5.8" fill="#4a4a4a"/>
<rect x="237.3" y="404.8" width="0.9" height="5.8" fill="#4a4a4a"/>
<rect x="213.6" y="412.1" width="0.9" height="5" rx="0.4" fill="#575757"/>
<rect x="219.2" y="412.1" width="0.9" height="5" rx="0.4" fill="#575757"/>
<rect x="230.2" y="412.1" width="0.9" height="5" rx="0.4" fill="#575757"/>
<rect x="235.4" y="412.1" width="0.9" height="5" rx="0.4" fill="#575757"/>
<rect x="219.1" y="423.1" width="12" height="8.7" fill="#a2a2a2" stroke="#8c8c8c" stroke-width="0.5"/>
<rect x="223.7" y="432.9" width="2.3" height="2.8" fill="#8a8a8a"/>
<text filter="url(#gs)" x="130" y="401.8" font-family="Liberation Mono, monospace" fill="#ffffff" font-size="6.8" textLength="16.3" lengthAdjust="spacingAndGlyphs">HDMI</text>
<rect x="120.1" y="404.8" width="38" height="3.6" fill="#cfcfcf"/>
<rect x="121.2" y="404.8" width="0.6" height="3.6" fill="#9a9a9a"/>
<rect x="123.06" y="404.8" width="0.6" height="3.6" fill="#9a9a9a"/>
<rect x="124.92" y="404.8" width="0.6" height="3.6" fill="#9a9a9a"/>
<rect x="126.78" y="404.8" width="0.6" height="3.6" fill="#9a9a9a"/>
<rect x="128.64" y="404.8" width="0.6" height="3.6" fill="#9a9a9a"/>
<rect x="130.5" y="404.8" width="0.6" height="3.6" fill="#9a9a9a"/>
<rect x="132.36" y="404.8" width="0.6" height="3.6" fill="#9a9a9a"/>
<rect x="134.22" y="404.8" width="0.6" height="3.6" fill="#9a9a9a"/>
<rect x="136.08" y="404.8" width="0.6" height="3.6" fill="#9a9a9a"/>
<rect x="137.94" y="404.8" width="0.6" height="3.6" fill="#9a9a9a"/>
<rect x="139.8" y="404.8" width="0.6" height="3.6" fill="#9a9a9a"/>
<rect x="141.66" y="404.8" width="0.6" height="3.6" fill="#9a9a9a"/>
<rect x="143.52" y="404.8" width="0.6" height="3.6" fill="#9a9a9a"/>
<rect x="145.38" y="404.8" width="0.6" height="3.6" fill="#9a9a9a"/>
<rect x="147.24" y="404.8" width="0.6" height="3.6" fill="#9a9a9a"/>
<rect x="149.1" y="404.8" width="0.6" height="3.6" fill="#9a9a9a"/>
<rect x="150.96" y="404.8" width="0.6" height="3.6" fill="#9a9a9a"/>
<rect x="152.82" y="404.8" width="0.6" height="3.6" fill="#9a9a9a"/>
<rect x="154.68" y="404.8" width="0.6" height="3.6" fill="#9a9a9a"/>
<rect x="156.54" y="404.8" width="0.6" height="3.6" fill="#9a9a9a"/>
<path d="M107.3 409.8 Q107.3 408.2 108.9 408.2 H169.2 Q170.8 408.2 170.8 409.8 V454.3 H107.3 Z" fill="#b9b9b9"/>
<rect x="107.6" y="408.5" width="9.9" height="7.3" fill="#cfcfcf"/>
<rect x="160.6" y="408.5" width="9.9" height="7.3" fill="#cfcfcf"/>
<rect x="107.3" y="415.8" width="2.6" height="38.5" fill="#a6a6a6"/>
<rect x="168.2" y="415.8" width="2.6" height="38.5" fill="#a6a6a6"/>
<path d="M123.1 415.4 V410.2 H155.6 V415.4" fill="none" stroke="#a2a2a2" stroke-width="1.6"/>
<rect x="106.5" y="419.3" width="3.5" height="0.7" fill="#8a8a8a"/>
<rect x="168" y="419.3" width="3.5" height="0.7" fill="#8a8a8a"/>
<rect x="106.5" y="422.9" width="3.5" height="0.7" fill="#8a8a8a"/>
<rect x="168" y="422.9" width="3.5" height="0.7" fill="#8a8a8a"/>
<path d="M117.6 449.8 L120.6 427 H126.2 L129.2 449.8" fill="none" stroke="#2b2b2b" stroke-width="2.1" stroke-linejoin="round"/>
<path d="M133.2 423.4 L136.8 448.6 H143.2 L146.4 423.4" fill="none" stroke="#2b2b2b" stroke-width="2.1" stroke-linejoin="round"/>
<path d="M149.6 449.8 L152.6 427 H158.2 L161.4 449.8" fill="none" stroke="#2b2b2b" stroke-width="2.1" stroke-linejoin="round"/>
<rect x="120.2" y="425.5" width="6.4" height="3.6" fill="#2b2b2b"/>
<rect x="152.2" y="425.5" width="6.4" height="3.6" fill="#2b2b2b"/>
<rect x="136.4" y="447.3" width="7.2" height="3.2" fill="#2b2b2b"/>
<rect x="121.1" y="428.0" width="4.6" height="0.9" fill="#8c8c8c"/>
<rect x="153.1" y="428.0" width="4.6" height="0.9" fill="#8c8c8c"/>
<rect x="137.4" y="447.9" width="5.2" height="0.9" fill="#8c8c8c"/>
<text filter="url(#gs)" x="45.1" y="425.6" font-family="Liberation Mono, monospace" fill="#ffffff" font-size="6.8" textLength="19.8" lengthAdjust="spacingAndGlyphs">Power</text>
<rect x="48.4" y="429.2" width="1.3" height="1.8" fill="#5e5e5e"/>
<rect x="50.9" y="429.2" width="1.3" height="1.8" fill="#5e5e5e"/>
<rect x="53.4" y="429.2" width="1.3" height="1.8" fill="#5e5e5e"/>
<rect x="55.9" y="429.2" width="1.3" height="1.8" fill="#5e5e5e"/>
<rect x="58.4" y="429.2" width="1.3" height="1.8" fill="#5e5e5e"/>
<rect x="42.3" y="436.8" width="1.2" height="3.4" rx="0.5" fill="#9a9a9a"/>
<rect x="65.6" y="436.8" width="1.2" height="3.4" rx="0.5" fill="#9a9a9a"/>
<rect x="43" y="430.8" width="23.1" height="19.8" fill="#e3e3e3"/>
<rect x="43" y="430.8" width="23.1" height="1.4" fill="#d2d2d2"/>
<rect x="43" y="449.8" width="23.1" height="0.8" fill="#cccccc"/>
<path d="M48.2 438.4 V445.6" stroke="#acacac" stroke-width="1.7" stroke-linecap="round"/>
<circle cx="48.2" cy="445.9" r="1.25" fill="#8e8e8e"/>
<path d="M60.7 438.4 V445.6" stroke="#acacac" stroke-width="1.7" stroke-linecap="round"/>
<circle cx="60.7" cy="445.9" r="1.25" fill="#8e8e8e"/>
<path d="M42.6 451.2 L43.6 450.4 M66.5 451.2 L65.5 450.4" stroke="#b0b0b0" stroke-width="0.6"/>
<defs><mask id="nochip" maskUnits="userSpaceOnUse" x="0" y="0" width="656" height="480"><rect x="0" y="0" width="656" height="211.6" fill="#fff"/><rect x="101.2" y="95.9" width="80.4" height="19.7" fill="#000"/></mask></defs>
<circle cx="45.4" cy="241.95" r="3.4" fill="url(#gh)"/>
<circle cx="65.57" cy="231.85" r="3.4" fill="url(#gh)"/>
<circle cx="136.17" cy="241.95" r="3.4" fill="url(#gh)"/>
<circle cx="146.25" cy="241.95" r="3.4" fill="url(#gh)"/>
<circle cx="156.34" cy="241.95" r="3.4" fill="url(#gh)"/>
<circle cx="156.34" cy="231.85" r="3.4" fill="url(#gh)"/>
<path d="M35.37 19.97 L35.37 201.5" fill="none" stroke="#edf1f1" stroke-opacity="0.6" stroke-width="6.4" stroke-linejoin="round" stroke-linecap="round" mask="url(#nochip)"/>
<path d="M35.37 19.97 L35.37 201.5" fill="none" stroke="#8c0d0d" stroke-width="4.8" stroke-linejoin="round" stroke-linecap="round"/>
<path d="M35.37 19.97 L35.37 201.5" fill="none" stroke="#cc1111" stroke-width="3.3" stroke-linejoin="round" stroke-linecap="round"/>
<circle cx="35.37" cy="19.97" r="2.4" fill="#3a8a10" fill-opacity="0.32"/>
<circle cx="35.37" cy="19.97" r="2.95" fill="none" stroke="#62d862" stroke-opacity="0.9" stroke-width="0.9"/>
<circle cx="35.37" cy="201.5" r="2.4" fill="#3a8a10" fill-opacity="0.32"/>
<circle cx="35.37" cy="201.5" r="2.95" fill="none" stroke="#62d862" stroke-opacity="0.9" stroke-width="0.9"/>
<path d="M55.54 9.88 L55.54 191.41" fill="none" stroke="#edf1f1" stroke-opacity="0.6" stroke-width="6.4" stroke-linejoin="round" stroke-linecap="round" mask="url(#nochip)"/>
<path d="M55.54 9.88 L55.54 191.41" fill="none" stroke="#171717" stroke-width="4.8" stroke-linejoin="round" stroke-linecap="round"/>
<path d="M55.54 9.88 L55.54 191.41" fill="none" stroke="#3b3b3b" stroke-width="2.4" stroke-linejoin="round" stroke-linecap="round"/>
<circle cx="55.54" cy="9.88" r="2.4" fill="#1f8a1f" fill-opacity="0.42"/>
<circle cx="55.54" cy="9.88" r="2.95" fill="none" stroke="#62d862" stroke-opacity="0.9" stroke-width="0.9"/>
<circle cx="55.54" cy="191.41" r="2.4" fill="#1f8a1f" fill-opacity="0.42"/>
<circle cx="55.54" cy="191.41" r="2.95" fill="none" stroke="#62d862" stroke-opacity="0.9" stroke-width="0.9"/>
<path d="M45.45 201.5 L45.4 241.95" fill="none" stroke="#edf1f1" stroke-opacity="0.6" stroke-width="6.4" stroke-linejoin="round" stroke-linecap="round" mask="url(#nochip)"/>
<path d="M45.45 201.5 L45.4 241.95" fill="none" stroke="#8c0d0d" stroke-width="4.8" stroke-linejoin="round" stroke-linecap="round"/>
<path d="M45.45 201.5 L45.4 241.95" fill="none" stroke="#cc1111" stroke-width="3.3" stroke-linejoin="round" stroke-linecap="round"/>
<circle cx="45.45" cy="201.5" r="2.4" fill="#3a8a10" fill-opacity="0.32"/>
<circle cx="45.45" cy="201.5" r="2.95" fill="none" stroke="#62d862" stroke-opacity="0.9" stroke-width="0.9"/>
<circle cx="45.4" cy="241.95" r="2.4" fill="#3a8a10" fill-opacity="0.32"/>
<circle cx="45.4" cy="241.95" r="2.95" fill="none" stroke="#62d862" stroke-opacity="0.9" stroke-width="0.9"/>
<path d="M65.62 191.41 L65.57 231.85" fill="none" stroke="#edf1f1" stroke-opacity="0.6" stroke-width="6.4" stroke-linejoin="round" stroke-linecap="round" mask="url(#nochip)"/>
<path d="M65.62 191.41 L65.57 231.85" fill="none" stroke="#171717" stroke-width="4.8" stroke-linejoin="round" stroke-linecap="round"/>
<path d="M65.62 191.41 L65.57 231.85" fill="none" stroke="#3b3b3b" stroke-width="2.4" stroke-linejoin="round" stroke-linecap="round"/>
<circle cx="65.62" cy="191.41" r="2.4" fill="#1f8a1f" fill-opacity="0.42"/>
<circle cx="65.62" cy="191.41" r="2.95" fill="none" stroke="#62d862" stroke-opacity="0.9" stroke-width="0.9"/>
<circle cx="65.57" cy="231.85" r="2.4" fill="#1f8a1f" fill-opacity="0.42"/>
<circle cx="65.57" cy="231.85" r="2.95" fill="none" stroke="#62d862" stroke-opacity="0.9" stroke-width="0.9"/>
<path d="M105.97 19.97 L105.97 50.22" fill="none" stroke="#edf1f1" stroke-opacity="0.6" stroke-width="6.4" stroke-linejoin="round" stroke-linecap="round" mask="url(#nochip)"/>
<path d="M105.97 19.97 L105.97 50.22" fill="none" stroke="#8c0d0d" stroke-width="4.8" stroke-linejoin="round" stroke-linecap="round"/>
<path d="M105.97 19.97 L105.97 50.22" fill="none" stroke="#cc1111" stroke-width="3.3" stroke-linejoin="round" stroke-linecap="round"/>
<circle cx="105.97" cy="19.97" r="2.4" fill="#3a8a10" fill-opacity="0.32"/>
<circle cx="105.97" cy="19.97" r="2.95" fill="none" stroke="#62d862" stroke-opacity="0.9" stroke-width="0.9"/>
<circle cx="105.97" cy="50.22" r="2.4" fill="#3a8a10" fill-opacity="0.32"/>
<circle cx="105.97" cy="50.22" r="2.95" fill="none" stroke="#62d862" stroke-opacity="0.9" stroke-width="0.9"/>
<path d="M126.14 9.88 L126.14 50.22" fill="none" stroke="#edf1f1" stroke-opacity="0.6" stroke-width="6.4" stroke-linejoin="round" stroke-linecap="round" mask="url(#nochip)"/>
<path d="M126.14 9.88 L126.14 50.22" fill="none" stroke="#171717" stroke-width="4.8" stroke-linejoin="round" stroke-linecap="round"/>
<path d="M126.14 9.88 L126.14 50.22" fill="none" stroke="#3b3b3b" stroke-width="2.4" stroke-linejoin="round" stroke-linecap="round"/>
<circle cx="126.14" cy="9.88" r="2.4" fill="#1f8a1f" fill-opacity="0.42"/>
<circle cx="126.14" cy="9.88" r="2.95" fill="none" stroke="#62d862" stroke-opacity="0.9" stroke-width="0.9"/>
<circle cx="126.14" cy="50.22" r="2.4" fill="#1f8a1f" fill-opacity="0.42"/>
<circle cx="126.14" cy="50.22" r="2.95" fill="none" stroke="#62d862" stroke-opacity="0.9" stroke-width="0.9"/>
<path d="M176.56 9.88 L176.56 50.22" fill="none" stroke="#edf1f1" stroke-opacity="0.6" stroke-width="6.4" stroke-linejoin="round" stroke-linecap="round" mask="url(#nochip)"/>
<path d="M176.56 9.88 L176.56 50.22" fill="none" stroke="#171717" stroke-width="4.8" stroke-linejoin="round" stroke-linecap="round"/>
<path d="M176.56 9.88 L176.56 50.22" fill="none" stroke="#3b3b3b" stroke-width="2.4" stroke-linejoin="round" stroke-linecap="round"/>
<circle cx="176.56" cy="9.88" r="2.4" fill="#1f8a1f" fill-opacity="0.42"/>
<circle cx="176.56" cy="9.88" r="2.95" fill="none" stroke="#62d862" stroke-opacity="0.9" stroke-width="0.9"/>
<circle cx="176.56" cy="50.22" r="2.4" fill="#1f8a1f" fill-opacity="0.42"/>
<circle cx="176.56" cy="50.22" r="2.95" fill="none" stroke="#62d862" stroke-opacity="0.9" stroke-width="0.9"/>
<path d="M105.97 60.31 L116.05 60.31" fill="none" stroke="#edf1f1" stroke-opacity="0.6" stroke-width="6.4" stroke-linejoin="round" stroke-linecap="round" mask="url(#nochip)"/>
<path d="M105.97 60.31 L116.05 60.31" fill="none" stroke="#8c0d0d" stroke-width="4.8" stroke-linejoin="round" stroke-linecap="round"/>
<path d="M105.97 60.31 L116.05 60.31" fill="none" stroke="#cc1111" stroke-width="3.3" stroke-linejoin="round" stroke-linecap="round"/>
<circle cx="105.97" cy="60.31" r="2.4" fill="#3a8a10" fill-opacity="0.32"/>
<circle cx="105.97" cy="60.31" r="2.95" fill="none" stroke="#62d862" stroke-opacity="0.9" stroke-width="0.9"/>
<circle cx="116.05" cy="60.31" r="2.4" fill="#3a8a10" fill-opacity="0.32"/>
<circle cx="116.05" cy="60.31" r="2.95" fill="none" stroke="#62d862" stroke-opacity="0.9" stroke-width="0.9"/>
<path d="M216.9 161.16 L216.9 191.41" fill="none" stroke="#edf1f1" stroke-opacity="0.6" stroke-width="6.4" stroke-linejoin="round" stroke-linecap="round" mask="url(#nochip)"/>
<path d="M216.9 161.16 L216.9 191.41" fill="none" stroke="#171717" stroke-width="4.8" stroke-linejoin="round" stroke-linecap="round"/>
<path d="M216.9 161.16 L216.9 191.41" fill="none" stroke="#3b3b3b" stroke-width="2.4" stroke-linejoin="round" stroke-linecap="round"/>
<circle cx="216.9" cy="161.16" r="2.4" fill="#1f8a1f" fill-opacity="0.42"/>
<circle cx="216.9" cy="161.16" r="2.95" fill="none" stroke="#62d862" stroke-opacity="0.9" stroke-width="0.9"/>
<circle cx="216.9" cy="191.41" r="2.4" fill="#1f8a1f" fill-opacity="0.42"/>
<circle cx="216.9" cy="191.41" r="2.95" fill="none" stroke="#62d862" stroke-opacity="0.9" stroke-width="0.9"/>
<path d="M237.07 161.16 L237.07 201.5" fill="none" stroke="#edf1f1" stroke-opacity="0.6" stroke-width="6.4" stroke-linejoin="round" stroke-linecap="round" mask="url(#nochip)"/>
<path d="M237.07 161.16 L237.07 201.5" fill="none" stroke="#8c0d0d" stroke-width="4.8" stroke-linejoin="round" stroke-linecap="round"/>
<path d="M237.07 161.16 L237.07 201.5" fill="none" stroke="#cc1111" stroke-width="3.3" stroke-linejoin="round" stroke-linecap="round"/>
<circle cx="237.07" cy="161.16" r="2.4" fill="#3a8a10" fill-opacity="0.32"/>
<circle cx="237.07" cy="161.16" r="2.95" fill="none" stroke="#62d862" stroke-opacity="0.9" stroke-width="0.9"/>
<circle cx="237.07" cy="201.5" r="2.4" fill="#3a8a10" fill-opacity="0.32"/>
<circle cx="237.07" cy="201.5" r="2.95" fill="none" stroke="#62d862" stroke-opacity="0.9" stroke-width="0.9"/>
<path d="M156.39 70.39 L75.9 70.39 L75.9 181.2 L136.17 181.2 L136.17 241.95" fill="none" stroke="#edf1f1" stroke-opacity="0.6" stroke-width="6" stroke-linejoin="round" stroke-linecap="round" mask="url(#nochip)"/>
<path d="M156.39 70.39 L75.9 70.39 L75.9 181.2 L136.17 181.2 L136.17 241.95" fill="none" stroke="#b65a1c" stroke-width="4.4" stroke-linejoin="round" stroke-linecap="round"/>
<path d="M156.39 70.39 L75.9 70.39 L75.9 181.2 L136.17 181.2 L136.17 241.95" fill="none" stroke="#f06700" stroke-width="2.9" stroke-linejoin="round" stroke-linecap="round"/>
<rect x="73.7" y="68.19" width="4.4" height="4.4" rx="0.8" fill="#b2703c"/>
<rect x="73.7" y="179" width="4.4" height="4.4" rx="0.8" fill="#b2703c"/>
<rect x="133.97" y="179" width="4.4" height="4.4" rx="0.8" fill="#b2703c"/>
<circle cx="156.39" cy="70.39" r="2.4" fill="#64c81e" fill-opacity="0.27" stroke="#2e7a10" stroke-opacity="0.25" stroke-width="0.5"/>
<circle cx="156.39" cy="70.39" r="2.95" fill="none" stroke="#62d862" stroke-opacity="0.9" stroke-width="0.9"/>
<circle cx="136.17" cy="241.95" r="2.4" fill="#64c81e" fill-opacity="0.27" stroke="#2e7a10" stroke-opacity="0.25" stroke-width="0.5"/>
<circle cx="136.17" cy="241.95" r="2.95" fill="none" stroke="#62d862" stroke-opacity="0.9" stroke-width="0.9"/>
<path d="M146.31 80.47 L85.6 80.47 L85.6 170.8 L146.25 170.8 L146.25 241.95" fill="none" stroke="#edf1f1" stroke-opacity="0.6" stroke-width="6" stroke-linejoin="round" stroke-linecap="round" mask="url(#nochip)"/>
<path d="M146.31 80.47 L85.6 80.47 L85.6 170.8 L146.25 170.8 L146.25 241.95" fill="none" stroke="#b65a1c" stroke-width="4.4" stroke-linejoin="round" stroke-linecap="round"/>
<path d="M146.31 80.47 L85.6 80.47 L85.6 170.8 L146.25 170.8 L146.25 241.95" fill="none" stroke="#f06700" stroke-width="2.9" stroke-linejoin="round" stroke-linecap="round"/>
<rect x="83.4" y="78.27" width="4.4" height="4.4" rx="0.8" fill="#b2703c"/>
<rect x="83.4" y="168.6" width="4.4" height="4.4" rx="0.8" fill="#b2703c"/>
<rect x="144.05" y="168.6" width="4.4" height="4.4" rx="0.8" fill="#b2703c"/>
<circle cx="146.31" cy="80.47" r="2.4" fill="#64c81e" fill-opacity="0.27" stroke="#2e7a10" stroke-opacity="0.25" stroke-width="0.5"/>
<circle cx="146.31" cy="80.47" r="2.95" fill="none" stroke="#62d862" stroke-opacity="0.9" stroke-width="0.9"/>
<circle cx="146.25" cy="241.95" r="2.4" fill="#64c81e" fill-opacity="0.27" stroke="#2e7a10" stroke-opacity="0.25" stroke-width="0.5"/>
<circle cx="146.25" cy="241.95" r="2.95" fill="none" stroke="#62d862" stroke-opacity="0.9" stroke-width="0.9"/>
<path d="M136.22 60.31 L196.73 60.31 L196.73 181.2 L156.34 241.95" fill="none" stroke="#edf1f1" stroke-opacity="0.6" stroke-width="6" stroke-linejoin="round" stroke-linecap="round" mask="url(#nochip)"/>
<path d="M136.22 60.31 L196.73 60.31 L196.73 181.2 L156.34 241.95" fill="none" stroke="#b65a1c" stroke-width="4.4" stroke-linejoin="round" stroke-linecap="round"/>
<path d="M136.22 60.31 L196.73 60.31 L196.73 181.2 L156.34 241.95" fill="none" stroke="#f06700" stroke-width="2.9" stroke-linejoin="round" stroke-linecap="round"/>
<rect x="194.53" y="58.11" width="4.4" height="4.4" rx="0.8" fill="#b2703c"/>
<rect x="194.53" y="179" width="4.4" height="4.4" rx="0.8" fill="#b2703c"/>
<circle cx="136.22" cy="60.31" r="2.4" fill="#64c81e" fill-opacity="0.27" stroke="#2e7a10" stroke-opacity="0.25" stroke-width="0.5"/>
<circle cx="136.22" cy="60.31" r="2.95" fill="none" stroke="#62d862" stroke-opacity="0.9" stroke-width="0.9"/>
<circle cx="156.34" cy="241.95" r="2.4" fill="#64c81e" fill-opacity="0.27" stroke="#2e7a10" stroke-opacity="0.25" stroke-width="0.5"/>
<circle cx="156.34" cy="241.95" r="2.95" fill="none" stroke="#62d862" stroke-opacity="0.9" stroke-width="0.9"/>
<path d="M166.47 80.47 L166.6 181.1 L156.34 231.85" fill="none" stroke="#edf1f1" stroke-opacity="0.6" stroke-width="6.4" stroke-linejoin="round" stroke-linecap="round" mask="url(#nochip)"/>
<path d="M166.47 80.47 L166.6 181.1 L156.34 231.85" fill="none" stroke="#17a426" stroke-width="4.8" stroke-linejoin="round" stroke-linecap="round"/>
<path d="M166.47 80.47 L166.6 181.1 L156.34 231.85" fill="none" stroke="#24cb34" stroke-width="3.3" stroke-linejoin="round" stroke-linecap="round"/>
<rect x="164.2" y="178.7" width="4.8" height="4.8" rx="0.8" fill="#10a222"/>
<circle cx="166.47" cy="80.47" r="2.4" fill="#64c81e" fill-opacity="0.27" stroke="#2e7a10" stroke-opacity="0.25" stroke-width="0.5"/>
<circle cx="166.47" cy="80.47" r="2.95" fill="none" stroke="#62d862" stroke-opacity="0.9" stroke-width="0.9"/>
<circle cx="156.34" cy="231.85" r="2.4" fill="#64c81e" fill-opacity="0.27" stroke="#2e7a10" stroke-opacity="0.25" stroke-width="0.5"/>
<circle cx="156.34" cy="231.85" r="2.95" fill="none" stroke="#62d862" stroke-opacity="0.9" stroke-width="0.9"/>
<path d="M105.97 140.99 L226.99 140.99" fill="none" stroke="#edf1f1" stroke-opacity="0.6" stroke-width="6.2" stroke-linejoin="round" stroke-linecap="round" mask="url(#nochip)"/>
<path d="M105.97 140.99 L226.99 140.99" fill="none" stroke="#d2cc2a" stroke-width="4.6" stroke-linejoin="round" stroke-linecap="round"/>
<path d="M105.97 140.99 L226.99 140.99" fill="none" stroke="#fcfc00" stroke-width="3.1" stroke-linejoin="round" stroke-linecap="round"/>
<circle cx="105.97" cy="140.99" r="2.4" fill="#64c81e" fill-opacity="0.27" stroke="#2e7a10" stroke-opacity="0.25" stroke-width="0.5"/>
<circle cx="105.97" cy="140.99" r="2.95" fill="none" stroke="#62d862" stroke-opacity="0.9" stroke-width="0.9"/>
<circle cx="226.99" cy="140.99" r="2.4" fill="#64c81e" fill-opacity="0.27" stroke="#2e7a10" stroke-opacity="0.25" stroke-width="0.5"/>
<circle cx="226.99" cy="140.99" r="2.95" fill="none" stroke="#62d862" stroke-opacity="0.9" stroke-width="0.9"/>
<g fill="none" stroke="#858585" stroke-width="1.75" stroke-linecap="round" stroke-linejoin="round">
<path d="M593.9 475.3 V466 Q593.9 463.4 596.5 463.4 H597.6"/>
<path d="M591.4 467.6 H597.1"/>
<path d="M600.4 473.6 V467"/>
<path d="M600.4 470.6 Q601.2 467.4 604.6 467.4"/>
<path d="M609.2 467.4 V475.3"/>
<path d="M615.5 463.4 V473.3 Q615.5 475.2 617.6 475.2 H618.6"/>
<path d="M612.9 467.6 H618.9"/>
<path d="M621.2 467.4 H627.8 L621.3 475 H626.8"/>
<path d="M633.2 467.4 V475.3"/>
<path d="M637.6 475.3 V467.4 M637.6 469.8 Q638.6 467.3 641.2 467.3 Q644.2 467.3 644.2 470.2 V473.6"/>
<path d="M655.7 467.4 V477.2 Q655.7 479.5 653.2 479.5 H649.6 M655.5 470.2 Q654.6 467.3 652.4 467.3 Q649.3 467.3 649.3 471.2 Q649.3 475.1 652.4 475.1 Q654.7 475.1 655.6 472.6"/>
</g>
<g fill="#ffffff" stroke="#858585" stroke-width="0.95">
<circle cx="600.4" cy="475" r="1.25"/>
<circle cx="609.2" cy="463.4" r="1.25"/>
<circle cx="628.2" cy="474.8" r="1.25"/>
<circle cx="633.2" cy="463.4" r="1.25"/>
<circle cx="644.2" cy="474.8" r="1.25"/>
</g>
</svg>
</body></html>
